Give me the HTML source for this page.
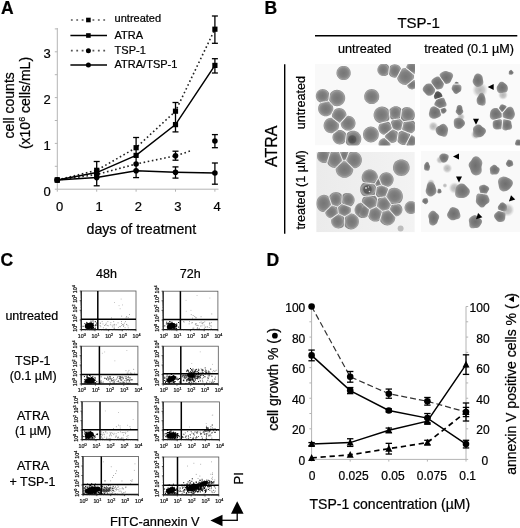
<!DOCTYPE html>
<html><head><meta charset="utf-8"><style>
html,body{margin:0;padding:0;background:#fff;width:520px;height:528px;overflow:hidden}
svg{display:block;will-change:transform;filter:blur(0.35px)}
text{font-family:"Liberation Sans", sans-serif;stroke:#000;stroke-width:0.22px}
</style></head><body>
<svg width="520" height="528" viewBox="0 0 520 528">
<rect width="520" height="528" fill="#fff"/>
<text x="1" y="14" font-size="17.5" text-anchor="start" font-weight="bold" fill="#000">A</text>
<text x="264.6" y="14" font-size="17.5" text-anchor="start" font-weight="bold" fill="#000">B</text>
<text x="0.5" y="266" font-size="17.5" text-anchor="start" font-weight="bold" fill="#000">C</text>
<text x="266.5" y="266" font-size="17.5" text-anchor="start" font-weight="bold" fill="#000">D</text>
<line x1="57.3" y1="28" x2="57.3" y2="189.2" stroke="#b4b4b4" stroke-width="1"/>
<line x1="57.3" y1="189.2" x2="218.5" y2="189.2" stroke="#b4b4b4" stroke-width="1"/>
<line x1="54.8" y1="189.2" x2="57.3" y2="189.2" stroke="#b4b4b4" stroke-width="1"/>
<line x1="54.8" y1="166.29999999999998" x2="57.3" y2="166.29999999999998" stroke="#b4b4b4" stroke-width="1"/>
<line x1="54.8" y1="143.39999999999998" x2="57.3" y2="143.39999999999998" stroke="#b4b4b4" stroke-width="1"/>
<line x1="54.8" y1="120.5" x2="57.3" y2="120.5" stroke="#b4b4b4" stroke-width="1"/>
<line x1="54.8" y1="97.6" x2="57.3" y2="97.6" stroke="#b4b4b4" stroke-width="1"/>
<line x1="54.8" y1="74.69999999999999" x2="57.3" y2="74.69999999999999" stroke="#b4b4b4" stroke-width="1"/>
<line x1="54.8" y1="51.80000000000001" x2="57.3" y2="51.80000000000001" stroke="#b4b4b4" stroke-width="1"/>
<line x1="54.8" y1="28.900000000000006" x2="57.3" y2="28.900000000000006" stroke="#b4b4b4" stroke-width="1"/>
<line x1="57.3" y1="189.2" x2="57.3" y2="191.7" stroke="#b4b4b4" stroke-width="1"/>
<line x1="96.69999999999999" y1="189.2" x2="96.69999999999999" y2="191.7" stroke="#b4b4b4" stroke-width="1"/>
<line x1="136.1" y1="189.2" x2="136.1" y2="191.7" stroke="#b4b4b4" stroke-width="1"/>
<line x1="175.5" y1="189.2" x2="175.5" y2="191.7" stroke="#b4b4b4" stroke-width="1"/>
<line x1="214.89999999999998" y1="189.2" x2="214.89999999999998" y2="191.7" stroke="#b4b4b4" stroke-width="1"/>
<text x="50.8" y="195.79999999999998" font-size="13" text-anchor="end" fill="#000">0</text>
<text x="50.8" y="149.99999999999997" font-size="13" text-anchor="end" fill="#000">1</text>
<text x="50.8" y="104.19999999999999" font-size="13" text-anchor="end" fill="#000">2</text>
<text x="50.8" y="58.40000000000001" font-size="13" text-anchor="end" fill="#000">3</text>
<text x="59.599999999999994" y="210.8" font-size="13" text-anchor="middle" fill="#000">0</text>
<text x="98.99999999999999" y="210.8" font-size="13" text-anchor="middle" fill="#000">1</text>
<text x="138.4" y="210.8" font-size="13" text-anchor="middle" fill="#000">2</text>
<text x="177.8" y="210.8" font-size="13" text-anchor="middle" fill="#000">3</text>
<text x="217.2" y="210.8" font-size="13" text-anchor="middle" fill="#000">4</text>
<text x="86.5" y="233.8" font-size="14.2" text-anchor="start" fill="#000">days of treatment</text>
<text x="14.5" y="105.3" font-size="14" text-anchor="middle" transform="rotate(-90 14.5 105.3)" fill="#000">cell counts</text>
<text x="30" y="103" font-size="14" text-anchor="middle" transform="rotate(-90 30 103)">(x10<tspan font-size="9" dy="-5">6</tspan><tspan dy="5"> cells/mL)</tspan></text>
<polyline points="57.3,180.0 96.7,170.3 136.1,147.7 175.5,111.2 214.9,29.2" fill="none" stroke="#222" stroke-width="1.6" stroke-dasharray="1.6 2.6"/>
<polyline points="57.3,180.0 96.7,174.5 136.1,164.0 175.5,155.8 191.5,150.6" fill="none" stroke="#222" stroke-width="1.6" stroke-dasharray="1.6 2.6"/>
<polyline points="57.3,180.0 96.7,172.6 136.1,155.4 175.5,124.6 214.9,65.4" fill="none" stroke="#000" stroke-width="1.5"/>
<polyline points="57.3,180.0 96.7,177.6 136.1,170.8 175.5,172.3 214.9,173.0" fill="none" stroke="#000" stroke-width="1.5"/>
<line x1="96.69999999999999" y1="161.5" x2="96.69999999999999" y2="185.8" stroke="#000" stroke-width="1.3"/>
<line x1="93.69999999999999" y1="161.5" x2="99.69999999999999" y2="161.5" stroke="#000" stroke-width="1.3"/>
<line x1="93.69999999999999" y1="185.8" x2="99.69999999999999" y2="185.8" stroke="#000" stroke-width="1.3"/>
<line x1="136.1" y1="137.5" x2="136.1" y2="177.6" stroke="#000" stroke-width="1.3"/>
<line x1="133.1" y1="137.5" x2="139.1" y2="137.5" stroke="#000" stroke-width="1.3"/>
<line x1="133.1" y1="177.6" x2="139.1" y2="177.6" stroke="#000" stroke-width="1.3"/>
<line x1="175.5" y1="102.5" x2="175.5" y2="131.9" stroke="#000" stroke-width="1.3"/>
<line x1="172.5" y1="102.5" x2="178.5" y2="102.5" stroke="#000" stroke-width="1.3"/>
<line x1="172.5" y1="131.9" x2="178.5" y2="131.9" stroke="#000" stroke-width="1.3"/>
<line x1="175.5" y1="151.2" x2="175.5" y2="160.2" stroke="#000" stroke-width="1.3"/>
<line x1="172.5" y1="151.2" x2="178.5" y2="151.2" stroke="#000" stroke-width="1.3"/>
<line x1="172.5" y1="160.2" x2="178.5" y2="160.2" stroke="#000" stroke-width="1.3"/>
<line x1="175.5" y1="166.9" x2="175.5" y2="178.1" stroke="#000" stroke-width="1.3"/>
<line x1="172.5" y1="166.9" x2="178.5" y2="166.9" stroke="#000" stroke-width="1.3"/>
<line x1="172.5" y1="178.1" x2="178.5" y2="178.1" stroke="#000" stroke-width="1.3"/>
<line x1="214.89999999999998" y1="16" x2="214.89999999999998" y2="43.3" stroke="#000" stroke-width="1.3"/>
<line x1="211.89999999999998" y1="16" x2="217.89999999999998" y2="16" stroke="#000" stroke-width="1.3"/>
<line x1="211.89999999999998" y1="43.3" x2="217.89999999999998" y2="43.3" stroke="#000" stroke-width="1.3"/>
<line x1="214.89999999999998" y1="58.7" x2="214.89999999999998" y2="73" stroke="#000" stroke-width="1.3"/>
<line x1="211.89999999999998" y1="58.7" x2="217.89999999999998" y2="58.7" stroke="#000" stroke-width="1.3"/>
<line x1="211.89999999999998" y1="73" x2="217.89999999999998" y2="73" stroke="#000" stroke-width="1.3"/>
<line x1="214.89999999999998" y1="134.6" x2="214.89999999999998" y2="147.7" stroke="#000" stroke-width="1.3"/>
<line x1="211.89999999999998" y1="134.6" x2="217.89999999999998" y2="134.6" stroke="#000" stroke-width="1.3"/>
<line x1="211.89999999999998" y1="147.7" x2="217.89999999999998" y2="147.7" stroke="#000" stroke-width="1.3"/>
<line x1="214.89999999999998" y1="163" x2="214.89999999999998" y2="184.2" stroke="#000" stroke-width="1.3"/>
<line x1="211.89999999999998" y1="163" x2="217.89999999999998" y2="163" stroke="#000" stroke-width="1.3"/>
<line x1="211.89999999999998" y1="184.2" x2="217.89999999999998" y2="184.2" stroke="#000" stroke-width="1.3"/>
<rect x="54.699999999999996" y="177.44" width="5.2" height="5.2" fill="#000"/>
<rect x="94.1" y="167.70000000000002" width="5.2" height="5.2" fill="#000"/>
<rect x="133.5" y="145.1" width="5.2" height="5.2" fill="#000"/>
<rect x="172.9" y="108.60000000000001" width="5.2" height="5.2" fill="#000"/>
<rect x="212.29999999999998" y="26.599999999999998" width="5.2" height="5.2" fill="#000"/>
<rect x="54.699999999999996" y="177.44" width="5.2" height="5.2" fill="#000"/>
<rect x="94.1" y="170.0" width="5.2" height="5.2" fill="#000"/>
<rect x="133.5" y="152.8" width="5.2" height="5.2" fill="#000"/>
<rect x="172.9" y="122.0" width="5.2" height="5.2" fill="#000"/>
<rect x="212.29999999999998" y="62.800000000000004" width="5.2" height="5.2" fill="#000"/>
<circle cx="57.3" cy="180.0" r="2.8" fill="#000"/>
<circle cx="96.7" cy="174.5" r="2.8" fill="#000"/>
<circle cx="136.1" cy="164.0" r="2.8" fill="#000"/>
<circle cx="175.5" cy="155.8" r="2.8" fill="#000"/>
<circle cx="214.9" cy="141.0" r="2.8" fill="#000"/>
<circle cx="57.3" cy="180.0" r="2.8" fill="#000"/>
<circle cx="96.7" cy="177.6" r="2.8" fill="#000"/>
<circle cx="136.1" cy="170.8" r="2.8" fill="#000"/>
<circle cx="175.5" cy="172.3" r="2.8" fill="#000"/>
<circle cx="214.9" cy="173.0" r="2.8" fill="#000"/>
<line x1="70.9" y1="20" x2="107" y2="20" stroke="#555" stroke-width="1.7" stroke-dasharray="1.8 3.6"/>
<rect x="86.10000000000001" y="17.7" width="4.6" height="4.6" fill="#000"/>
<text x="114.6" y="21.8" font-size="11" text-anchor="start" fill="#000">untreated</text>
<line x1="70.4" y1="35.5" x2="107" y2="35.5" stroke="#000" stroke-width="1.5"/>
<rect x="86.10000000000001" y="33.2" width="4.6" height="4.6" fill="#000"/>
<text x="114.6" y="38.5" font-size="11" text-anchor="start" fill="#000">ATRA</text>
<line x1="70.9" y1="50.7" x2="107" y2="50.7" stroke="#555" stroke-width="1.7" stroke-dasharray="1.8 3.6"/>
<circle cx="88.4" cy="50.7" r="2.5" fill="#000"/>
<text x="114.6" y="54.2" font-size="11" text-anchor="start" fill="#000">TSP-1</text>
<line x1="70.4" y1="65" x2="107" y2="65" stroke="#000" stroke-width="1.5"/>
<circle cx="88.4" cy="65.0" r="2.5" fill="#000"/>
<text x="114.6" y="67.7" font-size="11" text-anchor="start" fill="#000">ATRA/TSP-1</text>
<text x="418.7" y="27.7" font-size="15" text-anchor="middle" fill="#000">TSP-1</text>
<line x1="315" y1="35.8" x2="517.3" y2="35.8" stroke="#000" stroke-width="1.5"/>
<text x="338.0" y="53.3" font-size="12.6" text-anchor="start" fill="#000">untreated</text>
<text x="424.2" y="52.5" font-size="12.6" text-anchor="start" fill="#000">treated (0.1 µM)</text>
<line x1="284.7" y1="64.3" x2="284.7" y2="233.7" stroke="#000" stroke-width="1.4"/>
<text x="277.0" y="146.3" font-size="16" text-anchor="middle" transform="rotate(-90 277.0 146.3)" fill="#000">ATRA</text>
<text x="305.0" y="102.6" font-size="12.6" text-anchor="middle" transform="rotate(-90 305.0 102.6)" fill="#000">untreated</text>
<text x="305.0" y="189.9" font-size="12.6" text-anchor="middle" transform="rotate(-90 305.0 189.9)" fill="#000">treated (1 µM)</text>
<defs><radialGradient id="gA" cx="0.5" cy="0.5" r="0.5"><stop offset="0" stop-color="#767676"/><stop offset="0.5" stop-color="#7f7f7f"/><stop offset="0.75" stop-color="#8c8c8c"/><stop offset="0.88" stop-color="#a0a0a0"/><stop offset="0.96" stop-color="#939393"/><stop offset="1" stop-color="#878787"/></radialGradient><radialGradient id="gB" cx="0.5" cy="0.5" r="0.5"><stop offset="0" stop-color="#6e6e6e"/><stop offset="0.6" stop-color="#7c7c7c"/><stop offset="0.85" stop-color="#8c8c8c"/><stop offset="1" stop-color="#9c9c9c"/></radialGradient><radialGradient id="gN" cx="0.5" cy="0.5" r="0.5"><stop offset="0" stop-color="#4a4a4a"/><stop offset="0.8" stop-color="#5a5a5a"/><stop offset="1" stop-color="#6a6a6a"/></radialGradient><radialGradient id="gP" cx="0.5" cy="0.5" r="0.5"><stop offset="0" stop-color="#b4b4b4"/><stop offset="0.55" stop-color="#c4c4c4" stop-opacity="0.9"/><stop offset="1" stop-color="#d8d8d8" stop-opacity="0"/></radialGradient><linearGradient id="bg3" x1="0" y1="0" x2="1" y2="0"><stop offset="0" stop-color="#ebebeb"/><stop offset="1" stop-color="#f3f3f3"/></linearGradient></defs>
<clipPath id="clip1"><rect x="315" y="64" width="100" height="81.5"/></clipPath>
<g clip-path="url(#clip1)">
<rect x="315" y="64" width="100" height="81.5" fill="#f9f9f9"/>
<polygon points="350.70,73.00 350.59,74.23 350.27,75.43 349.75,76.55 349.04,77.56 348.16,78.44 347.15,79.15 346.03,79.67 344.83,79.99 343.60,80.10 342.37,79.99 341.17,79.67 340.05,79.15 339.04,78.44 338.16,77.56 337.45,76.55 336.93,75.43 336.61,74.23 336.50,73.00 336.61,71.77 336.93,70.57 337.45,69.45 338.16,68.44 339.04,67.56 340.05,66.85 341.17,66.33 342.37,66.01 343.60,65.90 344.83,66.01 346.03,66.33 347.15,66.85 348.16,67.56 349.04,68.44 349.75,69.45 350.27,70.57 350.59,71.77" fill="url(#gA)"/>
<polygon points="328.85,96.00 328.70,97.06 328.55,98.13 328.39,99.28 327.99,100.44 326.79,100.88 325.67,101.14 324.66,101.38 323.69,101.61 322.70,101.84 321.63,102.10 320.37,102.39 319.25,101.98 318.26,101.29 317.41,100.44 316.72,99.45 316.22,98.36 315.90,97.20 315.80,96.00 315.90,94.80 316.22,93.64 316.72,92.55 317.41,91.56 318.26,90.71 319.25,90.02 320.34,89.52 321.50,89.20 322.70,89.10 323.90,89.20 325.06,89.52 326.15,90.02 327.14,90.71 327.99,91.56 328.68,92.55 329.18,93.64 329.00,94.89" fill="url(#gA)"/>
<polygon points="345.20,98.00 345.08,99.42 344.71,100.80 344.10,102.10 343.28,103.27 342.27,104.28 341.10,105.10 339.80,105.71 338.42,106.08 337.00,106.20 335.58,106.08 334.20,105.71 333.02,104.90 332.06,103.89 331.14,102.92 330.20,101.93 329.29,100.80 329.29,99.36 329.48,98.00 329.66,96.71 329.84,95.39 330.04,93.98 330.72,92.73 331.73,91.72 332.90,90.90 334.20,90.29 335.58,89.92 337.00,89.80 338.42,89.92 339.80,90.29 341.10,90.90 342.27,91.72 343.28,92.73 344.10,93.90 344.71,95.20 345.08,96.58" fill="url(#gA)"/>
<polygon points="333.30,108.70 333.13,110.01 332.54,111.19 331.98,112.32 331.40,113.48 330.59,114.52 329.50,115.28 328.30,115.84 327.02,116.18 325.70,116.30 324.38,116.18 323.10,115.84 321.90,115.28 320.81,114.52 319.88,113.59 319.12,112.50 318.56,111.30 318.22,110.02 318.10,108.70 318.22,107.38 318.56,106.10 319.12,104.90 319.88,103.81 321.05,103.16 322.33,102.86 323.47,102.58 324.58,102.32 325.70,102.06 326.92,101.77 328.30,101.56 329.37,102.35 330.25,103.28 331.09,104.18 331.96,105.09 332.84,106.10 333.18,107.38" fill="url(#gA)"/>
<polygon points="346.39,115.40 345.43,116.50 344.65,117.38 343.97,118.16 343.34,118.88 342.72,119.59 342.05,120.34 341.31,121.19 340.40,122.23 339.20,122.67 338.07,121.79 337.14,121.06 336.31,120.41 335.52,119.79 334.72,119.16 333.85,118.49 332.86,117.71 332.01,116.67 331.90,115.40 332.08,114.14 332.64,113.01 333.18,111.92 333.73,110.81 334.51,109.81 335.55,109.08 336.70,108.54 337.93,108.21 339.20,108.10 340.47,108.21 341.70,108.54 342.85,109.08 343.89,109.81 344.79,110.71 345.52,111.75 346.06,112.90 346.39,114.13" fill="url(#gA)"/>
<polygon points="339.00,125.50 338.88,126.84 338.54,128.13 337.96,129.35 336.84,130.15 335.82,130.89 334.82,131.60 333.79,132.34 332.64,133.08 331.30,133.20 329.96,133.08 328.67,132.74 327.45,132.17 326.35,131.40 325.40,130.45 324.63,129.35 324.06,128.13 323.72,126.84 323.60,125.50 323.72,124.16 324.06,122.87 324.63,121.65 325.40,120.55 326.35,119.60 327.45,118.83 328.67,118.26 329.96,117.92 331.30,117.80 332.52,118.59 333.53,119.38 334.43,120.08 335.28,120.75 336.15,121.43 337.09,122.16 338.16,123.00 338.88,124.16" fill="url(#gA)"/>
<polygon points="355.50,123.20 355.39,124.48 355.05,125.73 354.51,126.90 353.77,127.96 352.86,128.87 351.80,129.61 350.63,130.15 349.38,130.49 348.10,130.60 346.82,130.49 345.57,130.15 344.40,129.61 343.34,128.87 342.43,127.96 341.69,126.90 341.15,125.73 340.81,124.48 340.75,123.20 341.73,122.08 342.53,121.17 343.22,120.38 343.86,119.65 344.50,118.91 345.18,118.14 345.94,117.27 346.87,116.22 348.10,115.80 349.38,115.91 350.63,116.25 351.80,116.79 352.86,117.53 353.77,118.44 354.51,119.50 355.05,120.67 355.39,121.92" fill="url(#gA)"/>
<polygon points="345.48,137.20 345.35,138.20 345.22,139.21 345.09,140.31 344.92,141.58 344.33,142.72 343.30,143.44 342.16,143.97 340.95,144.29 339.70,144.40 338.45,144.29 337.24,143.97 336.10,143.44 335.07,142.72 334.18,141.83 333.46,140.80 332.93,139.66 332.61,138.45 332.50,137.20 332.61,135.95 332.93,134.74 333.53,133.64 334.57,132.89 335.51,132.21 336.44,131.55 337.39,130.86 338.45,130.11 339.70,130.00 340.95,130.11 342.16,130.43 343.30,130.96 344.33,131.68 345.22,132.57 345.94,133.60 345.76,134.99 345.61,136.16" fill="url(#gA)"/>
<polygon points="361.30,138.90 361.18,140.32 360.81,141.70 360.20,143.00 359.38,144.17 358.37,145.18 357.20,146.00 355.90,146.61 354.52,146.98 353.10,147.10 351.68,146.98 350.30,146.61 349.00,146.00 347.83,145.18 346.82,144.17 346.00,143.00 345.84,141.54 346.01,140.15 346.17,138.90 346.32,137.70 346.48,136.49 346.64,135.17 346.84,133.65 347.83,132.62 349.00,131.80 350.30,131.22 351.68,130.82 353.10,130.70 354.52,130.82 355.90,131.19 357.20,131.80 358.37,132.62 359.38,133.63 360.20,134.80 360.81,136.10 361.18,137.48" fill="url(#gA)"/>
<polygon points="379.20,96.60 379.09,97.90 378.75,99.17 378.20,100.35 377.45,101.42 376.52,102.35 375.45,103.10 374.27,103.65 373.00,103.99 371.70,104.10 370.40,103.99 369.13,103.65 367.95,103.10 366.88,102.35 365.95,101.42 365.20,100.35 364.65,99.17 364.31,97.90 364.20,96.60 364.31,95.30 364.65,94.03 365.20,92.85 365.95,91.78 366.88,90.85 367.95,90.10 369.13,89.55 370.40,89.21 371.70,89.10 373.00,89.21 374.27,89.55 375.45,90.10 376.52,90.85 377.45,91.78 378.20,92.85 378.75,94.03 379.09,95.30" fill="url(#gA)"/>
<polygon points="388.63,69.80 388.54,70.65 388.44,71.53 388.34,72.48 388.22,73.59 387.75,74.63 386.85,75.26 385.85,75.72 384.79,76.00 383.70,76.10 382.61,76.00 381.55,75.72 380.55,75.26 379.65,74.63 378.87,73.85 378.24,72.95 377.78,71.95 377.50,70.89 377.40,69.80 377.50,68.71 377.78,67.65 378.24,66.65 378.87,65.75 379.65,64.97 380.55,64.34 381.55,63.88 382.61,63.60 383.70,63.50 384.79,63.60 385.85,63.88 386.85,64.34 387.75,64.97 388.53,65.75 388.96,66.77 388.83,67.93 388.72,68.91" fill="url(#gA)"/>
<polygon points="399.78,71.00 399.37,71.80 398.99,72.53 398.64,73.22 398.28,73.92 397.89,74.68 397.43,75.56 396.86,76.67 395.96,77.60 394.80,77.70 393.64,77.60 392.51,77.30 391.45,76.80 390.49,76.13 389.67,75.31 389.04,74.32 389.18,73.04 389.30,71.97 389.40,71.00 389.50,70.07 389.61,69.11 389.72,68.07 389.85,66.85 390.49,65.87 391.45,65.20 392.51,64.70 393.64,64.40 394.80,64.30 395.96,64.40 397.09,64.70 398.15,65.20 399.11,65.87 399.93,66.69 400.60,67.65 400.92,68.77 400.28,70.03" fill="url(#gA)"/>
<polygon points="417.90,68.40 417.81,69.42 417.54,70.42 417.11,71.35 416.52,72.19 415.79,72.92 414.95,73.51 413.94,73.73 412.77,72.79 412.00,72.17 411.42,71.70 410.94,71.32 410.51,70.98 410.11,70.65 409.70,70.33 409.27,69.98 408.77,69.58 408.15,69.08 407.30,68.40 406.19,67.38 406.46,66.38 406.89,65.45 407.48,64.61 408.21,63.88 409.05,63.29 409.98,62.86 410.98,62.59 412.00,62.50 413.02,62.59 414.02,62.86 414.95,63.29 415.79,63.88 416.52,64.61 417.11,65.45 417.54,66.38 417.81,67.38" fill="url(#gA)"/>
<polygon points="414.00,76.50 413.87,77.98 413.21,79.31 412.03,80.27 411.00,81.11 410.03,81.90 409.07,82.68 408.05,83.50 406.90,84.44 405.50,85.00 404.02,84.87 402.59,84.49 401.25,83.86 400.04,83.01 398.99,81.96 398.14,80.75 397.51,79.41 397.21,77.96 397.96,76.50 398.59,75.28 399.15,74.19 399.69,73.14 400.23,72.08 400.83,70.93 401.51,69.59 402.59,68.51 404.02,68.13 405.50,68.11 406.80,69.15 407.86,70.00 408.81,70.76 409.71,71.48 410.61,72.21 411.58,72.99 412.69,73.88 413.87,75.02" fill="url(#gA)"/>
<polygon points="416.90,84.50 416.83,85.35 416.60,86.18 416.24,86.95 415.75,87.65 415.15,88.25 414.45,88.74 413.68,89.10 412.85,89.33 412.00,89.40 411.15,89.33 410.32,89.10 409.55,88.74 408.85,88.25 408.25,87.65 407.76,86.95 407.40,86.18 407.21,85.34 408.25,84.50 408.92,83.96 409.41,83.56 409.81,83.23 410.16,82.95 410.48,82.69 410.80,82.43 411.14,82.15 411.53,81.84 412.00,81.45 412.63,80.94 413.57,80.18 414.45,80.26 415.15,80.75 415.75,81.35 416.24,82.05 416.60,82.82 416.83,83.65" fill="url(#gA)"/>
<polygon points="389.15,115.00 389.29,116.29 389.45,117.71 389.27,119.20 388.43,120.40 387.08,121.05 385.69,121.40 384.44,121.72 383.24,122.02 382.00,122.34 380.65,122.68 379.13,122.89 377.80,122.27 376.60,121.43 375.57,120.40 374.73,119.20 374.11,117.87 373.73,116.46 373.60,115.00 373.73,113.54 374.11,112.13 374.73,110.80 375.57,109.60 376.60,108.57 377.80,107.73 379.13,107.11 380.54,106.73 382.00,106.60 383.46,106.73 384.87,107.11 386.20,107.73 387.40,108.57 388.43,109.60 388.73,111.11 388.88,112.50 389.02,113.76" fill="url(#gA)"/>
<polygon points="400.64,113.50 400.53,114.33 400.41,115.18 400.29,116.09 400.15,117.15 399.85,118.33 398.69,118.50 397.68,118.66 396.73,118.80 395.80,118.94 394.81,119.09 393.70,119.26 392.35,119.47 391.11,119.09 390.39,118.04 390.25,116.71 390.12,115.57 390.01,114.52 389.90,113.50 389.78,112.44 389.65,111.26 389.50,109.86 390.21,108.81 391.11,107.91 392.15,107.18 393.30,106.64 394.53,106.31 395.80,106.20 397.07,106.31 398.30,106.64 399.45,107.18 400.49,107.91 401.25,108.93 401.04,110.47 400.89,111.65 400.76,112.63" fill="url(#gA)"/>
<polygon points="414.90,115.00 414.78,116.37 414.42,117.70 413.84,118.95 412.84,119.90 411.30,120.13 410.07,120.31 408.99,120.47 407.99,120.62 407.00,120.77 405.95,120.93 404.78,121.10 403.40,121.24 402.54,120.32 401.71,119.44 400.87,118.54 401.06,117.16 401.21,116.02 401.35,115.00 401.48,114.03 401.61,113.04 401.75,111.97 401.92,110.74 402.12,109.19 403.05,108.16 404.30,107.58 405.63,107.22 407.00,107.10 408.37,107.22 409.70,107.58 410.95,108.16 412.08,108.95 413.05,109.92 413.84,111.05 414.42,112.30 414.78,113.63" fill="url(#gA)"/>
<polygon points="391.76,128.00 391.43,129.08 390.45,129.88 389.66,130.52 388.97,131.08 388.32,131.60 387.68,132.13 387.00,132.68 386.23,133.30 385.30,134.06 384.10,134.80 382.94,134.48 381.85,133.98 380.86,133.29 380.01,132.44 379.32,131.45 378.82,130.36 378.50,129.20 378.40,128.00 378.50,126.80 378.82,125.64 379.32,124.55 380.20,123.72 381.45,123.41 382.49,123.14 383.44,122.90 384.36,122.67 385.30,122.43 386.33,122.17 387.53,121.86 388.75,122.02 389.74,122.71 390.36,123.76 390.72,124.87 391.07,125.90 391.40,126.92" fill="url(#gA)"/>
<polygon points="402.36,124.00 402.18,124.84 402.00,125.67 401.81,126.55 401.61,127.53 401.36,128.71 400.65,129.63 399.62,130.11 398.53,130.40 397.40,130.50 396.33,130.09 395.35,129.63 394.40,129.19 393.43,128.73 392.69,127.95 392.35,126.92 392.03,125.95 391.72,125.00 391.38,124.00 391.01,122.87 391.29,121.78 391.77,120.75 392.97,120.28 394.13,120.11 395.07,119.96 395.89,119.84 396.65,119.72 397.40,119.61 398.20,119.49 399.09,119.35 400.18,119.19 400.87,119.86 401.51,120.55 402.17,121.25 402.77,122.04 402.55,123.09" fill="url(#gA)"/>
<polygon points="416.00,126.40 415.89,127.67 415.56,128.90 415.02,130.05 414.29,131.09 413.39,131.99 412.35,132.72 411.20,133.26 409.88,133.08 408.70,132.58 407.69,132.15 406.75,131.75 405.83,131.36 404.88,130.96 403.81,130.50 402.53,129.96 402.27,128.74 402.54,127.49 402.77,126.40 402.98,125.39 403.19,124.40 403.41,123.35 403.67,122.18 404.99,121.98 406.06,121.82 406.98,121.68 407.85,121.56 408.70,121.43 409.60,121.29 410.61,121.14 411.84,120.96 413.39,120.81 414.29,121.71 415.02,122.75 415.56,123.90 415.89,125.13" fill="url(#gA)"/>
<polygon points="378.80,134.50 378.68,135.87 378.32,137.20 377.74,138.45 376.95,139.58 375.98,140.55 374.85,141.34 373.60,141.92 372.27,142.28 370.90,142.40 369.53,142.28 368.20,141.92 366.95,141.34 365.82,140.55 364.85,139.58 364.06,138.45 363.48,137.20 363.12,135.87 363.00,134.50 363.12,133.13 363.48,131.80 364.06,130.55 364.85,129.42 365.82,128.45 366.95,127.66 368.20,127.08 369.53,126.72 370.90,126.60 372.27,126.72 373.60,127.08 374.85,127.66 375.98,128.45 376.95,129.42 377.74,130.55 378.32,131.80 378.68,133.13" fill="url(#gA)"/>
<polygon points="397.28,136.00 397.15,136.94 397.01,137.90 396.87,138.93 396.70,140.11 396.24,141.29 395.25,141.98 394.16,142.48 393.00,142.80 391.80,142.90 390.66,142.48 389.74,141.65 388.96,140.93 388.23,140.26 387.51,139.60 386.75,138.91 385.91,138.14 385.00,137.20 384.90,136.00 385.67,134.92 386.65,134.12 387.44,133.48 388.13,132.92 388.78,132.40 389.42,131.87 390.10,131.32 390.87,130.70 391.80,129.94 392.95,129.50 393.99,129.99 395.00,130.46 396.04,130.95 397.09,131.56 397.76,132.56 397.58,133.90 397.42,135.01" fill="url(#gA)"/>
<polygon points="408.89,137.70 408.47,138.51 408.10,139.23 407.74,139.92 407.38,140.62 406.99,141.38 406.53,142.26 405.96,143.37 405.17,144.89 403.90,145.00 402.63,144.89 401.40,144.56 400.25,144.02 399.21,143.29 398.31,142.39 397.58,141.35 397.63,139.98 397.80,138.78 397.95,137.70 398.09,136.68 398.24,135.64 398.40,134.52 398.58,133.23 399.21,132.11 400.25,131.38 401.40,130.84 402.72,131.02 403.90,131.52 404.91,131.95 405.85,132.35 406.77,132.74 407.72,133.14 408.79,133.60 410.07,134.14 410.04,135.46 409.39,136.73" fill="url(#gA)"/>
<polygon points="390.40,144.00 390.31,145.02 390.04,146.02 389.61,146.95 389.02,147.79 388.29,148.52 387.45,149.11 386.52,149.54 385.52,149.81 384.50,149.90 383.48,149.81 382.48,149.54 381.55,149.11 380.71,148.52 379.98,147.79 379.39,146.95 378.96,146.02 378.69,145.02 378.60,144.00 378.69,142.98 378.96,141.98 379.39,141.05 379.98,140.21 380.71,139.48 381.55,138.89 382.48,138.46 383.48,138.19 384.50,138.10 385.40,138.90 386.12,139.55 386.74,140.12 387.31,140.65 387.88,141.16 388.47,141.71 389.14,142.31 389.94,143.04" fill="url(#gA)"/>
<polygon points="416.20,141.00 416.11,142.02 415.84,143.02 415.41,143.95 414.82,144.79 414.09,145.52 413.25,146.11 412.32,146.54 411.32,146.81 410.30,146.90 409.28,146.81 408.28,146.54 407.35,146.11 406.51,145.52 406.60,144.11 407.31,142.73 407.71,141.94 407.99,141.41 408.20,141.00 408.37,140.66 408.53,140.36 408.68,140.07 408.83,139.77 409.00,139.45 409.19,139.08 409.43,138.61 409.76,137.96 410.30,136.93 411.32,135.19 412.32,135.46 413.25,135.89 414.09,136.48 414.82,137.21 415.41,138.05 415.84,138.98 416.11,139.98" fill="url(#gA)"/>
</g>
<circle cx="352.3" cy="139.4" r="4.3" fill="url(#gN)" clip-path="url(#clip1)"/>
<clipPath id="clip2"><rect x="419.6" y="64" width="100.39999999999998" height="81.5"/></clipPath>
<g clip-path="url(#clip2)">
<rect x="419.6" y="64" width="100.39999999999998" height="81.5" fill="#fafafa"/>
<circle cx="480" cy="90" r="8" fill="url(#gP)"/>
<circle cx="433.3" cy="126.4" r="5" fill="url(#gP)"/>
<circle cx="475.7" cy="134.5" r="5" fill="url(#gP)"/>
<circle cx="461" cy="117" r="4" fill="url(#gP)"/>
<circle cx="503" cy="95" r="5" fill="url(#gP)"/>
<polygon points="452.77,77.30 452.24,78.36 451.74,79.32 451.33,80.26 450.89,81.23 450.28,82.16 449.45,82.92 448.45,83.48 447.36,83.86 446.20,84.10 445.09,83.57 444.32,82.45 443.73,81.59 443.22,80.85 442.76,80.19 442.31,79.54 441.85,78.88 441.35,78.15 440.76,77.30 440.01,76.21 439.53,74.87 440.07,73.76 440.93,72.88 441.92,72.20 442.95,71.66 444.00,71.26 445.10,71.05 446.20,71.10 447.25,71.36 448.24,71.71 449.24,72.03 450.33,72.37 451.48,72.87 452.47,73.68 453.06,74.80 453.13,76.08" fill="url(#gB)"/>
<polygon points="443.54,82.90 444.05,83.95 443.73,84.95 443.43,85.98 443.02,87.03 442.35,87.96 441.42,88.66 440.35,89.09 439.24,89.35 438.10,89.52 436.93,89.55 435.97,88.76 435.27,87.81 434.67,86.99 434.11,86.25 433.57,85.51 433.01,84.75 432.39,83.91 431.64,82.90 431.25,81.69 431.51,80.50 432.18,79.48 433.06,78.67 433.99,78.00 434.92,77.40 435.91,76.88 436.98,76.55 438.10,76.52 439.19,76.75 439.98,77.75 440.57,78.61 441.08,79.35 441.54,80.01 441.99,80.66 442.45,81.32 442.95,82.05" fill="url(#gB)"/>
<polygon points="435.09,89.40 435.03,90.41 434.93,91.45 434.48,92.39 433.87,93.23 433.24,94.09 432.44,94.84 431.45,95.32 430.41,95.68 429.30,95.86 428.18,95.75 427.15,95.31 426.29,94.62 425.58,93.83 424.93,93.07 424.23,92.32 423.52,91.50 422.95,90.52 422.69,89.40 422.82,88.26 423.28,87.21 423.92,86.29 424.62,85.47 425.38,84.73 426.24,84.10 427.21,83.67 428.25,83.47 429.30,83.46 430.33,83.54 431.29,83.94 431.94,84.82 432.50,85.58 433.02,86.28 433.52,86.96 434.05,87.67 434.63,88.46" fill="url(#gB)"/>
<polygon points="442.39,95.80 442.49,96.57 441.56,97.06 440.75,97.33 440.16,97.53 439.68,97.69 439.27,97.82 438.88,97.95 438.50,98.08 438.10,98.21 437.65,98.37 437.10,98.55 436.37,98.79 435.29,99.15 434.70,98.65 434.28,98.01 434.00,97.29 433.90,96.54 433.99,95.80 434.22,95.12 434.50,94.49 434.77,93.88 435.05,93.24 435.43,92.61 435.89,91.98 436.54,91.51 437.31,91.31 438.10,91.36 438.84,91.60 439.51,91.94 440.11,92.32 440.65,92.76 441.14,93.25 441.55,93.81 441.89,94.42 442.18,95.08" fill="url(#gN)"/>
<polygon points="446.19,103.00 446.54,104.06 446.53,105.19 446.05,106.21 444.83,106.63 443.83,106.97 442.97,107.27 442.16,107.55 441.35,107.82 440.50,108.11 439.59,108.17 438.79,107.71 438.03,107.27 437.28,106.84 436.48,106.38 435.56,105.85 434.45,105.20 434.30,104.09 434.59,103.00 435.12,102.05 435.63,101.23 436.01,100.41 436.55,99.68 437.46,99.38 438.26,99.11 438.99,98.86 439.73,98.62 440.50,98.36 441.37,98.07 442.42,97.72 443.52,97.76 444.29,98.49 444.79,99.40 445.08,100.35 445.35,101.24 445.72,102.08" fill="url(#gB)"/>
<polygon points="440.50,112.70 440.80,113.74 441.17,114.98 440.52,115.94 439.62,116.66 438.68,117.20 437.77,117.67 436.87,118.12 435.93,118.52 434.90,118.80 433.81,118.86 432.73,118.67 431.68,118.27 430.72,117.68 429.88,116.91 429.26,115.96 428.93,114.87 428.89,113.76 429.07,112.70 429.32,111.72 429.55,110.75 429.78,109.74 430.13,108.69 430.71,107.70 431.57,106.93 432.63,106.46 433.77,106.31 434.90,106.51 435.89,107.08 436.76,107.58 437.58,108.05 438.40,108.53 439.27,109.03 439.68,109.94 439.95,110.86 440.22,111.76" fill="url(#gB)"/>
<polygon points="446.68,110.30 446.59,110.93 446.30,111.50 445.90,111.97 445.49,112.39 445.09,112.79 444.66,113.17 444.15,113.47 443.59,113.63 443.00,113.65 442.42,113.57 441.85,113.46 441.50,112.91 441.32,112.31 441.18,111.83 441.06,111.42 440.94,111.05 440.84,110.68 440.72,110.30 440.60,109.88 440.45,109.37 440.73,108.99 441.23,108.82 441.64,108.68 441.99,108.55 442.32,108.44 442.65,108.33 443.00,108.21 443.39,108.08 443.87,107.91 444.50,107.69 445.06,107.84 445.42,108.27 445.79,108.69 446.19,109.14 446.52,109.68" fill="url(#gB)"/>
<polygon points="461.43,88.60 461.35,89.44 461.16,90.26 460.77,91.01 460.21,91.63 459.55,92.11 458.89,92.56 458.22,93.05 457.48,93.56 456.60,93.94 455.65,93.98 454.78,93.61 454.09,92.94 453.60,92.17 453.18,91.47 452.72,90.84 452.22,90.19 451.81,89.44 451.63,88.60 451.70,87.74 451.95,86.91 452.29,86.11 452.70,85.33 453.25,84.61 454.27,84.56 455.13,84.56 455.89,84.56 456.60,84.56 457.31,84.56 458.07,84.56 458.93,84.56 459.90,84.67 460.69,85.17 461.20,85.94 461.43,86.84 461.47,87.74" fill="url(#gB)"/>
<polygon points="458.55,83.70 456.60,83.70 456.60,83.70 456.60,83.70 456.60,83.70 456.60,83.70 456.60,83.70 456.60,83.70 456.60,83.70 456.60,83.70 456.60,83.70 456.60,83.70 456.60,83.70 456.60,83.70 456.60,83.70 456.60,83.70 456.60,83.70 456.60,83.70 454.55,83.70 454.51,83.33 454.59,82.97 454.78,82.65 455.03,82.38 455.30,82.15 455.60,81.97 455.92,81.84 456.26,81.78 456.60,81.80 456.92,81.86 457.24,81.94 457.57,82.02 457.92,82.13 458.25,82.32 458.50,82.60 458.63,82.96 458.63,83.34" fill="url(#gB)"/>
<polygon points="462.99,110.30 463.25,110.96 463.31,111.69 463.12,112.39 462.72,113.00 462.22,113.54 461.68,114.08 461.08,114.64 460.35,115.13 459.50,115.33 458.65,115.13 457.92,114.65 457.32,114.07 456.79,113.53 456.29,112.99 455.89,112.38 455.69,111.69 455.74,110.96 455.99,110.30 456.29,109.73 456.51,109.21 456.59,108.62 456.63,107.89 456.76,107.03 457.12,106.18 457.75,105.50 458.58,105.07 459.50,104.93 460.42,105.07 461.25,105.50 461.88,106.18 462.25,107.02 462.39,107.88 462.41,108.62 462.49,109.21 462.69,109.74" fill="url(#gB)"/>
<polygon points="465.02,123.20 464.79,124.22 464.29,125.13 463.65,125.89 463.00,126.55 462.36,127.20 461.67,127.83 460.89,128.39 459.98,128.78 459.00,128.95 458.00,128.89 457.02,128.65 456.09,128.24 455.26,127.66 454.60,126.89 454.16,125.99 453.95,125.04 453.87,124.10 453.82,123.20 453.76,122.28 453.77,121.30 453.95,120.29 454.42,119.36 455.16,118.62 456.07,118.13 457.06,117.87 458.04,117.75 459.00,117.75 459.94,117.86 460.85,118.13 461.69,118.54 462.46,119.08 463.18,119.69 463.86,120.39 464.47,121.21 464.90,122.16" fill="url(#gB)"/>
<polygon points="448.02,130.40 447.84,131.39 447.64,132.38 447.44,133.42 447.13,134.54 446.57,135.60 445.67,136.41 444.52,136.77 443.31,136.70 442.20,136.37 441.21,136.00 440.27,135.69 439.31,135.40 438.35,134.99 437.47,134.37 436.77,133.54 436.24,132.57 435.85,131.52 435.62,130.40 435.63,129.24 435.99,128.14 436.70,127.22 437.63,126.57 438.60,126.11 439.47,125.67 440.28,125.12 441.16,124.49 442.20,123.97 443.37,123.79 444.51,124.04 445.51,124.67 446.32,125.49 446.97,126.40 447.50,127.34 447.89,128.33 448.06,129.37" fill="url(#gB)"/>
<polygon points="483.12,80.50 483.30,81.42 483.37,82.42 483.20,83.44 482.74,84.39 482.04,85.19 481.19,85.85 480.25,86.41 479.22,86.87 478.10,87.11 476.95,87.02 475.89,86.57 475.01,85.85 474.30,85.03 473.70,84.19 473.19,83.33 472.81,82.42 472.64,81.46 472.72,80.50 472.99,79.60 473.35,78.77 473.68,77.95 473.98,77.05 474.35,76.03 474.92,75.00 475.78,74.13 476.89,73.62 478.10,73.51 479.29,73.77 480.36,74.29 481.28,75.00 481.99,75.87 482.46,76.84 482.71,77.84 482.83,78.78 482.95,79.65" fill="url(#gB)"/>
<polygon points="485.62,99.80 485.65,100.57 485.68,101.39 485.68,102.33 485.54,103.36 485.13,104.36 484.39,105.15 483.40,105.58 482.33,105.64 481.30,105.49 480.33,105.28 479.40,105.03 478.50,104.65 477.74,104.04 477.19,103.25 476.87,102.36 476.70,101.47 476.62,100.62 476.62,99.80 476.71,98.99 476.96,98.22 477.34,97.52 477.79,96.86 478.23,96.14 478.68,95.26 479.27,94.21 480.14,93.23 481.30,92.69 482.52,92.86 483.53,93.66 484.21,94.75 484.64,95.82 484.94,96.74 485.21,97.55 485.42,98.30 485.56,99.05" fill="url(#gB)"/>
<polygon points="507.87,87.80 507.91,88.81 507.79,89.84 507.44,90.83 506.80,91.66 505.92,92.23 504.92,92.51 503.95,92.62 503.06,92.70 502.20,92.88 501.27,93.09 500.25,93.17 499.22,92.96 498.32,92.43 497.63,91.64 497.15,90.72 496.83,89.75 496.67,88.78 496.67,87.80 496.88,86.86 497.27,86.01 497.74,85.23 498.22,84.46 498.72,83.65 499.32,82.81 500.12,82.09 501.12,81.68 502.20,81.68 503.21,82.06 504.08,82.65 504.82,83.27 505.52,83.85 506.21,84.44 506.85,85.12 507.36,85.92 507.70,86.83" fill="url(#gB)"/>
<polygon points="513.62,72.50 513.57,72.95 513.38,73.37 513.13,73.73 512.85,74.06 512.55,74.35 512.20,74.58 511.80,74.69 511.39,74.70 511.00,74.66 510.62,74.64 510.21,74.67 509.75,74.67 509.28,74.55 508.90,74.26 508.71,73.82 508.69,73.34 508.76,72.90 508.82,72.50 508.84,72.12 508.87,71.72 508.97,71.33 509.18,70.97 509.47,70.67 509.80,70.42 510.16,70.18 510.55,69.97 511.00,69.86 511.46,69.91 511.85,70.16 512.15,70.52 512.36,70.88 512.58,71.17 512.87,71.42 513.20,71.70 513.48,72.06" fill="url(#gB)"/>
<polygon points="501.73,114.30 501.79,115.36 501.86,116.51 501.27,117.46 500.34,118.11 499.23,118.38 498.29,118.61 497.45,118.82 496.63,119.02 495.80,119.23 494.89,119.46 493.83,119.72 492.63,119.79 491.60,119.31 490.73,118.56 490.13,117.57 489.86,116.46 489.84,115.35 489.94,114.30 490.07,113.29 490.24,112.28 490.53,111.26 491.02,110.29 491.74,109.46 492.63,108.81 493.62,108.32 494.69,108.00 495.80,107.88 496.91,108.00 497.92,108.47 498.63,109.39 499.25,110.19 499.83,110.92 500.39,111.65 500.98,112.41 501.65,113.27" fill="url(#gB)"/>
<polygon points="514.89,113.50 514.92,114.60 514.68,115.68 514.24,116.70 513.67,117.67 512.98,118.60 512.12,119.43 510.98,119.75 509.76,119.49 508.70,119.27 507.72,119.06 506.75,118.85 505.82,118.49 504.80,118.15 503.74,117.66 502.83,116.89 502.71,115.68 502.64,114.57 502.58,113.50 503.19,112.53 503.86,111.74 504.44,111.04 504.99,110.39 505.54,109.74 506.13,109.04 506.79,108.25 507.65,107.53 508.70,107.08 509.89,106.78 511.12,106.85 512.22,107.41 513.03,108.34 513.55,109.43 513.92,110.49 514.27,111.47 514.63,112.45" fill="url(#gB)"/>
<polygon points="505.24,108.70 504.95,109.04 504.71,109.32 504.51,109.57 504.31,109.80 504.12,110.03 503.91,110.28 503.68,110.55 503.39,110.90 503.00,111.36 502.41,112.06 501.80,112.00 501.40,111.48 501.05,111.03 500.72,110.61 500.40,110.20 500.07,109.77 499.69,109.28 499.24,108.70 498.93,107.98 499.22,107.32 499.57,106.72 499.91,106.10 500.27,105.45 500.76,104.82 501.43,104.38 502.21,104.24 503.00,104.40 503.70,104.73 504.32,105.06 504.94,105.34 505.59,105.61 506.23,105.99 506.73,106.55 506.23,107.53 505.63,108.24" fill="url(#gB)"/>
<polygon points="501.84,124.00 501.78,124.63 501.71,125.28 501.64,125.99 501.56,126.82 501.45,127.88 501.08,128.99 500.12,129.27 499.15,129.37 498.20,129.41 497.24,129.45 496.21,129.46 495.15,129.29 494.16,128.81 493.42,128.01 492.98,127.02 492.79,125.97 492.72,124.97 492.70,124.00 492.72,123.03 492.88,122.06 493.25,121.14 494.12,120.57 495.12,120.33 495.96,120.12 496.72,119.93 497.45,119.75 498.20,119.56 499.02,119.36 499.97,119.13 500.95,119.24 501.62,119.92 502.17,120.67 502.06,121.77 501.97,122.63 501.90,123.35" fill="url(#gB)"/>
<polygon points="511.72,124.80 512.00,125.81 512.15,126.93 511.90,128.03 511.19,128.90 510.17,129.42 509.10,129.66 508.13,129.83 507.23,130.09 506.30,130.38 505.29,130.50 504.29,130.32 503.40,129.82 502.64,129.17 502.33,128.13 502.44,127.03 502.53,126.17 502.60,125.45 502.66,124.80 502.72,124.17 502.79,123.52 502.86,122.81 502.94,121.98 503.05,120.92 503.30,119.61 504.28,119.25 505.36,119.48 506.30,119.68 507.17,119.86 508.03,120.05 508.93,120.24 509.95,120.45 510.80,121.02 511.22,121.96 511.40,122.94 511.51,123.88" fill="url(#gB)"/>
<polygon points="486.00,131.20 485.65,132.39 485.01,133.43 484.31,134.33 483.62,135.16 482.87,135.93 481.99,136.55 480.99,136.94 479.95,137.13 478.90,137.23 477.81,137.35 476.63,137.44 475.38,137.29 474.27,136.72 473.52,135.72 473.21,134.49 473.21,133.27 473.27,132.19 473.20,131.20 473.04,130.17 472.99,129.05 473.23,127.93 473.81,126.93 474.64,126.13 475.59,125.47 476.61,124.91 477.72,124.52 478.90,124.43 480.04,124.75 481.01,125.41 481.78,126.20 482.50,126.91 483.32,127.49 484.29,128.09 485.24,128.89 485.88,129.97" fill="url(#gB)"/>
<polygon points="522.11,143.00 522.19,143.65 522.07,144.30 521.72,144.86 521.22,145.28 520.67,145.59 520.15,145.85 519.63,146.10 519.09,146.32 518.50,146.45 517.89,146.44 517.30,146.30 516.74,146.05 516.20,145.74 515.71,145.34 515.30,144.85 515.04,144.26 514.99,143.62 515.11,143.00 515.30,142.44 515.49,141.90 515.65,141.36 515.86,140.78 516.17,140.23 516.65,139.79 517.23,139.52 517.87,139.43 518.50,139.45 519.11,139.55 519.69,139.72 520.24,139.99 520.70,140.37 521.07,140.84 521.36,141.35 521.62,141.86 521.88,142.40" fill="url(#gB)"/>
<path d="M0,0 L6,-3 L6,3 Z" fill="#000" transform="translate(487.7,87) rotate(0)"/>
<path d="M0,0 L6,-3 L6,3 Z" fill="#000" transform="translate(476,124.8) rotate(-90)"/>
</g>
<clipPath id="clip3"><rect x="316.2" y="152" width="98.60000000000002" height="80.30000000000001"/></clipPath>
<g clip-path="url(#clip3)">
<rect x="316.2" y="152" width="98.60000000000002" height="80.30000000000001" fill="url(#bg3)"/>
<polygon points="328.60,156.00 328.36,156.77 328.13,157.50 327.89,158.25 327.63,159.05 327.34,159.98 326.97,161.14 326.39,162.58 325.22,162.89 324.00,163.00 322.78,162.89 321.61,162.58 320.50,162.06 319.50,161.36 318.64,160.50 317.94,159.50 317.42,158.39 317.11,157.22 317.00,156.00 317.11,154.78 317.42,153.61 317.94,152.50 318.64,151.50 319.50,150.64 320.50,149.94 321.61,149.42 322.78,149.11 324.00,149.00 325.22,149.11 326.39,149.42 327.50,149.94 328.50,150.64 329.36,151.50 329.64,152.74 329.21,154.10 328.88,155.14" fill="url(#gA)"/>
<polygon points="341.88,159.50 342.23,160.77 341.23,161.77 340.39,162.61 339.62,163.38 338.88,164.12 338.11,164.89 337.27,165.73 336.27,166.73 335.00,167.90 333.54,167.77 332.13,167.39 330.80,166.77 329.60,165.93 328.57,164.90 327.73,163.70 327.58,162.20 328.05,160.73 328.44,159.50 328.78,158.40 329.12,157.36 329.45,156.30 329.82,155.15 330.24,153.83 330.80,152.23 332.13,151.61 333.54,151.23 335.00,151.10 336.46,151.23 337.87,151.61 339.11,152.38 339.70,153.90 340.18,155.15 340.61,156.26 341.02,157.31 341.43,158.37" fill="url(#gA)"/>
<polygon points="347.04,156.00 346.83,156.50 346.64,156.96 346.45,157.41 346.25,157.89 346.02,158.41 345.76,159.05 345.41,159.87 344.75,160.26 344.00,160.29 343.24,160.32 342.78,159.35 342.49,158.61 342.28,158.05 342.10,157.59 341.94,157.19 341.79,156.80 341.64,156.42 341.48,156.00 341.29,155.52 341.06,154.93 340.75,154.12 340.26,152.86 340.40,151.71 341.20,151.15 342.08,150.74 343.03,150.49 344.00,150.40 344.97,150.49 345.92,150.74 346.80,151.15 347.60,151.71 348.29,152.40 348.02,153.68 347.59,154.69 347.28,155.42" fill="url(#gA)"/>
<polygon points="361.90,160.00 361.77,161.46 361.39,162.87 360.77,164.20 359.93,165.40 358.90,166.43 357.70,167.27 356.37,167.89 354.96,168.27 353.50,167.98 352.30,166.79 351.37,165.85 350.58,165.06 349.86,164.34 349.16,163.64 348.44,162.92 347.65,162.13 346.71,161.20 346.33,160.00 346.83,158.82 347.29,157.74 347.73,156.67 348.20,155.56 348.73,154.31 349.36,152.82 350.63,152.11 352.04,151.73 353.50,151.60 354.96,151.73 356.37,152.11 357.70,152.73 358.90,153.57 359.93,154.60 360.77,155.80 361.39,157.13 361.77,158.54" fill="url(#gA)"/>
<polygon points="353.25,169.00 353.17,170.53 352.77,172.01 352.12,173.40 351.24,174.66 350.16,175.74 348.90,176.62 347.51,177.27 346.03,177.67 344.50,177.80 342.97,177.67 341.49,177.27 340.10,176.62 338.84,175.74 337.76,174.66 336.88,173.40 336.23,172.01 335.83,170.53 335.70,169.00 336.66,167.62 337.74,166.54 338.65,165.62 339.48,164.79 340.29,163.98 341.12,163.15 342.04,162.24 343.13,161.22 344.50,161.17 345.81,161.57 346.83,162.59 347.70,163.46 348.49,164.24 349.26,165.01 350.04,165.80 350.91,166.67 351.93,167.69" fill="url(#gA)"/>
<polygon points="409.60,167.70 409.47,169.14 409.10,170.54 408.49,171.85 407.66,173.04 406.64,174.06 405.45,174.89 404.14,175.50 402.74,175.87 401.30,176.00 399.86,175.87 398.46,175.50 397.15,174.89 395.96,174.06 394.94,173.04 394.11,171.85 393.50,170.54 393.13,169.14 393.00,167.70 393.13,166.26 393.50,164.86 394.11,163.55 394.94,162.36 395.96,161.34 397.15,160.51 398.46,159.90 399.86,159.53 401.30,159.40 402.74,159.53 404.14,159.90 405.45,160.51 406.64,161.34 407.66,162.36 408.49,163.55 409.10,164.86 409.47,166.26" fill="url(#gA)"/>
<polygon points="377.90,177.50 377.20,178.81 376.52,179.95 375.88,181.01 375.25,182.07 374.58,183.20 373.17,183.34 371.87,183.18 370.78,183.06 369.80,182.94 368.86,182.83 367.90,182.72 366.86,182.60 365.64,182.45 364.11,182.27 362.79,181.55 362.19,180.27 361.82,178.91 361.70,177.50 361.82,176.09 362.19,174.73 362.79,173.45 363.60,172.29 364.59,171.30 365.75,170.49 367.03,169.89 368.39,169.52 369.80,169.40 371.21,169.52 372.57,169.89 373.85,170.49 375.01,171.30 376.00,172.29 376.81,173.45 377.41,174.73 377.78,176.09" fill="url(#gA)"/>
<polygon points="393.60,179.60 393.49,180.87 393.16,182.10 392.62,183.25 391.89,184.29 390.99,185.19 389.95,185.92 388.80,186.46 387.57,186.79 386.30,186.31 385.19,185.88 384.16,185.48 383.13,185.09 382.05,184.67 381.52,183.61 381.12,182.59 380.73,181.63 380.35,180.65 379.93,179.60 379.45,178.39 379.44,177.10 379.98,175.95 380.71,174.91 381.61,174.01 382.65,173.28 383.80,172.74 385.03,172.41 386.30,172.30 387.57,172.41 388.80,172.74 389.95,173.28 390.99,174.01 391.89,174.91 392.62,175.95 393.16,177.10 393.49,178.33" fill="url(#gA)"/>
<polygon points="380.19,182.70 380.32,183.02 380.48,183.42 380.70,183.97 380.92,184.73 380.37,184.93 379.89,185.10 379.43,185.27 378.98,185.43 378.50,185.61 377.95,185.81 377.28,186.05 376.57,186.05 376.18,185.46 375.83,184.94 375.50,184.43 375.21,183.90 375.62,183.21 375.92,182.70 376.17,182.29 376.38,181.93 376.59,181.59 376.78,181.26 377.00,180.91 377.23,180.51 377.53,180.02 377.91,179.37 378.50,178.60 379.02,179.75 379.31,180.48 379.50,180.96 379.65,181.33 379.77,181.63 379.88,181.90 379.98,182.16 380.08,182.42" fill="url(#gA)"/>
<polygon points="375.66,189.40 375.47,190.65 375.27,191.90 375.06,193.24 374.76,194.74 373.10,195.00 371.72,195.15 370.54,195.28 369.46,195.40 368.40,195.52 367.30,195.64 366.08,195.78 364.62,195.94 363.06,195.76 362.04,194.74 361.21,193.55 360.60,192.24 360.23,190.84 360.10,189.40 360.23,187.96 360.60,186.56 361.21,185.25 362.04,184.06 363.08,183.06 364.86,183.27 366.23,183.43 367.37,183.56 368.40,183.68 369.39,183.80 370.40,183.92 371.49,184.05 372.77,184.20 374.38,184.39 375.13,185.51 375.90,186.67 375.87,188.08" fill="url(#gA)"/>
<polygon points="387.32,191.50 386.96,192.43 386.62,193.29 386.29,194.15 385.93,195.05 385.54,196.07 384.54,196.42 383.55,196.58 382.62,196.74 381.70,196.89 380.72,197.06 379.61,197.25 378.35,197.30 377.39,196.63 376.57,195.81 375.90,194.85 375.91,193.61 376.09,192.49 376.24,191.50 376.39,190.56 376.54,189.62 376.70,188.61 376.88,187.46 377.78,186.83 378.79,186.46 379.74,186.11 380.69,185.77 381.70,185.50 382.69,185.88 383.62,186.24 384.53,186.59 385.50,186.97 386.60,187.39 387.50,188.15 388.00,189.21 387.73,190.44" fill="url(#gA)"/>
<polygon points="402.90,196.40 402.77,197.89 402.38,199.34 401.75,200.70 400.89,201.93 399.83,202.99 398.31,203.34 396.88,203.49 395.57,203.63 394.30,203.76 392.98,203.90 391.58,203.89 390.69,202.66 389.93,201.61 389.23,200.65 388.56,199.72 387.85,198.75 387.08,197.67 386.38,196.40 386.88,195.09 387.36,193.87 387.83,192.66 388.33,191.39 388.89,189.95 390.00,188.95 391.36,188.32 392.81,187.93 394.30,187.80 395.79,187.93 397.24,188.32 398.60,188.95 399.83,189.81 400.89,190.87 401.75,192.10 402.38,193.46 402.77,194.91" fill="url(#gA)"/>
<polygon points="330.71,203.50 331.13,204.76 330.30,205.79 329.45,206.64 328.67,207.42 327.92,208.17 327.14,208.95 326.29,209.80 325.29,210.80 324.00,212.09 322.48,212.12 321.05,211.61 319.78,210.82 318.70,209.81 317.85,208.66 317.20,207.43 316.75,206.14 316.49,204.82 316.40,203.50 316.49,202.18 316.75,200.86 317.20,199.57 317.85,198.34 318.70,197.19 319.78,196.18 321.05,195.39 322.48,194.88 324.00,194.70 325.52,194.88 326.95,195.39 328.22,196.18 328.80,197.77 329.25,199.10 329.63,200.25 329.99,201.32 330.34,202.38" fill="url(#gA)"/>
<polygon points="341.50,199.50 341.46,200.46 341.41,201.47 341.36,202.60 341.04,203.73 340.13,204.42 339.24,205.11 338.30,205.82 337.22,206.40 336.00,205.99 334.92,205.63 333.89,205.29 332.86,204.94 331.94,204.34 331.57,203.22 331.24,202.25 330.94,201.34 330.64,200.44 330.33,199.50 329.97,198.44 329.54,197.15 329.59,195.80 330.33,194.74 331.24,193.83 332.30,193.09 333.47,192.55 334.72,192.21 336.00,192.10 337.28,192.21 338.53,192.55 339.70,193.09 340.76,193.83 341.67,194.74 341.64,196.24 341.59,197.47 341.54,198.52" fill="url(#gA)"/>
<polygon points="354.60,200.00 354.49,201.23 354.17,202.43 353.65,203.55 352.94,204.56 352.06,205.44 351.05,206.15 349.70,206.05 348.49,205.62 347.50,205.28 346.62,204.97 345.80,204.68 344.97,204.39 344.08,204.08 343.06,203.72 342.25,203.03 342.30,201.89 342.34,200.91 342.38,200.00 342.42,199.10 342.46,198.17 342.50,197.12 342.56,195.85 342.94,194.56 343.95,193.85 345.07,193.33 346.27,193.01 347.50,192.90 348.73,193.01 349.93,193.33 351.05,193.85 352.06,194.56 352.94,195.44 353.65,196.45 354.17,197.57 354.49,198.77" fill="url(#gA)"/>
<polygon points="337.64,211.50 337.77,212.52 337.77,213.60 336.80,214.27 335.97,214.83 335.23,215.34 334.50,215.84 333.76,216.35 332.95,216.90 332.00,217.55 330.80,218.30 329.64,217.98 328.55,217.48 327.56,216.79 326.71,215.94 326.02,214.95 325.52,213.86 325.20,212.70 325.86,211.50 326.78,210.58 327.50,209.86 328.11,209.25 328.66,208.70 329.20,208.16 329.75,207.61 330.36,207.00 331.08,206.28 332.00,205.61 332.98,205.93 333.91,206.24 334.85,206.56 335.86,206.89 337.03,207.28 337.26,208.46 337.39,209.54 337.52,210.53" fill="url(#gA)"/>
<polygon points="350.90,210.00 350.80,211.20 350.48,212.36 349.66,213.27 348.63,213.89 347.73,214.44 346.87,214.97 346.00,215.49 345.07,216.06 344.00,216.05 343.02,215.56 342.14,215.12 341.29,214.69 340.43,214.26 339.48,213.79 338.74,213.04 338.61,211.96 338.48,210.97 338.36,210.00 338.23,208.98 338.09,207.85 338.48,206.81 339.38,206.13 340.22,205.49 341.04,204.87 341.92,204.27 343.06,204.68 344.00,205.00 344.83,205.29 345.61,205.57 346.40,205.84 347.24,206.14 348.20,206.47 349.39,206.89 350.48,207.64 350.80,208.80" fill="url(#gA)"/>
<polygon points="344.00,221.00 343.97,221.96 343.92,222.97 343.88,224.11 343.82,225.47 343.26,226.67 342.20,227.41 341.03,227.95 339.78,228.29 338.50,228.40 337.22,228.29 335.97,227.95 334.80,227.41 333.74,226.67 332.83,225.76 332.09,224.70 331.55,223.53 331.21,222.28 331.10,221.00 331.21,219.72 332.01,218.64 333.11,217.89 334.03,217.25 334.87,216.68 335.68,216.12 336.52,215.55 337.43,214.93 338.50,214.30 339.59,214.85 340.56,215.33 341.50,215.80 342.46,216.28 343.50,216.80 344.13,217.75 344.08,218.97 344.04,220.02" fill="url(#gA)"/>
<polygon points="358.90,221.50 358.78,222.87 358.42,224.20 357.84,225.45 357.05,226.58 356.08,227.55 354.95,228.34 353.70,228.92 352.37,229.28 351.00,229.40 349.63,229.28 348.30,228.92 347.05,228.34 345.92,227.55 344.95,226.58 344.74,225.11 344.79,223.76 344.84,222.59 344.88,221.50 344.93,220.43 344.97,219.31 345.02,218.05 345.48,216.87 346.56,216.21 347.58,215.58 348.62,214.95 349.73,214.28 351.00,213.60 352.37,213.72 353.70,214.08 354.95,214.66 355.99,215.55 356.97,216.49 357.84,217.55 358.42,218.80 358.78,220.13" fill="url(#gA)"/>
<polygon points="362.00,210.00 362.00,210.00 362.00,210.00 362.00,210.00 362.00,210.00 362.00,210.00 362.00,210.00 362.00,210.00 362.00,210.00 362.00,210.00 362.00,210.00 362.00,210.00 358.30,216.41 357.32,215.58 356.40,214.70 355.59,213.70 355.05,212.53 354.71,211.28 354.60,210.00 354.71,208.72 355.05,207.47 355.59,206.30 356.33,205.24 357.24,204.33 358.30,203.59 359.47,203.05 360.72,202.71 362.00,203.40 362.99,204.37 363.77,205.13 362.00,210.00 362.00,210.00 362.00,210.00 362.00,210.00 362.00,210.00 362.00,210.00" fill="url(#gA)"/>
<polygon points="376.66,202.00 376.49,203.18 376.32,204.37 376.13,205.66 375.21,206.54 374.06,207.08 373.02,207.57 372.00,208.04 370.95,208.53 369.80,208.90 368.74,208.02 367.87,207.30 367.11,206.66 366.39,206.06 365.67,205.46 364.91,204.82 364.04,204.10 363.07,203.19 361.85,202.00 361.92,200.61 362.28,199.26 362.87,198.00 363.77,196.94 365.40,196.76 366.69,196.61 367.80,196.49 368.81,196.38 369.80,196.27 370.83,196.15 371.97,196.03 373.34,195.88 374.94,195.87 375.93,196.86 376.73,198.00 377.03,199.37 376.83,200.76" fill="url(#gA)"/>
<polygon points="390.55,204.00 390.64,205.21 390.12,206.30 389.61,207.36 389.09,208.44 388.28,209.34 387.07,209.66 385.97,209.95 384.90,210.23 383.80,210.52 382.60,210.83 381.57,210.14 380.68,209.40 379.85,208.70 379.03,208.01 378.14,207.27 377.14,206.42 377.11,205.18 377.28,204.00 377.44,202.88 377.60,201.74 377.78,200.52 377.98,199.11 378.99,198.26 380.35,198.03 381.55,197.83 382.68,197.64 383.80,197.45 384.99,197.25 386.06,197.80 386.79,198.82 387.42,199.68 388.00,200.48 388.56,201.25 389.14,202.06 389.78,202.95" fill="url(#gA)"/>
<polygon points="402.40,209.70 402.30,210.86 402.00,211.99 401.50,213.05 400.83,214.01 400.01,214.83 399.05,215.50 397.99,216.00 396.86,216.30 395.70,216.22 394.74,215.17 394.00,214.37 393.39,213.70 392.84,213.11 392.32,212.54 391.79,211.96 391.22,211.33 390.55,210.61 389.72,209.70 389.97,208.69 390.41,207.77 390.83,206.89 391.27,205.98 391.75,204.99 392.88,204.82 393.88,204.71 394.80,204.62 395.70,204.52 396.63,204.42 397.66,204.32 398.88,204.19 400.01,204.57 400.83,205.39 401.50,206.35 402.00,207.41 402.30,208.54" fill="url(#gA)"/>
<polygon points="369.15,210.40 368.84,211.47 368.55,212.49 368.25,213.55 367.92,214.70 367.53,216.04 366.60,216.98 365.40,217.54 364.12,217.88 362.80,218.00 361.48,217.88 360.20,217.54 359.00,216.98 358.17,215.92 359.58,213.11 360.17,211.92 360.51,211.23 360.75,210.76 360.93,210.40 361.08,210.10 361.22,209.82 361.35,209.56 361.48,209.29 361.63,209.00 361.80,208.66 362.01,208.23 362.31,207.63 362.80,206.66 363.75,205.03 364.52,205.67 365.20,206.24 365.84,206.78 366.48,207.31 367.17,207.88 367.94,208.53 368.90,209.32" fill="url(#gA)"/>
<polygon points="381.11,214.00 380.83,214.96 380.57,215.88 380.30,216.83 380.00,217.86 379.66,219.07 379.20,220.58 378.00,221.14 376.72,221.48 375.40,221.60 374.08,221.48 372.80,221.14 371.60,220.58 370.51,219.82 369.58,218.89 368.82,217.80 368.32,216.58 368.72,215.18 369.05,214.00 369.36,212.93 369.65,211.91 369.95,210.85 370.38,209.79 371.45,209.29 372.42,208.84 373.36,208.40 374.33,207.95 375.40,207.45 376.61,207.15 377.59,207.98 378.46,208.70 379.27,209.39 380.08,210.07 380.95,210.80 381.77,211.68 381.41,212.94" fill="url(#gA)"/>
<polygon points="395.30,217.40 395.18,218.79 394.82,220.14 394.23,221.40 393.43,222.54 392.44,223.53 391.30,224.33 390.04,224.92 388.69,225.28 387.30,225.40 385.91,225.28 384.56,224.92 383.30,224.33 382.16,223.53 381.17,222.54 380.37,221.40 380.35,219.93 380.74,218.56 381.07,217.40 381.37,216.35 381.66,215.35 381.95,214.31 382.27,213.18 382.65,211.86 383.85,211.43 385.02,211.13 386.14,210.83 387.30,210.53 388.57,210.20 389.65,210.95 390.49,211.87 391.25,212.70 391.97,213.48 392.70,214.28 393.49,215.15 394.41,216.15" fill="url(#gA)"/>
<polygon points="417.40,207.60 417.30,208.71 417.01,209.79 416.54,210.80 415.90,211.71 415.11,212.50 414.20,213.14 413.19,213.61 412.11,213.90 411.00,214.00 409.89,213.90 408.81,213.61 407.80,213.14 406.89,212.50 406.10,211.71 405.46,210.80 404.99,209.79 404.70,208.71 404.60,207.60 404.70,206.49 404.99,205.41 405.46,204.40 406.10,203.49 406.89,202.70 407.80,202.06 408.81,201.59 409.89,201.30 411.00,201.20 412.11,201.30 413.19,201.59 414.20,202.06 415.11,202.70 415.90,203.49 416.54,204.40 417.01,205.41 417.30,206.49" fill="url(#gA)"/>
</g>
<circle cx="400.6" cy="228.6" r="3" fill="#bdbdbd" clip-path="url(#clip3)"/>
<circle cx="367.5" cy="189.5" r="4.2" fill="#5a5a5a"/><circle cx="366" cy="188" r="0.9" fill="#ddd"/><circle cx="369.5" cy="191.5" r="0.8" fill="#ddd"/><circle cx="368.5" cy="187" r="0.7" fill="#ccc"/>
<clipPath id="clip4"><rect x="421" y="151" width="99" height="81.30000000000001"/></clipPath>
<g clip-path="url(#clip4)">
<rect x="421" y="151" width="99" height="81.30000000000001" fill="#f9f9f9"/>
<circle cx="447.3" cy="168.4" r="5" fill="url(#gP)"/>
<circle cx="454.6" cy="188" r="6" fill="url(#gP)"/>
<circle cx="507.5" cy="209.8" r="7" fill="url(#gP)"/>
<circle cx="440" cy="160" r="4" fill="url(#gP)"/>
<circle cx="444.9" cy="185.5" r="2.5" fill="url(#gP)"/>
<circle cx="431" cy="183" r="4" fill="url(#gP)"/>
<polygon points="448.56,157.80 448.30,158.56 448.03,159.27 447.73,159.96 447.36,160.62 446.88,161.23 446.28,161.74 445.59,162.16 444.83,162.48 444.00,162.68 443.14,162.68 442.32,162.43 441.62,161.92 441.10,161.25 440.73,160.54 440.41,159.87 440.06,159.24 439.67,158.56 439.36,157.80 439.24,156.96 439.38,156.12 439.77,155.36 440.32,154.71 440.96,154.18 441.68,153.77 442.44,153.51 443.23,153.42 444.00,153.48 444.74,153.62 445.46,153.78 446.22,153.95 447.02,154.20 447.78,154.63 448.38,155.27 448.70,156.09 448.73,156.97" fill="url(#gB)"/>
<polygon points="430.13,166.70 430.06,167.24 429.94,167.77 429.81,168.32 429.68,168.95 429.46,169.63 429.06,170.27 428.46,170.70 427.73,170.85 427.00,170.77 426.31,170.61 425.64,170.43 425.00,170.16 424.46,169.73 424.12,169.12 424.00,168.43 424.04,167.78 424.11,167.21 424.13,166.70 424.10,166.19 424.10,165.65 424.21,165.09 424.45,164.56 424.76,164.04 425.13,163.46 425.58,162.80 426.20,162.15 427.00,161.77 427.85,161.91 428.52,162.53 428.93,163.36 429.16,164.13 429.35,164.73 429.60,165.20 429.87,165.66 430.07,166.16" fill="url(#gB)"/>
<polygon points="481.69,165.90 481.50,166.90 481.56,167.99 481.73,169.32 481.74,170.88 481.31,172.47 480.37,173.82 479.03,174.76 477.45,175.27 475.80,175.38 474.18,175.07 472.75,174.28 471.66,173.08 470.96,171.67 470.54,170.32 470.17,169.15 469.70,168.12 469.14,167.07 468.69,165.90 468.59,164.63 468.93,163.40 469.62,162.33 470.43,161.40 471.20,160.41 471.94,159.21 472.87,157.85 474.18,156.69 475.80,156.18 477.46,156.49 478.90,157.37 480.09,158.47 481.07,159.61 481.84,160.83 482.28,162.16 482.32,163.53 482.05,164.80" fill="url(#gB)"/>
<polygon points="499.71,170.00 499.44,170.87 499.06,171.66 498.68,172.42 498.27,173.17 497.73,173.84 496.99,174.32 496.14,174.51 495.29,174.50 494.50,174.48 493.70,174.54 492.81,174.64 491.86,174.57 491.00,174.17 490.42,173.43 490.16,172.51 490.09,171.60 490.04,170.79 489.91,170.00 489.79,169.17 489.85,168.31 490.20,167.52 490.77,166.87 491.43,166.34 492.09,165.83 492.79,165.30 493.59,164.85 494.50,164.68 495.40,164.89 496.16,165.43 496.76,166.09 497.30,166.66 497.93,167.13 498.64,167.61 499.30,168.25 499.69,169.08" fill="url(#gB)"/>
<polygon points="513.10,163.40 513.23,164.04 513.24,164.72 513.01,165.37 512.54,165.87 511.92,166.17 511.30,166.34 510.73,166.49 510.18,166.70 509.60,166.91 508.96,167.01 508.33,166.89 507.76,166.59 507.28,166.17 506.85,165.71 506.43,165.23 506.07,164.68 505.87,164.06 505.90,163.40 506.14,162.79 506.47,162.26 506.78,161.77 507.02,161.24 507.29,160.65 507.70,160.10 508.26,159.73 508.93,159.61 509.60,159.71 510.21,159.92 510.79,160.13 511.36,160.35 511.91,160.65 512.36,161.08 512.67,161.63 512.84,162.22 512.96,162.81" fill="url(#gB)"/>
<polygon points="512.90,183.80 512.44,185.11 511.72,186.25 510.94,187.23 510.16,188.13 509.36,188.99 508.46,189.80 507.43,190.48 506.27,190.99 505.00,191.30 503.66,191.38 502.32,191.17 501.06,190.62 500.03,189.72 499.33,188.56 498.94,187.30 498.74,186.08 498.55,184.94 498.30,183.80 498.06,182.58 498.00,181.25 498.29,179.93 498.97,178.74 499.97,177.81 501.16,177.15 502.44,176.76 503.73,176.61 505.00,176.70 506.20,177.00 507.31,177.45 508.36,177.98 509.42,178.54 510.51,179.17 511.58,180.00 512.46,181.09 512.93,182.40" fill="url(#gB)"/>
<polygon points="436.27,189.50 436.47,190.47 436.44,191.48 436.21,192.51 435.67,193.42 434.94,194.20 434.12,194.90 433.20,195.56 432.17,196.14 431.00,196.48 429.78,196.44 428.64,195.99 427.68,195.25 426.91,194.37 426.32,193.43 425.89,192.45 425.67,191.44 425.67,190.44 425.87,189.50 426.16,188.65 426.41,187.83 426.59,186.95 426.74,185.93 427.02,184.75 427.57,183.56 428.47,182.55 429.67,181.96 431.00,181.88 432.27,182.27 433.37,182.99 434.23,183.91 434.84,184.92 435.24,185.94 435.51,186.90 435.74,187.78 435.99,188.62" fill="url(#gB)"/>
<polygon points="441.56,191.20 441.66,191.63 441.63,192.09 441.44,192.49 441.12,192.81 440.74,193.04 440.36,193.21 439.99,193.37 439.61,193.50 439.20,193.57 438.79,193.53 438.40,193.40 438.03,193.22 437.68,193.01 437.33,192.77 437.17,192.37 437.27,191.90 437.35,191.53 437.41,191.20 437.48,190.90 437.54,190.60 437.60,190.28 437.68,189.92 437.77,189.49 437.96,189.05 438.35,188.86 438.77,188.77 439.20,188.77 439.62,188.81 440.04,188.89 440.43,189.06 440.77,189.33 441.01,189.68 441.16,190.07 441.28,190.44 441.41,190.81" fill="url(#gB)"/>
<polygon points="469.88,191.20 469.76,192.57 469.24,193.83 468.46,194.93 467.57,195.87 466.59,196.67 465.53,197.31 464.38,197.74 463.20,197.98 462.00,198.07 460.78,198.11 459.50,198.07 458.16,197.85 456.89,197.29 455.88,196.34 455.27,195.08 455.08,193.72 455.14,192.41 455.28,191.20 455.38,190.03 455.52,188.84 455.82,187.63 456.38,186.48 457.20,185.48 458.23,184.66 459.39,184.02 460.66,183.60 462.00,183.47 463.32,183.73 464.49,184.35 465.46,185.20 466.27,186.11 467.06,186.95 467.92,187.78 468.80,188.73 469.52,189.87" fill="url(#gB)"/>
<polygon points="428.20,201.00 428.25,201.52 428.14,202.03 427.88,202.49 427.54,202.88 427.19,203.25 426.82,203.63 426.39,203.99 425.87,204.21 425.30,204.21 424.77,203.98 424.34,203.65 423.96,203.33 423.55,203.08 423.10,202.85 422.64,202.54 422.30,202.09 422.16,201.55 422.20,201.00 422.34,200.48 422.50,199.98 422.69,199.49 422.95,199.02 423.33,198.65 423.82,198.44 424.34,198.35 424.82,198.30 425.30,198.21 425.82,198.08 426.39,198.01 426.96,198.13 427.41,198.48 427.69,198.99 427.84,199.54 427.94,200.04 428.07,200.51" fill="url(#gB)"/>
<polygon points="489.10,189.50 488.69,190.35 488.20,191.06 487.75,191.72 487.36,192.40 486.93,193.11 486.34,193.73 485.39,193.58 484.60,193.46 483.90,193.36 483.24,193.26 482.57,193.16 481.85,193.05 481.03,192.92 480.14,192.65 479.91,191.81 479.77,191.00 479.58,190.26 479.30,189.50 479.04,188.64 478.99,187.71 479.26,186.82 479.85,186.11 480.63,185.60 481.44,185.25 482.25,184.98 483.07,184.78 483.90,184.71 484.72,184.84 485.49,185.14 486.20,185.52 486.90,185.92 487.65,186.35 488.39,186.91 488.98,187.65 489.23,188.56" fill="url(#gB)"/>
<polygon points="489.53,200.00 489.46,201.26 488.90,202.40 487.97,203.27 486.95,203.90 486.08,204.51 485.37,205.31 484.59,206.30 483.57,207.18 482.30,207.61 480.99,207.41 479.85,206.72 478.92,205.85 478.09,205.02 477.27,204.22 476.52,203.34 476.00,202.29 475.84,201.14 475.93,200.00 476.07,198.90 476.12,197.75 476.19,196.47 476.53,195.16 477.34,194.09 478.57,193.53 480.00,193.67 481.22,193.86 482.30,194.02 483.33,194.18 484.36,194.34 485.47,194.51 486.75,194.70 487.69,195.48 488.29,196.54 488.78,197.64 489.23,198.78" fill="url(#gB)"/>
<polygon points="507.02,207.30 507.08,208.09 507.07,208.93 506.89,209.78 506.44,210.53 505.75,211.05 504.92,211.32 504.10,211.41 503.30,211.24 502.60,211.05 501.97,210.88 501.36,210.71 500.73,210.53 500.05,210.34 499.24,210.12 498.51,209.66 498.13,208.93 497.87,208.13 497.82,207.30 498.02,206.49 498.43,205.78 498.92,205.18 499.40,204.61 499.84,204.01 500.32,203.36 500.95,202.77 501.74,202.40 502.60,202.34 503.44,202.56 504.18,202.95 504.85,203.40 505.47,203.88 506.03,204.42 506.48,205.06 506.78,205.78 506.93,206.54" fill="url(#gB)"/>
<polygon points="505.39,216.30 505.28,217.21 505.20,218.16 505.02,219.14 504.62,220.10 503.96,220.90 503.08,221.46 502.10,221.80 501.10,221.97 500.10,222.03 499.11,221.94 498.16,221.64 497.31,221.13 496.60,220.47 495.99,219.75 495.40,219.01 494.80,218.23 494.28,217.33 493.99,216.30 494.06,215.23 494.49,214.26 495.15,213.44 495.89,212.77 496.63,212.16 497.38,211.59 498.20,211.09 499.17,211.03 500.10,211.29 500.94,211.52 501.76,211.75 502.59,211.98 503.51,212.24 504.59,212.54 505.27,213.31 505.51,214.33 505.50,215.35" fill="url(#gB)"/>
<polygon points="439.01,218.00 438.63,218.90 438.26,219.73 437.97,220.58 437.69,221.52 437.30,222.53 436.68,223.51 435.81,224.35 434.73,224.99 433.50,225.39 432.18,225.46 430.92,225.09 429.90,224.23 429.28,223.03 429.05,221.73 429.06,220.57 429.06,219.62 428.91,218.81 428.61,218.00 428.31,217.08 428.19,216.07 428.35,215.03 428.77,214.03 429.37,213.08 430.13,212.17 431.08,211.35 432.23,210.82 433.50,210.79 434.68,211.29 435.65,212.08 436.45,212.89 437.21,213.58 437.98,214.24 438.67,215.01 439.13,215.95 439.22,216.99" fill="url(#gB)"/>
<polygon points="460.13,214.00 460.40,215.16 460.43,216.41 460.02,217.59 459.17,218.51 458.05,219.07 456.90,219.37 455.84,219.61 454.84,219.90 453.80,220.21 452.68,220.35 451.55,220.18 450.50,219.71 449.57,219.04 448.73,218.26 447.95,217.38 447.32,216.36 447.01,215.20 447.13,214.00 447.60,212.91 448.21,211.97 448.76,211.09 449.21,210.15 449.70,209.11 450.40,208.11 451.40,207.39 452.58,207.10 453.80,207.21 454.94,207.54 456.00,207.96 457.00,208.45 457.93,209.08 458.68,209.90 459.20,210.88 459.54,211.91 459.82,212.94" fill="url(#gB)"/>
<polygon points="482.05,222.00 481.64,223.17 481.04,224.20 480.44,225.14 479.84,226.06 479.13,226.92 478.22,227.58 477.16,227.94 476.07,228.06 475.00,228.12 473.90,228.23 472.70,228.31 471.45,228.14 470.36,227.53 469.63,226.51 469.33,225.27 469.28,224.08 469.23,223.02 469.05,222.00 468.84,220.91 468.83,219.75 469.18,218.64 469.89,217.71 470.78,216.96 471.72,216.32 472.72,215.72 473.81,215.26 475.00,215.12 476.16,215.42 477.15,216.09 477.95,216.88 478.71,217.58 479.59,218.15 480.59,218.77 481.50,219.63 482.04,220.76" fill="url(#gB)"/>
<path d="M0,0 L6,-3 L6,3 Z" fill="#000" transform="translate(453,156.5) rotate(0)"/>
<path d="M0,0 L6,-3 L6,3 Z" fill="#000" transform="translate(459,182.5) rotate(-90)"/>
<path d="M0,0 L6,-3 L6,3 Z" fill="#000" transform="translate(508.9,201.6) rotate(-45)"/>
<path d="M0,0 L6,-3 L6,3 Z" fill="#000" transform="translate(476,219.3) rotate(-45)"/>
</g>
<text x="106.5" y="278" font-size="12.5" text-anchor="middle" fill="#000">48h</text>
<text x="190.2" y="278" font-size="12.5" text-anchor="middle" fill="#000">72h</text>
<text x="31.8" y="319.6" font-size="12.5" text-anchor="middle" fill="#000">untreated</text>
<text x="32.8" y="364.6" font-size="12.5" text-anchor="middle" fill="#000">TSP-1</text>
<text x="33.2" y="379.8" font-size="12.5" text-anchor="middle" fill="#000">(0.1 µM)</text>
<text x="33.1" y="419.6" font-size="12.5" text-anchor="middle" fill="#000">ATRA</text>
<text x="33.1" y="434.7" font-size="12.5" text-anchor="middle" fill="#000">(1 µM)</text>
<text x="33.1" y="470.3" font-size="12.5" text-anchor="middle" fill="#000">ATRA</text>
<text x="32.5" y="485.5" font-size="12.5" text-anchor="middle" fill="#000">+ TSP-1</text>
<text x="110.0" y="526" font-size="12.8" text-anchor="start" fill="#000">FITC-annexin V</text>
<text x="243.5" y="478.3" font-size="13" text-anchor="middle" transform="rotate(-90 243.5 478.3)" fill="#000">PI</text>
<path d="M237.2,501.3 L243.6,513.7 L231,513.7 Z" fill="#000"/>
<line x1="237.2" y1="513" x2="237.2" y2="520.6" stroke="#000" stroke-width="1.3"/>
<line x1="222" y1="520.3" x2="237.85" y2="520.3" stroke="#000" stroke-width="1.3"/>
<path d="M210.4,520.6 L222.5,514.8 L222.5,526.3 Z" fill="#000"/>
<clipPath id="fc1"><rect x="81.3" y="291" width="54.7" height="38.60000000000002"/></clipPath><g clip-path="url(#fc1)">
<rect x="102.9" y="327.4" width="0.9" height="0.9" fill="#999"/>
<rect x="121.1" y="322.9" width="0.9" height="0.9" fill="#999"/>
<rect x="113.4" y="324.4" width="0.9" height="0.9" fill="#999"/>
<rect x="117.9" y="326.9" width="0.9" height="0.9" fill="#999"/>
<rect x="101.7" y="321.2" width="0.9" height="0.9" fill="#999"/>
<rect x="123.2" y="324.2" width="0.9" height="0.9" fill="#999"/>
<rect x="121.1" y="321.0" width="0.9" height="0.9" fill="#999"/>
<rect x="111.9" y="326.4" width="0.9" height="0.9" fill="#999"/>
<rect x="105.6" y="328.1" width="0.9" height="0.9" fill="#999"/>
<rect x="125.1" y="321.2" width="0.9" height="0.9" fill="#999"/>
<rect x="99.7" y="325.1" width="0.9" height="0.9" fill="#999"/>
<rect x="126.2" y="323.9" width="0.9" height="0.9" fill="#999"/>
<rect x="105.3" y="324.2" width="0.9" height="0.9" fill="#999"/>
<rect x="99.8" y="322.7" width="0.9" height="0.9" fill="#999"/>
<rect x="111.7" y="324.7" width="0.9" height="0.9" fill="#999"/>
<rect x="105.8" y="322.7" width="0.9" height="0.9" fill="#999"/>
<rect x="105.3" y="324.4" width="0.9" height="0.9" fill="#999"/>
<rect x="107.4" y="321.2" width="0.9" height="0.9" fill="#999"/>
<rect x="123.3" y="325.2" width="0.9" height="0.9" fill="#999"/>
<rect x="117.6" y="322.4" width="0.9" height="0.9" fill="#999"/>
<rect x="127.8" y="327.4" width="0.9" height="0.9" fill="#999"/>
<rect x="102.5" y="323.5" width="0.9" height="0.9" fill="#999"/>
<rect x="119.9" y="326.3" width="0.9" height="0.9" fill="#999"/>
<rect x="126.2" y="324.2" width="0.9" height="0.9" fill="#999"/>
<rect x="123.1" y="326.0" width="0.9" height="0.9" fill="#999"/>
<rect x="107.8" y="325.4" width="0.9" height="0.9" fill="#999"/>
<rect x="124.6" y="327.3" width="0.9" height="0.9" fill="#999"/>
<rect x="113.7" y="325.4" width="0.9" height="0.9" fill="#999"/>
<rect x="100.0" y="322.8" width="0.9" height="0.9" fill="#999"/>
<rect x="122.1" y="324.1" width="0.9" height="0.9" fill="#999"/>
<rect x="104.0" y="325.1" width="0.9" height="0.9" fill="#999"/>
<rect x="119.4" y="326.1" width="0.9" height="0.9" fill="#999"/>
<rect x="109.9" y="324.3" width="0.9" height="0.9" fill="#999"/>
<rect x="113.7" y="326.8" width="0.9" height="0.9" fill="#999"/>
<rect x="114.1" y="323.9" width="0.9" height="0.9" fill="#999"/>
<rect x="113.2" y="321.2" width="0.9" height="0.9" fill="#999"/>
<rect x="100.3" y="326.3" width="0.9" height="0.9" fill="#999"/>
<rect x="127.5" y="325.4" width="0.9" height="0.9" fill="#999"/>
<rect x="110.4" y="322.3" width="0.9" height="0.9" fill="#999"/>
<rect x="113.6" y="328.4" width="0.9" height="0.9" fill="#999"/>
<rect x="121.3" y="325.0" width="0.9" height="0.9" fill="#999"/>
<rect x="123.9" y="322.7" width="0.9" height="0.9" fill="#999"/>
<rect x="113.9" y="328.1" width="0.9" height="0.9" fill="#999"/>
<rect x="115.8" y="324.4" width="0.9" height="0.9" fill="#999"/>
<rect x="106.8" y="325.1" width="0.9" height="0.9" fill="#999"/>
<rect x="129.1" y="314.0" width="0.9" height="0.9" fill="#999"/>
<rect x="125.7" y="317.3" width="0.9" height="0.9" fill="#999"/>
<rect x="127.7" y="317.0" width="0.9" height="0.9" fill="#999"/>
<rect x="126.2" y="316.1" width="0.9" height="0.9" fill="#999"/>
<rect x="121.2" y="315.7" width="0.9" height="0.9" fill="#999"/>
<rect x="111.1" y="317.5" width="0.9" height="0.9" fill="#999"/>
<rect x="120.7" y="298.6" width="0.9" height="0.9" fill="#bbb"/>
<rect x="118.6" y="305.2" width="0.9" height="0.9" fill="#bbb"/>
<rect x="114.1" y="302.0" width="0.9" height="0.9" fill="#bbb"/>
<rect x="119.7" y="308.3" width="0.9" height="0.9" fill="#bbb"/>
<rect x="122.0" y="304.5" width="0.9" height="0.9" fill="#bbb"/>
<rect x="91.3" y="325.9" width="1" height="1" fill="#000"/>
<rect x="90.9" y="328.2" width="1" height="1" fill="#000"/>
<rect x="92.7" y="322.6" width="1" height="1" fill="#000"/>
<rect x="90.7" y="321.7" width="1" height="1" fill="#000"/>
<rect x="88.8" y="329.8" width="1" height="1" fill="#000"/>
<rect x="88.4" y="324.8" width="1" height="1" fill="#000"/>
<rect x="89.5" y="325.6" width="1" height="1" fill="#000"/>
<rect x="89.1" y="323.9" width="1" height="1" fill="#000"/>
<rect x="92.5" y="327.6" width="1" height="1" fill="#000"/>
<rect x="88.3" y="326.3" width="1" height="1" fill="#000"/>
<rect x="91.1" y="327.9" width="1" height="1" fill="#000"/>
<rect x="90.3" y="327.1" width="1" height="1" fill="#000"/>
<rect x="88.2" y="323.2" width="1" height="1" fill="#000"/>
<rect x="87.4" y="327.8" width="1" height="1" fill="#000"/>
<rect x="92.1" y="325.9" width="1" height="1" fill="#000"/>
<rect x="87.2" y="326.3" width="1" height="1" fill="#000"/>
<rect x="94.3" y="328.6" width="1" height="1" fill="#000"/>
<rect x="86.8" y="325.5" width="1" height="1" fill="#000"/>
<rect x="84.4" y="323.1" width="1" height="1" fill="#000"/>
<rect x="89.6" y="325.7" width="1" height="1" fill="#000"/>
<rect x="92.1" y="328.4" width="1" height="1" fill="#000"/>
<rect x="91.7" y="328.5" width="1" height="1" fill="#000"/>
<rect x="87.2" y="323.1" width="1" height="1" fill="#000"/>
<rect x="90.6" y="331.5" width="1" height="1" fill="#000"/>
<rect x="90.1" y="323.1" width="1" height="1" fill="#000"/>
<rect x="89.8" y="328.7" width="1" height="1" fill="#000"/>
<rect x="85.7" y="327.4" width="1" height="1" fill="#000"/>
<rect x="87.0" y="328.4" width="1" height="1" fill="#000"/>
<rect x="91.5" y="326.3" width="1" height="1" fill="#000"/>
<rect x="95.4" y="324.7" width="1" height="1" fill="#000"/>
<rect x="86.8" y="329.7" width="1" height="1" fill="#000"/>
<rect x="86.2" y="330.4" width="1" height="1" fill="#000"/>
<rect x="88.9" y="323.3" width="1" height="1" fill="#000"/>
<rect x="89.0" y="325.9" width="1" height="1" fill="#000"/>
<rect x="89.6" y="325.2" width="1" height="1" fill="#000"/>
<rect x="92.5" y="320.5" width="1" height="1" fill="#000"/>
<rect x="87.2" y="325.0" width="1" height="1" fill="#000"/>
<rect x="94.8" y="321.2" width="1" height="1" fill="#000"/>
<rect x="87.9" y="323.1" width="1" height="1" fill="#000"/>
<rect x="86.9" y="327.0" width="1" height="1" fill="#000"/>
<rect x="90.3" y="328.8" width="1" height="1" fill="#000"/>
<rect x="87.1" y="326.2" width="1" height="1" fill="#000"/>
<rect x="92.8" y="327.6" width="1" height="1" fill="#000"/>
<rect x="87.9" y="328.1" width="1" height="1" fill="#000"/>
<rect x="86.0" y="329.6" width="1" height="1" fill="#000"/>
<rect x="89.5" y="325.4" width="1" height="1" fill="#000"/>
<rect x="89.9" y="327.5" width="1" height="1" fill="#000"/>
<rect x="94.6" y="325.3" width="1" height="1" fill="#000"/>
<rect x="87.8" y="326.9" width="1" height="1" fill="#000"/>
<rect x="86.2" y="321.9" width="1" height="1" fill="#000"/>
<rect x="91.7" y="324.8" width="1" height="1" fill="#000"/>
<rect x="92.6" y="323.3" width="1" height="1" fill="#000"/>
<rect x="79.7" y="326.2" width="1" height="1" fill="#000"/>
<rect x="89.5" y="329.1" width="1" height="1" fill="#000"/>
<rect x="90.7" y="326.3" width="1" height="1" fill="#000"/>
<rect x="90.9" y="324.8" width="1" height="1" fill="#000"/>
<rect x="89.2" y="322.6" width="1" height="1" fill="#000"/>
<rect x="90.7" y="323.8" width="1" height="1" fill="#000"/>
<rect x="87.6" y="327.1" width="1" height="1" fill="#000"/>
<rect x="91.9" y="323.4" width="1" height="1" fill="#000"/>
<rect x="95.4" y="324.3" width="1" height="1" fill="#000"/>
<rect x="91.7" y="327.7" width="1" height="1" fill="#000"/>
<rect x="89.7" y="326.0" width="1" height="1" fill="#000"/>
<rect x="94.8" y="327.6" width="1" height="1" fill="#000"/>
<rect x="90.4" y="321.6" width="1" height="1" fill="#000"/>
<rect x="86.6" y="328.2" width="1" height="1" fill="#000"/>
<rect x="89.6" y="323.5" width="1" height="1" fill="#000"/>
<rect x="86.9" y="324.9" width="1" height="1" fill="#000"/>
<rect x="91.2" y="326.5" width="1" height="1" fill="#000"/>
<rect x="92.2" y="323.8" width="1" height="1" fill="#000"/>
<rect x="92.2" y="324.5" width="1" height="1" fill="#000"/>
<rect x="88.0" y="329.4" width="1" height="1" fill="#000"/>
<rect x="89.2" y="325.3" width="1" height="1" fill="#000"/>
<rect x="88.3" y="324.8" width="1" height="1" fill="#000"/>
<rect x="94.0" y="328.6" width="1" height="1" fill="#000"/>
<rect x="91.3" y="326.0" width="1" height="1" fill="#000"/>
<rect x="92.3" y="325.4" width="1" height="1" fill="#000"/>
<rect x="90.4" y="326.5" width="1" height="1" fill="#000"/>
<rect x="89.3" y="329.2" width="1" height="1" fill="#000"/>
<rect x="94.6" y="328.5" width="1" height="1" fill="#000"/>
<rect x="82.9" y="329.6" width="1" height="1" fill="#000"/>
<rect x="91.2" y="324.6" width="1" height="1" fill="#000"/>
<rect x="88.9" y="328.1" width="1" height="1" fill="#000"/>
<rect x="92.8" y="327.5" width="1" height="1" fill="#000"/>
<rect x="89.5" y="325.7" width="1" height="1" fill="#000"/>
<rect x="91.7" y="325.4" width="1" height="1" fill="#000"/>
<rect x="86.1" y="324.2" width="1" height="1" fill="#000"/>
<rect x="88.6" y="326.3" width="1" height="1" fill="#000"/>
<rect x="96.2" y="322.6" width="1" height="1" fill="#000"/>
<rect x="90.5" y="325.4" width="1" height="1" fill="#000"/>
<rect x="90.0" y="328.6" width="1" height="1" fill="#000"/>
<rect x="93.0" y="325.3" width="1" height="1" fill="#000"/>
<rect x="87.2" y="322.6" width="1" height="1" fill="#000"/>
<rect x="88.8" y="328.3" width="1" height="1" fill="#000"/>
<rect x="88.2" y="327.1" width="1" height="1" fill="#000"/>
<rect x="91.3" y="326.5" width="1" height="1" fill="#000"/>
<rect x="92.5" y="325.3" width="1" height="1" fill="#000"/>
<rect x="86.3" y="323.0" width="1" height="1" fill="#000"/>
<rect x="92.0" y="324.8" width="1" height="1" fill="#000"/>
<rect x="88.0" y="327.4" width="1" height="1" fill="#000"/>
<rect x="86.5" y="329.5" width="1" height="1" fill="#000"/>
<rect x="91.1" y="324.4" width="1" height="1" fill="#000"/>
<rect x="87.0" y="328.0" width="1" height="1" fill="#000"/>
<rect x="85.2" y="324.2" width="1" height="1" fill="#000"/>
<rect x="89.0" y="326.0" width="1" height="1" fill="#000"/>
<rect x="89.0" y="326.5" width="1" height="1" fill="#000"/>
<rect x="87.8" y="325.3" width="1" height="1" fill="#000"/>
<rect x="93.0" y="327.0" width="1" height="1" fill="#000"/>
<rect x="87.6" y="329.4" width="1" height="1" fill="#000"/>
<rect x="82.6" y="325.8" width="1" height="1" fill="#000"/>
<rect x="91.1" y="327.7" width="1" height="1" fill="#000"/>
<rect x="89.4" y="324.8" width="1" height="1" fill="#000"/>
<rect x="90.9" y="325.2" width="1" height="1" fill="#000"/>
<rect x="90.5" y="319.3" width="1" height="1" fill="#000"/>
<rect x="90.2" y="323.9" width="1" height="1" fill="#000"/>
<rect x="92.0" y="327.2" width="1" height="1" fill="#000"/>
<rect x="91.3" y="324.7" width="1" height="1" fill="#000"/>
<rect x="90.4" y="324.8" width="1" height="1" fill="#000"/>
<rect x="89.7" y="325.3" width="1" height="1" fill="#000"/>
<rect x="86.2" y="329.9" width="1" height="1" fill="#000"/>
<ellipse cx="89.2" cy="325.8" rx="4.6" ry="2.9" transform="rotate(-15 89.2 325.8)" fill="#000"/>
</g>
<rect x="81.3" y="291" width="54.7" height="38.60000000000002" fill="none" stroke="#555" stroke-width="0.8"/>
<line x1="81.3" y1="329.6" x2="136.0" y2="329.6" stroke="#111" stroke-width="1.3"/>
<line x1="81.3" y1="291" x2="81.3" y2="329.6" stroke="#222" stroke-width="1.1"/>
<line x1="97.8" y1="291" x2="97.8" y2="329.6" stroke="#000" stroke-width="1.5"/>
<line x1="80.8" y1="319.2" x2="136.0" y2="319.2" stroke="#000" stroke-width="1.5"/>
<line x1="81.3" y1="329.6" x2="81.3" y2="331.20000000000005" stroke="#222" stroke-width="0.8"/>
<line x1="79.7" y1="329.6" x2="81.3" y2="329.6" stroke="#222" stroke-width="0.8"/>
<line x1="94.975" y1="329.6" x2="94.975" y2="331.20000000000005" stroke="#222" stroke-width="0.8"/>
<line x1="79.7" y1="319.95000000000005" x2="81.3" y2="319.95000000000005" stroke="#222" stroke-width="0.8"/>
<line x1="108.65" y1="329.6" x2="108.65" y2="331.20000000000005" stroke="#222" stroke-width="0.8"/>
<line x1="79.7" y1="310.3" x2="81.3" y2="310.3" stroke="#222" stroke-width="0.8"/>
<line x1="122.325" y1="329.6" x2="122.325" y2="331.20000000000005" stroke="#222" stroke-width="0.8"/>
<line x1="79.7" y1="300.65" x2="81.3" y2="300.65" stroke="#222" stroke-width="0.8"/>
<line x1="136.0" y1="329.6" x2="136.0" y2="331.20000000000005" stroke="#222" stroke-width="0.8"/>
<line x1="79.7" y1="291.0" x2="81.3" y2="291.0" stroke="#222" stroke-width="0.8"/>
<line x1="85.416175" y1="329.6" x2="85.416175" y2="330.5" stroke="#444" stroke-width="0.5"/>
<line x1="80.39999999999999" y1="326.69535" x2="81.3" y2="326.69535" stroke="#444" stroke-width="0.5"/>
<line x1="87.822975" y1="329.6" x2="87.822975" y2="330.5" stroke="#444" stroke-width="0.5"/>
<line x1="80.39999999999999" y1="324.99695" x2="81.3" y2="324.99695" stroke="#444" stroke-width="0.5"/>
<line x1="89.53235" y1="329.6" x2="89.53235" y2="330.5" stroke="#444" stroke-width="0.5"/>
<line x1="80.39999999999999" y1="323.7907" x2="81.3" y2="323.7907" stroke="#444" stroke-width="0.5"/>
<line x1="90.858825" y1="329.6" x2="90.858825" y2="330.5" stroke="#444" stroke-width="0.5"/>
<line x1="80.39999999999999" y1="322.85465" x2="81.3" y2="322.85465" stroke="#444" stroke-width="0.5"/>
<line x1="91.93915" y1="329.6" x2="91.93915" y2="330.5" stroke="#444" stroke-width="0.5"/>
<line x1="80.39999999999999" y1="322.0923" x2="81.3" y2="322.0923" stroke="#444" stroke-width="0.5"/>
<line x1="92.855375" y1="329.6" x2="92.855375" y2="330.5" stroke="#444" stroke-width="0.5"/>
<line x1="80.39999999999999" y1="321.44575000000003" x2="81.3" y2="321.44575000000003" stroke="#444" stroke-width="0.5"/>
<line x1="93.64852499999999" y1="329.6" x2="93.64852499999999" y2="330.5" stroke="#444" stroke-width="0.5"/>
<line x1="80.39999999999999" y1="320.88605" x2="81.3" y2="320.88605" stroke="#444" stroke-width="0.5"/>
<line x1="94.34595" y1="329.6" x2="94.34595" y2="330.5" stroke="#444" stroke-width="0.5"/>
<line x1="80.39999999999999" y1="320.39390000000003" x2="81.3" y2="320.39390000000003" stroke="#444" stroke-width="0.5"/>
<line x1="99.09117499999999" y1="329.6" x2="99.09117499999999" y2="330.5" stroke="#444" stroke-width="0.5"/>
<line x1="80.39999999999999" y1="317.04535000000004" x2="81.3" y2="317.04535000000004" stroke="#444" stroke-width="0.5"/>
<line x1="101.497975" y1="329.6" x2="101.497975" y2="330.5" stroke="#444" stroke-width="0.5"/>
<line x1="80.39999999999999" y1="315.34695" x2="81.3" y2="315.34695" stroke="#444" stroke-width="0.5"/>
<line x1="103.20734999999999" y1="329.6" x2="103.20734999999999" y2="330.5" stroke="#444" stroke-width="0.5"/>
<line x1="80.39999999999999" y1="314.14070000000004" x2="81.3" y2="314.14070000000004" stroke="#444" stroke-width="0.5"/>
<line x1="104.533825" y1="329.6" x2="104.533825" y2="330.5" stroke="#444" stroke-width="0.5"/>
<line x1="80.39999999999999" y1="313.20465" x2="81.3" y2="313.20465" stroke="#444" stroke-width="0.5"/>
<line x1="105.61415" y1="329.6" x2="105.61415" y2="330.5" stroke="#444" stroke-width="0.5"/>
<line x1="80.39999999999999" y1="312.4423" x2="81.3" y2="312.4423" stroke="#444" stroke-width="0.5"/>
<line x1="106.53037499999999" y1="329.6" x2="106.53037499999999" y2="330.5" stroke="#444" stroke-width="0.5"/>
<line x1="80.39999999999999" y1="311.79575" x2="81.3" y2="311.79575" stroke="#444" stroke-width="0.5"/>
<line x1="107.323525" y1="329.6" x2="107.323525" y2="330.5" stroke="#444" stroke-width="0.5"/>
<line x1="80.39999999999999" y1="311.23605000000003" x2="81.3" y2="311.23605000000003" stroke="#444" stroke-width="0.5"/>
<line x1="108.02095" y1="329.6" x2="108.02095" y2="330.5" stroke="#444" stroke-width="0.5"/>
<line x1="80.39999999999999" y1="310.7439" x2="81.3" y2="310.7439" stroke="#444" stroke-width="0.5"/>
<line x1="112.766175" y1="329.6" x2="112.766175" y2="330.5" stroke="#444" stroke-width="0.5"/>
<line x1="80.39999999999999" y1="307.39535" x2="81.3" y2="307.39535" stroke="#444" stroke-width="0.5"/>
<line x1="115.172975" y1="329.6" x2="115.172975" y2="330.5" stroke="#444" stroke-width="0.5"/>
<line x1="80.39999999999999" y1="305.69695" x2="81.3" y2="305.69695" stroke="#444" stroke-width="0.5"/>
<line x1="116.88235" y1="329.6" x2="116.88235" y2="330.5" stroke="#444" stroke-width="0.5"/>
<line x1="80.39999999999999" y1="304.4907" x2="81.3" y2="304.4907" stroke="#444" stroke-width="0.5"/>
<line x1="118.20882499999999" y1="329.6" x2="118.20882499999999" y2="330.5" stroke="#444" stroke-width="0.5"/>
<line x1="80.39999999999999" y1="303.55465000000004" x2="81.3" y2="303.55465000000004" stroke="#444" stroke-width="0.5"/>
<line x1="119.28915" y1="329.6" x2="119.28915" y2="330.5" stroke="#444" stroke-width="0.5"/>
<line x1="80.39999999999999" y1="302.7923" x2="81.3" y2="302.7923" stroke="#444" stroke-width="0.5"/>
<line x1="120.205375" y1="329.6" x2="120.205375" y2="330.5" stroke="#444" stroke-width="0.5"/>
<line x1="80.39999999999999" y1="302.14575" x2="81.3" y2="302.14575" stroke="#444" stroke-width="0.5"/>
<line x1="120.998525" y1="329.6" x2="120.998525" y2="330.5" stroke="#444" stroke-width="0.5"/>
<line x1="80.39999999999999" y1="301.58605" x2="81.3" y2="301.58605" stroke="#444" stroke-width="0.5"/>
<line x1="121.69595" y1="329.6" x2="121.69595" y2="330.5" stroke="#444" stroke-width="0.5"/>
<line x1="80.39999999999999" y1="301.0939" x2="81.3" y2="301.0939" stroke="#444" stroke-width="0.5"/>
<line x1="126.441175" y1="329.6" x2="126.441175" y2="330.5" stroke="#444" stroke-width="0.5"/>
<line x1="80.39999999999999" y1="297.74535000000003" x2="81.3" y2="297.74535000000003" stroke="#444" stroke-width="0.5"/>
<line x1="128.847975" y1="329.6" x2="128.847975" y2="330.5" stroke="#444" stroke-width="0.5"/>
<line x1="80.39999999999999" y1="296.04695" x2="81.3" y2="296.04695" stroke="#444" stroke-width="0.5"/>
<line x1="130.55734999999999" y1="329.6" x2="130.55734999999999" y2="330.5" stroke="#444" stroke-width="0.5"/>
<line x1="80.39999999999999" y1="294.8407" x2="81.3" y2="294.8407" stroke="#444" stroke-width="0.5"/>
<line x1="131.883825" y1="329.6" x2="131.883825" y2="330.5" stroke="#444" stroke-width="0.5"/>
<line x1="80.39999999999999" y1="293.90465" x2="81.3" y2="293.90465" stroke="#444" stroke-width="0.5"/>
<line x1="132.96415000000002" y1="329.6" x2="132.96415000000002" y2="330.5" stroke="#444" stroke-width="0.5"/>
<line x1="80.39999999999999" y1="293.1423" x2="81.3" y2="293.1423" stroke="#444" stroke-width="0.5"/>
<line x1="133.880375" y1="329.6" x2="133.880375" y2="330.5" stroke="#444" stroke-width="0.5"/>
<line x1="80.39999999999999" y1="292.49575" x2="81.3" y2="292.49575" stroke="#444" stroke-width="0.5"/>
<line x1="134.67352499999998" y1="329.6" x2="134.67352499999998" y2="330.5" stroke="#444" stroke-width="0.5"/>
<line x1="80.39999999999999" y1="291.93605" x2="81.3" y2="291.93605" stroke="#444" stroke-width="0.5"/>
<line x1="135.37095" y1="329.6" x2="135.37095" y2="330.5" stroke="#444" stroke-width="0.5"/>
<line x1="80.39999999999999" y1="291.4439" x2="81.3" y2="291.4439" stroke="#444" stroke-width="0.5"/>
<text x="81.8" y="337.6" font-size="5.3" text-anchor="middle" stroke="none" fill="#3a3a3a">10<tspan font-size="3.71" dy="-2">0</tspan></text>
<text x="76.89999999999999" y="327.8" font-size="5.3" text-anchor="middle" stroke="none" fill="#3a3a3a" transform="rotate(-90 76.89999999999999 327.8)">10<tspan font-size="3.71" dy="-2">0</tspan></text>
<text x="95.475" y="337.6" font-size="5.3" text-anchor="middle" stroke="none" fill="#3a3a3a">10<tspan font-size="3.71" dy="-2">1</tspan></text>
<text x="76.89999999999999" y="318.15000000000003" font-size="5.3" text-anchor="middle" stroke="none" fill="#3a3a3a" transform="rotate(-90 76.89999999999999 318.15000000000003)">10<tspan font-size="3.71" dy="-2">1</tspan></text>
<text x="109.15" y="337.6" font-size="5.3" text-anchor="middle" stroke="none" fill="#3a3a3a">10<tspan font-size="3.71" dy="-2">2</tspan></text>
<text x="76.89999999999999" y="308.5" font-size="5.3" text-anchor="middle" stroke="none" fill="#3a3a3a" transform="rotate(-90 76.89999999999999 308.5)">10<tspan font-size="3.71" dy="-2">2</tspan></text>
<text x="122.825" y="337.6" font-size="5.3" text-anchor="middle" stroke="none" fill="#3a3a3a">10<tspan font-size="3.71" dy="-2">3</tspan></text>
<text x="76.89999999999999" y="298.84999999999997" font-size="5.3" text-anchor="middle" stroke="none" fill="#3a3a3a" transform="rotate(-90 76.89999999999999 298.84999999999997)">10<tspan font-size="3.71" dy="-2">3</tspan></text>
<text x="136.5" y="337.6" font-size="5.3" text-anchor="middle" stroke="none" fill="#3a3a3a">10<tspan font-size="3.71" dy="-2">4</tspan></text>
<text x="76.89999999999999" y="289.2" font-size="5.3" text-anchor="middle" stroke="none" fill="#3a3a3a" transform="rotate(-90 76.89999999999999 289.2)">10<tspan font-size="3.71" dy="-2">4</tspan></text>
<clipPath id="fc2"><rect x="163.2" y="291.2" width="54.70000000000002" height="38.400000000000034"/></clipPath><g clip-path="url(#fc2)">
<rect x="210.7" y="328.1" width="0.9" height="0.9" fill="#999"/>
<rect x="183.7" y="321.6" width="0.9" height="0.9" fill="#999"/>
<rect x="207.1" y="326.5" width="0.9" height="0.9" fill="#999"/>
<rect x="202.1" y="323.3" width="0.9" height="0.9" fill="#999"/>
<rect x="200.2" y="325.6" width="0.9" height="0.9" fill="#999"/>
<rect x="199.4" y="322.2" width="0.9" height="0.9" fill="#999"/>
<rect x="194.9" y="324.0" width="0.9" height="0.9" fill="#999"/>
<rect x="203.7" y="328.5" width="0.9" height="0.9" fill="#999"/>
<rect x="210.5" y="325.1" width="0.9" height="0.9" fill="#999"/>
<rect x="195.3" y="323.0" width="0.9" height="0.9" fill="#999"/>
<rect x="183.1" y="321.2" width="0.9" height="0.9" fill="#999"/>
<rect x="195.9" y="323.4" width="0.9" height="0.9" fill="#999"/>
<rect x="193.4" y="327.7" width="0.9" height="0.9" fill="#999"/>
<rect x="197.8" y="325.2" width="0.9" height="0.9" fill="#999"/>
<rect x="189.1" y="321.2" width="0.9" height="0.9" fill="#999"/>
<rect x="191.8" y="322.0" width="0.9" height="0.9" fill="#999"/>
<rect x="197.3" y="328.5" width="0.9" height="0.9" fill="#999"/>
<rect x="202.2" y="322.4" width="0.9" height="0.9" fill="#999"/>
<rect x="208.8" y="327.0" width="0.9" height="0.9" fill="#999"/>
<rect x="204.0" y="327.8" width="0.9" height="0.9" fill="#999"/>
<rect x="204.9" y="326.9" width="0.9" height="0.9" fill="#999"/>
<rect x="192.6" y="328.4" width="0.9" height="0.9" fill="#999"/>
<rect x="210.9" y="322.2" width="0.9" height="0.9" fill="#999"/>
<rect x="204.6" y="326.4" width="0.9" height="0.9" fill="#999"/>
<rect x="195.8" y="325.0" width="0.9" height="0.9" fill="#999"/>
<rect x="196.7" y="327.9" width="0.9" height="0.9" fill="#999"/>
<rect x="197.0" y="327.2" width="0.9" height="0.9" fill="#999"/>
<rect x="192.6" y="327.6" width="0.9" height="0.9" fill="#999"/>
<rect x="209.0" y="324.5" width="0.9" height="0.9" fill="#999"/>
<rect x="199.0" y="327.9" width="0.9" height="0.9" fill="#999"/>
<rect x="203.7" y="324.6" width="0.9" height="0.9" fill="#999"/>
<rect x="188.7" y="323.4" width="0.9" height="0.9" fill="#999"/>
<rect x="203.0" y="322.2" width="0.9" height="0.9" fill="#999"/>
<rect x="209.2" y="323.0" width="0.9" height="0.9" fill="#999"/>
<rect x="209.3" y="323.3" width="0.9" height="0.9" fill="#999"/>
<rect x="210.7" y="326.3" width="0.9" height="0.9" fill="#999"/>
<rect x="197.1" y="324.9" width="0.9" height="0.9" fill="#999"/>
<rect x="201.5" y="325.4" width="0.9" height="0.9" fill="#999"/>
<rect x="191.4" y="322.6" width="0.9" height="0.9" fill="#999"/>
<rect x="197.4" y="328.0" width="0.9" height="0.9" fill="#999"/>
<rect x="200.7" y="321.6" width="0.9" height="0.9" fill="#999"/>
<rect x="206.6" y="326.4" width="0.9" height="0.9" fill="#999"/>
<rect x="209.2" y="322.4" width="0.9" height="0.9" fill="#999"/>
<rect x="204.3" y="321.4" width="0.9" height="0.9" fill="#999"/>
<rect x="201.6" y="323.0" width="0.9" height="0.9" fill="#999"/>
<rect x="195.7" y="317.3" width="0.9" height="0.9" fill="#999"/>
<rect x="192.7" y="315.1" width="0.9" height="0.9" fill="#999"/>
<rect x="211.3" y="313.5" width="0.9" height="0.9" fill="#999"/>
<rect x="195.3" y="317.3" width="0.9" height="0.9" fill="#999"/>
<rect x="200.6" y="316.3" width="0.9" height="0.9" fill="#999"/>
<rect x="190.8" y="314.2" width="0.9" height="0.9" fill="#999"/>
<rect x="194.3" y="316.0" width="0.9" height="0.9" fill="#999"/>
<rect x="192.1" y="317.7" width="0.9" height="0.9" fill="#999"/>
<rect x="185.8" y="310.8" width="0.9" height="0.9" fill="#bbb"/>
<rect x="185.6" y="299.9" width="0.9" height="0.9" fill="#bbb"/>
<rect x="209.4" y="297.6" width="0.9" height="0.9" fill="#bbb"/>
<rect x="190.5" y="309.9" width="0.9" height="0.9" fill="#bbb"/>
<rect x="196.6" y="295.0" width="0.9" height="0.9" fill="#bbb"/>
<rect x="172.7" y="325.9" width="1" height="1" fill="#000"/>
<rect x="173.7" y="326.5" width="1" height="1" fill="#000"/>
<rect x="167.3" y="323.6" width="1" height="1" fill="#000"/>
<rect x="173.1" y="327.3" width="1" height="1" fill="#000"/>
<rect x="174.2" y="326.5" width="1" height="1" fill="#000"/>
<rect x="171.5" y="322.4" width="1" height="1" fill="#000"/>
<rect x="175.1" y="323.9" width="1" height="1" fill="#000"/>
<rect x="174.0" y="323.4" width="1" height="1" fill="#000"/>
<rect x="168.9" y="326.3" width="1" height="1" fill="#000"/>
<rect x="169.6" y="324.4" width="1" height="1" fill="#000"/>
<rect x="173.6" y="327.4" width="1" height="1" fill="#000"/>
<rect x="172.1" y="325.2" width="1" height="1" fill="#000"/>
<rect x="168.4" y="324.9" width="1" height="1" fill="#000"/>
<rect x="169.3" y="325.9" width="1" height="1" fill="#000"/>
<rect x="173.2" y="325.6" width="1" height="1" fill="#000"/>
<rect x="168.5" y="324.6" width="1" height="1" fill="#000"/>
<rect x="174.8" y="326.3" width="1" height="1" fill="#000"/>
<rect x="171.7" y="326.6" width="1" height="1" fill="#000"/>
<rect x="172.7" y="326.3" width="1" height="1" fill="#000"/>
<rect x="174.5" y="327.8" width="1" height="1" fill="#000"/>
<rect x="162.4" y="325.7" width="1" height="1" fill="#000"/>
<rect x="179.9" y="323.1" width="1" height="1" fill="#000"/>
<rect x="171.4" y="328.4" width="1" height="1" fill="#000"/>
<rect x="171.0" y="328.9" width="1" height="1" fill="#000"/>
<rect x="167.2" y="323.2" width="1" height="1" fill="#000"/>
<rect x="170.4" y="324.4" width="1" height="1" fill="#000"/>
<rect x="167.8" y="327.3" width="1" height="1" fill="#000"/>
<rect x="171.8" y="326.0" width="1" height="1" fill="#000"/>
<rect x="169.8" y="326.6" width="1" height="1" fill="#000"/>
<rect x="170.6" y="324.4" width="1" height="1" fill="#000"/>
<rect x="172.5" y="326.8" width="1" height="1" fill="#000"/>
<rect x="171.2" y="327.5" width="1" height="1" fill="#000"/>
<rect x="167.7" y="325.7" width="1" height="1" fill="#000"/>
<rect x="169.4" y="328.9" width="1" height="1" fill="#000"/>
<rect x="172.5" y="330.7" width="1" height="1" fill="#000"/>
<rect x="175.7" y="325.2" width="1" height="1" fill="#000"/>
<rect x="167.7" y="327.1" width="1" height="1" fill="#000"/>
<rect x="170.2" y="325.7" width="1" height="1" fill="#000"/>
<rect x="167.8" y="327.3" width="1" height="1" fill="#000"/>
<rect x="171.6" y="326.9" width="1" height="1" fill="#000"/>
<rect x="171.9" y="324.0" width="1" height="1" fill="#000"/>
<rect x="164.3" y="325.4" width="1" height="1" fill="#000"/>
<rect x="169.1" y="324.8" width="1" height="1" fill="#000"/>
<rect x="173.9" y="325.8" width="1" height="1" fill="#000"/>
<rect x="175.5" y="326.4" width="1" height="1" fill="#000"/>
<rect x="173.1" y="327.1" width="1" height="1" fill="#000"/>
<rect x="173.4" y="323.2" width="1" height="1" fill="#000"/>
<rect x="174.3" y="326.2" width="1" height="1" fill="#000"/>
<rect x="168.1" y="327.4" width="1" height="1" fill="#000"/>
<rect x="172.0" y="328.8" width="1" height="1" fill="#000"/>
<rect x="173.2" y="326.8" width="1" height="1" fill="#000"/>
<rect x="166.1" y="329.7" width="1" height="1" fill="#000"/>
<rect x="175.5" y="327.7" width="1" height="1" fill="#000"/>
<rect x="172.4" y="328.7" width="1" height="1" fill="#000"/>
<rect x="168.4" y="327.5" width="1" height="1" fill="#000"/>
<rect x="171.1" y="323.8" width="1" height="1" fill="#000"/>
<rect x="172.1" y="326.8" width="1" height="1" fill="#000"/>
<rect x="176.1" y="328.1" width="1" height="1" fill="#000"/>
<rect x="166.2" y="321.7" width="1" height="1" fill="#000"/>
<rect x="170.8" y="325.5" width="1" height="1" fill="#000"/>
<rect x="168.2" y="322.8" width="1" height="1" fill="#000"/>
<rect x="170.4" y="323.5" width="1" height="1" fill="#000"/>
<rect x="168.9" y="327.9" width="1" height="1" fill="#000"/>
<rect x="171.7" y="324.3" width="1" height="1" fill="#000"/>
<rect x="167.6" y="325.6" width="1" height="1" fill="#000"/>
<rect x="176.2" y="324.9" width="1" height="1" fill="#000"/>
<rect x="176.2" y="324.3" width="1" height="1" fill="#000"/>
<rect x="170.4" y="327.5" width="1" height="1" fill="#000"/>
<rect x="168.7" y="326.1" width="1" height="1" fill="#000"/>
<rect x="166.9" y="327.5" width="1" height="1" fill="#000"/>
<rect x="174.5" y="324.6" width="1" height="1" fill="#000"/>
<rect x="171.6" y="325.1" width="1" height="1" fill="#000"/>
<rect x="164.5" y="332.0" width="1" height="1" fill="#000"/>
<rect x="172.9" y="327.8" width="1" height="1" fill="#000"/>
<rect x="172.2" y="326.4" width="1" height="1" fill="#000"/>
<rect x="178.1" y="322.0" width="1" height="1" fill="#000"/>
<rect x="170.1" y="325.1" width="1" height="1" fill="#000"/>
<rect x="170.4" y="327.5" width="1" height="1" fill="#000"/>
<rect x="168.8" y="323.1" width="1" height="1" fill="#000"/>
<rect x="167.6" y="327.0" width="1" height="1" fill="#000"/>
<rect x="173.9" y="327.8" width="1" height="1" fill="#000"/>
<rect x="175.8" y="324.9" width="1" height="1" fill="#000"/>
<rect x="174.0" y="327.5" width="1" height="1" fill="#000"/>
<rect x="170.5" y="324.3" width="1" height="1" fill="#000"/>
<rect x="173.6" y="324.5" width="1" height="1" fill="#000"/>
<rect x="170.1" y="323.9" width="1" height="1" fill="#000"/>
<rect x="176.2" y="325.9" width="1" height="1" fill="#000"/>
<rect x="169.5" y="325.5" width="1" height="1" fill="#000"/>
<rect x="170.3" y="326.2" width="1" height="1" fill="#000"/>
<rect x="165.9" y="323.4" width="1" height="1" fill="#000"/>
<rect x="172.5" y="328.4" width="1" height="1" fill="#000"/>
<rect x="168.0" y="326.2" width="1" height="1" fill="#000"/>
<rect x="169.3" y="321.0" width="1" height="1" fill="#000"/>
<rect x="170.1" y="323.6" width="1" height="1" fill="#000"/>
<rect x="173.6" y="325.5" width="1" height="1" fill="#000"/>
<rect x="170.9" y="322.8" width="1" height="1" fill="#000"/>
<rect x="171.4" y="321.7" width="1" height="1" fill="#000"/>
<rect x="171.7" y="329.0" width="1" height="1" fill="#000"/>
<rect x="167.4" y="327.9" width="1" height="1" fill="#000"/>
<rect x="175.2" y="325.6" width="1" height="1" fill="#000"/>
<rect x="174.3" y="326.2" width="1" height="1" fill="#000"/>
<rect x="169.5" y="321.6" width="1" height="1" fill="#000"/>
<rect x="167.8" y="322.7" width="1" height="1" fill="#000"/>
<rect x="178.1" y="326.6" width="1" height="1" fill="#000"/>
<rect x="170.5" y="323.0" width="1" height="1" fill="#000"/>
<rect x="176.2" y="323.4" width="1" height="1" fill="#000"/>
<rect x="175.5" y="328.4" width="1" height="1" fill="#000"/>
<rect x="171.2" y="324.5" width="1" height="1" fill="#000"/>
<rect x="170.9" y="323.1" width="1" height="1" fill="#000"/>
<rect x="172.9" y="329.7" width="1" height="1" fill="#000"/>
<ellipse cx="171" cy="326" rx="4.3" ry="2.8" transform="rotate(-20 171 326)" fill="#000"/>
</g>
<rect x="163.2" y="291.2" width="54.70000000000002" height="38.400000000000034" fill="none" stroke="#555" stroke-width="0.8"/>
<line x1="163.2" y1="329.6" x2="217.9" y2="329.6" stroke="#111" stroke-width="1.3"/>
<line x1="163.2" y1="291.2" x2="163.2" y2="329.6" stroke="#222" stroke-width="1.1"/>
<line x1="180.4" y1="291.2" x2="180.4" y2="329.6" stroke="#000" stroke-width="1.5"/>
<line x1="162.7" y1="319.4" x2="217.9" y2="319.4" stroke="#000" stroke-width="1.5"/>
<line x1="163.2" y1="329.6" x2="163.2" y2="331.20000000000005" stroke="#222" stroke-width="0.8"/>
<line x1="161.6" y1="329.6" x2="163.2" y2="329.6" stroke="#222" stroke-width="0.8"/>
<line x1="176.875" y1="329.6" x2="176.875" y2="331.20000000000005" stroke="#222" stroke-width="0.8"/>
<line x1="161.6" y1="320.0" x2="163.2" y2="320.0" stroke="#222" stroke-width="0.8"/>
<line x1="190.55" y1="329.6" x2="190.55" y2="331.20000000000005" stroke="#222" stroke-width="0.8"/>
<line x1="161.6" y1="310.4" x2="163.2" y2="310.4" stroke="#222" stroke-width="0.8"/>
<line x1="204.225" y1="329.6" x2="204.225" y2="331.20000000000005" stroke="#222" stroke-width="0.8"/>
<line x1="161.6" y1="300.8" x2="163.2" y2="300.8" stroke="#222" stroke-width="0.8"/>
<line x1="217.9" y1="329.6" x2="217.9" y2="331.20000000000005" stroke="#222" stroke-width="0.8"/>
<line x1="161.6" y1="291.2" x2="163.2" y2="291.2" stroke="#222" stroke-width="0.8"/>
<line x1="167.316175" y1="329.6" x2="167.316175" y2="330.5" stroke="#444" stroke-width="0.5"/>
<line x1="162.29999999999998" y1="326.7104" x2="163.2" y2="326.7104" stroke="#444" stroke-width="0.5"/>
<line x1="169.722975" y1="329.6" x2="169.722975" y2="330.5" stroke="#444" stroke-width="0.5"/>
<line x1="162.29999999999998" y1="325.0208" x2="163.2" y2="325.0208" stroke="#444" stroke-width="0.5"/>
<line x1="171.43234999999999" y1="329.6" x2="171.43234999999999" y2="330.5" stroke="#444" stroke-width="0.5"/>
<line x1="162.29999999999998" y1="323.8208" x2="163.2" y2="323.8208" stroke="#444" stroke-width="0.5"/>
<line x1="172.758825" y1="329.6" x2="172.758825" y2="330.5" stroke="#444" stroke-width="0.5"/>
<line x1="162.29999999999998" y1="322.88960000000003" x2="163.2" y2="322.88960000000003" stroke="#444" stroke-width="0.5"/>
<line x1="173.83915" y1="329.6" x2="173.83915" y2="330.5" stroke="#444" stroke-width="0.5"/>
<line x1="162.29999999999998" y1="322.13120000000004" x2="163.2" y2="322.13120000000004" stroke="#444" stroke-width="0.5"/>
<line x1="174.755375" y1="329.6" x2="174.755375" y2="330.5" stroke="#444" stroke-width="0.5"/>
<line x1="162.29999999999998" y1="321.488" x2="163.2" y2="321.488" stroke="#444" stroke-width="0.5"/>
<line x1="175.54852499999998" y1="329.6" x2="175.54852499999998" y2="330.5" stroke="#444" stroke-width="0.5"/>
<line x1="162.29999999999998" y1="320.9312" x2="163.2" y2="320.9312" stroke="#444" stroke-width="0.5"/>
<line x1="176.24595" y1="329.6" x2="176.24595" y2="330.5" stroke="#444" stroke-width="0.5"/>
<line x1="162.29999999999998" y1="320.4416" x2="163.2" y2="320.4416" stroke="#444" stroke-width="0.5"/>
<line x1="180.991175" y1="329.6" x2="180.991175" y2="330.5" stroke="#444" stroke-width="0.5"/>
<line x1="162.29999999999998" y1="317.1104" x2="163.2" y2="317.1104" stroke="#444" stroke-width="0.5"/>
<line x1="183.397975" y1="329.6" x2="183.397975" y2="330.5" stroke="#444" stroke-width="0.5"/>
<line x1="162.29999999999998" y1="315.4208" x2="163.2" y2="315.4208" stroke="#444" stroke-width="0.5"/>
<line x1="185.10735" y1="329.6" x2="185.10735" y2="330.5" stroke="#444" stroke-width="0.5"/>
<line x1="162.29999999999998" y1="314.2208" x2="163.2" y2="314.2208" stroke="#444" stroke-width="0.5"/>
<line x1="186.43382499999998" y1="329.6" x2="186.43382499999998" y2="330.5" stroke="#444" stroke-width="0.5"/>
<line x1="162.29999999999998" y1="313.2896" x2="163.2" y2="313.2896" stroke="#444" stroke-width="0.5"/>
<line x1="187.51415" y1="329.6" x2="187.51415" y2="330.5" stroke="#444" stroke-width="0.5"/>
<line x1="162.29999999999998" y1="312.5312" x2="163.2" y2="312.5312" stroke="#444" stroke-width="0.5"/>
<line x1="188.430375" y1="329.6" x2="188.430375" y2="330.5" stroke="#444" stroke-width="0.5"/>
<line x1="162.29999999999998" y1="311.88800000000003" x2="163.2" y2="311.88800000000003" stroke="#444" stroke-width="0.5"/>
<line x1="189.223525" y1="329.6" x2="189.223525" y2="330.5" stroke="#444" stroke-width="0.5"/>
<line x1="162.29999999999998" y1="311.3312" x2="163.2" y2="311.3312" stroke="#444" stroke-width="0.5"/>
<line x1="189.92095" y1="329.6" x2="189.92095" y2="330.5" stroke="#444" stroke-width="0.5"/>
<line x1="162.29999999999998" y1="310.8416" x2="163.2" y2="310.8416" stroke="#444" stroke-width="0.5"/>
<line x1="194.666175" y1="329.6" x2="194.666175" y2="330.5" stroke="#444" stroke-width="0.5"/>
<line x1="162.29999999999998" y1="307.5104" x2="163.2" y2="307.5104" stroke="#444" stroke-width="0.5"/>
<line x1="197.07297499999999" y1="329.6" x2="197.07297499999999" y2="330.5" stroke="#444" stroke-width="0.5"/>
<line x1="162.29999999999998" y1="305.8208" x2="163.2" y2="305.8208" stroke="#444" stroke-width="0.5"/>
<line x1="198.78235" y1="329.6" x2="198.78235" y2="330.5" stroke="#444" stroke-width="0.5"/>
<line x1="162.29999999999998" y1="304.62080000000003" x2="163.2" y2="304.62080000000003" stroke="#444" stroke-width="0.5"/>
<line x1="200.108825" y1="329.6" x2="200.108825" y2="330.5" stroke="#444" stroke-width="0.5"/>
<line x1="162.29999999999998" y1="303.6896" x2="163.2" y2="303.6896" stroke="#444" stroke-width="0.5"/>
<line x1="201.18914999999998" y1="329.6" x2="201.18914999999998" y2="330.5" stroke="#444" stroke-width="0.5"/>
<line x1="162.29999999999998" y1="302.9312" x2="163.2" y2="302.9312" stroke="#444" stroke-width="0.5"/>
<line x1="202.10537499999998" y1="329.6" x2="202.10537499999998" y2="330.5" stroke="#444" stroke-width="0.5"/>
<line x1="162.29999999999998" y1="302.288" x2="163.2" y2="302.288" stroke="#444" stroke-width="0.5"/>
<line x1="202.898525" y1="329.6" x2="202.898525" y2="330.5" stroke="#444" stroke-width="0.5"/>
<line x1="162.29999999999998" y1="301.7312" x2="163.2" y2="301.7312" stroke="#444" stroke-width="0.5"/>
<line x1="203.59595" y1="329.6" x2="203.59595" y2="330.5" stroke="#444" stroke-width="0.5"/>
<line x1="162.29999999999998" y1="301.2416" x2="163.2" y2="301.2416" stroke="#444" stroke-width="0.5"/>
<line x1="208.34117500000002" y1="329.6" x2="208.34117500000002" y2="330.5" stroke="#444" stroke-width="0.5"/>
<line x1="162.29999999999998" y1="297.9104" x2="163.2" y2="297.9104" stroke="#444" stroke-width="0.5"/>
<line x1="210.747975" y1="329.6" x2="210.747975" y2="330.5" stroke="#444" stroke-width="0.5"/>
<line x1="162.29999999999998" y1="296.2208" x2="163.2" y2="296.2208" stroke="#444" stroke-width="0.5"/>
<line x1="212.45735000000002" y1="329.6" x2="212.45735000000002" y2="330.5" stroke="#444" stroke-width="0.5"/>
<line x1="162.29999999999998" y1="295.0208" x2="163.2" y2="295.0208" stroke="#444" stroke-width="0.5"/>
<line x1="213.783825" y1="329.6" x2="213.783825" y2="330.5" stroke="#444" stroke-width="0.5"/>
<line x1="162.29999999999998" y1="294.0896" x2="163.2" y2="294.0896" stroke="#444" stroke-width="0.5"/>
<line x1="214.86415" y1="329.6" x2="214.86415" y2="330.5" stroke="#444" stroke-width="0.5"/>
<line x1="162.29999999999998" y1="293.33119999999997" x2="163.2" y2="293.33119999999997" stroke="#444" stroke-width="0.5"/>
<line x1="215.780375" y1="329.6" x2="215.780375" y2="330.5" stroke="#444" stroke-width="0.5"/>
<line x1="162.29999999999998" y1="292.688" x2="163.2" y2="292.688" stroke="#444" stroke-width="0.5"/>
<line x1="216.57352500000002" y1="329.6" x2="216.57352500000002" y2="330.5" stroke="#444" stroke-width="0.5"/>
<line x1="162.29999999999998" y1="292.1312" x2="163.2" y2="292.1312" stroke="#444" stroke-width="0.5"/>
<line x1="217.27095" y1="329.6" x2="217.27095" y2="330.5" stroke="#444" stroke-width="0.5"/>
<line x1="162.29999999999998" y1="291.6416" x2="163.2" y2="291.6416" stroke="#444" stroke-width="0.5"/>
<text x="163.7" y="337.6" font-size="5.3" text-anchor="middle" stroke="none" fill="#3a3a3a">10<tspan font-size="3.71" dy="-2">0</tspan></text>
<text x="158.79999999999998" y="327.8" font-size="5.3" text-anchor="middle" stroke="none" fill="#3a3a3a" transform="rotate(-90 158.79999999999998 327.8)">10<tspan font-size="3.71" dy="-2">0</tspan></text>
<text x="177.375" y="337.6" font-size="5.3" text-anchor="middle" stroke="none" fill="#3a3a3a">10<tspan font-size="3.71" dy="-2">1</tspan></text>
<text x="158.79999999999998" y="318.2" font-size="5.3" text-anchor="middle" stroke="none" fill="#3a3a3a" transform="rotate(-90 158.79999999999998 318.2)">10<tspan font-size="3.71" dy="-2">1</tspan></text>
<text x="191.05" y="337.6" font-size="5.3" text-anchor="middle" stroke="none" fill="#3a3a3a">10<tspan font-size="3.71" dy="-2">2</tspan></text>
<text x="158.79999999999998" y="308.59999999999997" font-size="5.3" text-anchor="middle" stroke="none" fill="#3a3a3a" transform="rotate(-90 158.79999999999998 308.59999999999997)">10<tspan font-size="3.71" dy="-2">2</tspan></text>
<text x="204.725" y="337.6" font-size="5.3" text-anchor="middle" stroke="none" fill="#3a3a3a">10<tspan font-size="3.71" dy="-2">3</tspan></text>
<text x="158.79999999999998" y="299.0" font-size="5.3" text-anchor="middle" stroke="none" fill="#3a3a3a" transform="rotate(-90 158.79999999999998 299.0)">10<tspan font-size="3.71" dy="-2">3</tspan></text>
<text x="218.4" y="337.6" font-size="5.3" text-anchor="middle" stroke="none" fill="#3a3a3a">10<tspan font-size="3.71" dy="-2">4</tspan></text>
<text x="158.79999999999998" y="289.4" font-size="5.3" text-anchor="middle" stroke="none" fill="#3a3a3a" transform="rotate(-90 158.79999999999998 289.4)">10<tspan font-size="3.71" dy="-2">4</tspan></text>
<clipPath id="fc3"><rect x="81.3" y="346.2" width="56.60000000000001" height="37.80000000000001"/></clipPath><g clip-path="url(#fc3)">
<rect x="107.6" y="379.8" width="0.9" height="0.9" fill="#555"/>
<rect x="111.8" y="380.2" width="0.9" height="0.9" fill="#555"/>
<rect x="120.0" y="376.5" width="0.9" height="0.9" fill="#555"/>
<rect x="100.4" y="381.9" width="0.9" height="0.9" fill="#555"/>
<rect x="108.3" y="377.6" width="0.9" height="0.9" fill="#555"/>
<rect x="131.9" y="379.3" width="0.9" height="0.9" fill="#555"/>
<rect x="126.8" y="379.3" width="0.9" height="0.9" fill="#555"/>
<rect x="120.5" y="377.1" width="0.9" height="0.9" fill="#555"/>
<rect x="120.3" y="382.1" width="0.9" height="0.9" fill="#555"/>
<rect x="116.7" y="381.2" width="0.9" height="0.9" fill="#555"/>
<rect x="121.5" y="376.4" width="0.9" height="0.9" fill="#555"/>
<rect x="124.3" y="380.1" width="0.9" height="0.9" fill="#555"/>
<rect x="109.6" y="376.2" width="0.9" height="0.9" fill="#555"/>
<rect x="127.7" y="379.3" width="0.9" height="0.9" fill="#555"/>
<rect x="123.0" y="382.2" width="0.9" height="0.9" fill="#555"/>
<rect x="122.9" y="382.4" width="0.9" height="0.9" fill="#555"/>
<rect x="112.6" y="381.6" width="0.9" height="0.9" fill="#555"/>
<rect x="114.2" y="382.5" width="0.9" height="0.9" fill="#555"/>
<rect x="128.1" y="376.7" width="0.9" height="0.9" fill="#555"/>
<rect x="104.4" y="377.5" width="0.9" height="0.9" fill="#555"/>
<rect x="130.9" y="379.1" width="0.9" height="0.9" fill="#555"/>
<rect x="120.1" y="378.1" width="0.9" height="0.9" fill="#555"/>
<rect x="116.2" y="378.7" width="0.9" height="0.9" fill="#555"/>
<rect x="111.2" y="380.1" width="0.9" height="0.9" fill="#555"/>
<rect x="118.7" y="382.3" width="0.9" height="0.9" fill="#555"/>
<rect x="121.8" y="382.5" width="0.9" height="0.9" fill="#555"/>
<rect x="127.4" y="382.9" width="0.9" height="0.9" fill="#555"/>
<rect x="121.5" y="377.1" width="0.9" height="0.9" fill="#555"/>
<rect x="127.5" y="382.8" width="0.9" height="0.9" fill="#555"/>
<rect x="129.0" y="380.0" width="0.9" height="0.9" fill="#555"/>
<rect x="122.8" y="377.5" width="0.9" height="0.9" fill="#555"/>
<rect x="126.6" y="380.0" width="0.9" height="0.9" fill="#555"/>
<rect x="109.1" y="376.4" width="0.9" height="0.9" fill="#555"/>
<rect x="127.3" y="382.9" width="0.9" height="0.9" fill="#555"/>
<rect x="102.8" y="381.6" width="0.9" height="0.9" fill="#555"/>
<rect x="113.1" y="377.1" width="0.9" height="0.9" fill="#555"/>
<rect x="109.4" y="381.4" width="0.9" height="0.9" fill="#555"/>
<rect x="127.9" y="376.3" width="0.9" height="0.9" fill="#555"/>
<rect x="119.7" y="376.3" width="0.9" height="0.9" fill="#555"/>
<rect x="123.0" y="378.3" width="0.9" height="0.9" fill="#555"/>
<rect x="128.2" y="382.9" width="0.9" height="0.9" fill="#555"/>
<rect x="116.2" y="383.0" width="0.9" height="0.9" fill="#555"/>
<rect x="109.9" y="376.5" width="0.9" height="0.9" fill="#555"/>
<rect x="119.2" y="376.2" width="0.9" height="0.9" fill="#555"/>
<rect x="106.3" y="378.9" width="0.9" height="0.9" fill="#555"/>
<rect x="119.5" y="377.1" width="0.9" height="0.9" fill="#555"/>
<rect x="101.4" y="382.1" width="0.9" height="0.9" fill="#555"/>
<rect x="110.0" y="382.7" width="0.9" height="0.9" fill="#555"/>
<rect x="128.7" y="378.6" width="0.9" height="0.9" fill="#555"/>
<rect x="114.7" y="379.6" width="0.9" height="0.9" fill="#555"/>
<rect x="120.6" y="380.2" width="0.9" height="0.9" fill="#555"/>
<rect x="117.9" y="380.3" width="0.9" height="0.9" fill="#555"/>
<rect x="130.1" y="379.5" width="0.9" height="0.9" fill="#555"/>
<rect x="113.8" y="381.0" width="0.9" height="0.9" fill="#555"/>
<rect x="107.6" y="378.1" width="0.9" height="0.9" fill="#555"/>
<rect x="131.3" y="379.6" width="0.9" height="0.9" fill="#555"/>
<rect x="117.5" y="376.1" width="0.9" height="0.9" fill="#555"/>
<rect x="113.3" y="380.1" width="0.9" height="0.9" fill="#555"/>
<rect x="100.6" y="380.3" width="0.9" height="0.9" fill="#555"/>
<rect x="120.2" y="376.4" width="0.9" height="0.9" fill="#555"/>
<rect x="120.1" y="379.3" width="0.9" height="0.9" fill="#555"/>
<rect x="121.7" y="378.5" width="0.9" height="0.9" fill="#555"/>
<rect x="122.6" y="381.2" width="0.9" height="0.9" fill="#555"/>
<rect x="100.7" y="376.4" width="0.9" height="0.9" fill="#555"/>
<rect x="121.6" y="382.7" width="0.9" height="0.9" fill="#555"/>
<rect x="108.0" y="379.2" width="0.9" height="0.9" fill="#555"/>
<rect x="119.0" y="378.2" width="0.9" height="0.9" fill="#555"/>
<rect x="111.6" y="378.2" width="0.9" height="0.9" fill="#555"/>
<rect x="111.8" y="380.2" width="0.9" height="0.9" fill="#555"/>
<rect x="109.6" y="378.6" width="0.9" height="0.9" fill="#555"/>
<rect x="124.7" y="376.2" width="0.9" height="0.9" fill="#555"/>
<rect x="118.2" y="381.1" width="0.9" height="0.9" fill="#555"/>
<rect x="109.9" y="377.6" width="0.9" height="0.9" fill="#555"/>
<rect x="125.7" y="377.7" width="0.9" height="0.9" fill="#555"/>
<rect x="106.0" y="379.0" width="0.9" height="0.9" fill="#555"/>
<rect x="122.3" y="376.7" width="0.9" height="0.9" fill="#555"/>
<rect x="110.3" y="378.3" width="0.9" height="0.9" fill="#555"/>
<rect x="126.7" y="379.1" width="0.9" height="0.9" fill="#555"/>
<rect x="127.4" y="377.2" width="0.9" height="0.9" fill="#555"/>
<rect x="110.8" y="380.6" width="0.9" height="0.9" fill="#555"/>
<rect x="128.3" y="379.2" width="0.9" height="0.9" fill="#555"/>
<rect x="107.2" y="376.8" width="0.9" height="0.9" fill="#555"/>
<rect x="116.9" y="377.3" width="0.9" height="0.9" fill="#555"/>
<rect x="125.8" y="381.9" width="0.9" height="0.9" fill="#555"/>
<rect x="105.9" y="378.0" width="0.9" height="0.9" fill="#555"/>
<rect x="125.8" y="380.5" width="0.9" height="0.9" fill="#555"/>
<rect x="125.8" y="378.4" width="0.9" height="0.9" fill="#555"/>
<rect x="104.2" y="378.0" width="0.9" height="0.9" fill="#555"/>
<rect x="125.4" y="377.9" width="0.9" height="0.9" fill="#555"/>
<rect x="111.1" y="378.9" width="0.9" height="0.9" fill="#555"/>
<rect x="113.4" y="378.9" width="0.9" height="0.9" fill="#555"/>
<rect x="129.5" y="377.1" width="0.9" height="0.9" fill="#555"/>
<rect x="100.1" y="382.6" width="0.9" height="0.9" fill="#555"/>
<rect x="128.2" y="382.9" width="0.9" height="0.9" fill="#555"/>
<rect x="113.9" y="382.7" width="0.9" height="0.9" fill="#555"/>
<rect x="129.7" y="377.6" width="0.9" height="0.9" fill="#555"/>
<rect x="123.9" y="381.9" width="0.9" height="0.9" fill="#555"/>
<rect x="121.2" y="379.6" width="0.9" height="0.9" fill="#555"/>
<rect x="109.2" y="378.4" width="0.9" height="0.9" fill="#555"/>
<rect x="107.3" y="376.5" width="0.9" height="0.9" fill="#555"/>
<rect x="118.8" y="378.0" width="0.9" height="0.9" fill="#555"/>
<rect x="125.9" y="376.3" width="0.9" height="0.9" fill="#555"/>
<rect x="128.9" y="380.9" width="0.9" height="0.9" fill="#555"/>
<rect x="129.6" y="382.3" width="0.9" height="0.9" fill="#555"/>
<rect x="128.8" y="380.0" width="0.9" height="0.9" fill="#555"/>
<rect x="100.4" y="381.2" width="0.9" height="0.9" fill="#555"/>
<rect x="105.5" y="378.1" width="0.9" height="0.9" fill="#555"/>
<rect x="121.2" y="379.7" width="0.9" height="0.9" fill="#555"/>
<rect x="113.2" y="382.6" width="0.9" height="0.9" fill="#555"/>
<rect x="119.6" y="378.4" width="0.9" height="0.9" fill="#555"/>
<rect x="127.5" y="372.9" width="0.9" height="0.9" fill="#999"/>
<rect x="129.8" y="372.5" width="0.9" height="0.9" fill="#999"/>
<rect x="128.5" y="369.9" width="0.9" height="0.9" fill="#999"/>
<rect x="130.3" y="372.7" width="0.9" height="0.9" fill="#999"/>
<rect x="126.7" y="372.6" width="0.9" height="0.9" fill="#999"/>
<rect x="134.2" y="372.6" width="0.9" height="0.9" fill="#999"/>
<rect x="133.2" y="369.0" width="0.9" height="0.9" fill="#999"/>
<rect x="131.3" y="372.9" width="0.9" height="0.9" fill="#999"/>
<rect x="125.5" y="370.2" width="0.9" height="0.9" fill="#999"/>
<rect x="127.7" y="371.4" width="0.9" height="0.9" fill="#999"/>
<rect x="114.4" y="360.4" width="0.9" height="0.9" fill="#bbb"/>
<rect x="126.4" y="350.0" width="0.9" height="0.9" fill="#bbb"/>
<rect x="101.9" y="352.8" width="0.9" height="0.9" fill="#bbb"/>
<rect x="104.2" y="351.5" width="0.9" height="0.9" fill="#bbb"/>
<rect x="133.1" y="368.8" width="0.9" height="0.9" fill="#bbb"/>
<rect x="93.3" y="381.9" width="1" height="1" fill="#000"/>
<rect x="88.8" y="382.4" width="1" height="1" fill="#000"/>
<rect x="87.2" y="383.2" width="1" height="1" fill="#000"/>
<rect x="87.3" y="379.5" width="1" height="1" fill="#000"/>
<rect x="91.1" y="382.4" width="1" height="1" fill="#000"/>
<rect x="93.0" y="382.6" width="1" height="1" fill="#000"/>
<rect x="89.3" y="378.5" width="1" height="1" fill="#000"/>
<rect x="91.8" y="381.3" width="1" height="1" fill="#000"/>
<rect x="86.9" y="382.7" width="1" height="1" fill="#000"/>
<rect x="90.7" y="378.5" width="1" height="1" fill="#000"/>
<rect x="91.5" y="377.7" width="1" height="1" fill="#000"/>
<rect x="87.1" y="381.5" width="1" height="1" fill="#000"/>
<rect x="84.9" y="380.7" width="1" height="1" fill="#000"/>
<rect x="85.5" y="382.2" width="1" height="1" fill="#000"/>
<rect x="87.6" y="381.0" width="1" height="1" fill="#000"/>
<rect x="85.0" y="379.8" width="1" height="1" fill="#000"/>
<rect x="93.1" y="381.6" width="1" height="1" fill="#000"/>
<rect x="83.9" y="382.6" width="1" height="1" fill="#000"/>
<rect x="92.9" y="379.8" width="1" height="1" fill="#000"/>
<rect x="94.7" y="378.3" width="1" height="1" fill="#000"/>
<rect x="89.7" y="383.1" width="1" height="1" fill="#000"/>
<rect x="94.3" y="383.4" width="1" height="1" fill="#000"/>
<rect x="86.4" y="376.7" width="1" height="1" fill="#000"/>
<rect x="91.3" y="377.5" width="1" height="1" fill="#000"/>
<rect x="89.6" y="377.8" width="1" height="1" fill="#000"/>
<rect x="93.5" y="382.4" width="1" height="1" fill="#000"/>
<rect x="91.8" y="380.6" width="1" height="1" fill="#000"/>
<rect x="90.2" y="379.9" width="1" height="1" fill="#000"/>
<rect x="91.3" y="381.1" width="1" height="1" fill="#000"/>
<rect x="91.5" y="379.7" width="1" height="1" fill="#000"/>
<rect x="96.3" y="381.2" width="1" height="1" fill="#000"/>
<rect x="94.6" y="383.5" width="1" height="1" fill="#000"/>
<rect x="87.1" y="376.9" width="1" height="1" fill="#000"/>
<rect x="94.1" y="379.7" width="1" height="1" fill="#000"/>
<rect x="90.3" y="380.0" width="1" height="1" fill="#000"/>
<rect x="90.4" y="378.0" width="1" height="1" fill="#000"/>
<rect x="89.7" y="379.6" width="1" height="1" fill="#000"/>
<rect x="89.9" y="375.5" width="1" height="1" fill="#000"/>
<rect x="92.7" y="381.3" width="1" height="1" fill="#000"/>
<rect x="84.3" y="379.0" width="1" height="1" fill="#000"/>
<rect x="90.1" y="382.0" width="1" height="1" fill="#000"/>
<rect x="90.0" y="383.6" width="1" height="1" fill="#000"/>
<rect x="90.1" y="378.4" width="1" height="1" fill="#000"/>
<rect x="87.8" y="382.2" width="1" height="1" fill="#000"/>
<rect x="88.0" y="382.5" width="1" height="1" fill="#000"/>
<rect x="93.4" y="381.9" width="1" height="1" fill="#000"/>
<rect x="93.4" y="380.2" width="1" height="1" fill="#000"/>
<rect x="90.0" y="379.3" width="1" height="1" fill="#000"/>
<rect x="88.0" y="377.2" width="1" height="1" fill="#000"/>
<rect x="88.2" y="378.2" width="1" height="1" fill="#000"/>
<rect x="85.3" y="380.9" width="1" height="1" fill="#000"/>
<rect x="91.5" y="379.8" width="1" height="1" fill="#000"/>
<rect x="94.5" y="382.7" width="1" height="1" fill="#000"/>
<rect x="93.4" y="379.3" width="1" height="1" fill="#000"/>
<rect x="85.1" y="381.8" width="1" height="1" fill="#000"/>
<rect x="91.0" y="382.2" width="1" height="1" fill="#000"/>
<rect x="91.4" y="383.4" width="1" height="1" fill="#000"/>
<rect x="89.0" y="382.1" width="1" height="1" fill="#000"/>
<rect x="87.0" y="375.5" width="1" height="1" fill="#000"/>
<rect x="88.5" y="383.9" width="1" height="1" fill="#000"/>
<rect x="84.5" y="382.8" width="1" height="1" fill="#000"/>
<rect x="87.8" y="379.7" width="1" height="1" fill="#000"/>
<rect x="90.1" y="381.1" width="1" height="1" fill="#000"/>
<rect x="86.8" y="380.9" width="1" height="1" fill="#000"/>
<rect x="91.5" y="382.4" width="1" height="1" fill="#000"/>
<rect x="87.5" y="384.0" width="1" height="1" fill="#000"/>
<rect x="96.3" y="385.9" width="1" height="1" fill="#000"/>
<rect x="85.6" y="381.0" width="1" height="1" fill="#000"/>
<rect x="83.9" y="381.4" width="1" height="1" fill="#000"/>
<rect x="91.8" y="378.1" width="1" height="1" fill="#000"/>
<rect x="84.8" y="381.0" width="1" height="1" fill="#000"/>
<rect x="92.1" y="378.9" width="1" height="1" fill="#000"/>
<rect x="89.1" y="375.0" width="1" height="1" fill="#000"/>
<rect x="87.7" y="380.9" width="1" height="1" fill="#000"/>
<rect x="90.5" y="384.1" width="1" height="1" fill="#000"/>
<rect x="86.2" y="375.6" width="1" height="1" fill="#000"/>
<rect x="91.5" y="379.3" width="1" height="1" fill="#000"/>
<rect x="90.9" y="382.2" width="1" height="1" fill="#000"/>
<rect x="92.0" y="383.8" width="1" height="1" fill="#000"/>
<rect x="94.5" y="376.9" width="1" height="1" fill="#000"/>
<rect x="89.8" y="385.0" width="1" height="1" fill="#000"/>
<rect x="88.7" y="382.7" width="1" height="1" fill="#000"/>
<rect x="89.8" y="379.7" width="1" height="1" fill="#000"/>
<rect x="95.2" y="382.9" width="1" height="1" fill="#000"/>
<rect x="89.2" y="382.6" width="1" height="1" fill="#000"/>
<rect x="85.7" y="379.0" width="1" height="1" fill="#000"/>
<rect x="93.0" y="380.7" width="1" height="1" fill="#000"/>
<rect x="86.5" y="381.6" width="1" height="1" fill="#000"/>
<rect x="91.1" y="383.4" width="1" height="1" fill="#000"/>
<rect x="93.2" y="380.0" width="1" height="1" fill="#000"/>
<rect x="88.4" y="380.3" width="1" height="1" fill="#000"/>
<rect x="89.2" y="383.8" width="1" height="1" fill="#000"/>
<rect x="95.2" y="383.6" width="1" height="1" fill="#000"/>
<rect x="91.3" y="380.1" width="1" height="1" fill="#000"/>
<rect x="93.0" y="379.8" width="1" height="1" fill="#000"/>
<rect x="90.8" y="376.9" width="1" height="1" fill="#000"/>
<rect x="88.6" y="383.8" width="1" height="1" fill="#000"/>
<rect x="86.6" y="377.3" width="1" height="1" fill="#000"/>
<rect x="89.5" y="384.3" width="1" height="1" fill="#000"/>
<rect x="94.8" y="379.8" width="1" height="1" fill="#000"/>
<rect x="88.4" y="380.4" width="1" height="1" fill="#000"/>
<rect x="86.9" y="380.7" width="1" height="1" fill="#000"/>
<rect x="89.0" y="377.4" width="1" height="1" fill="#000"/>
<rect x="88.1" y="380.0" width="1" height="1" fill="#000"/>
<rect x="87.2" y="378.1" width="1" height="1" fill="#000"/>
<rect x="93.0" y="384.8" width="1" height="1" fill="#000"/>
<rect x="89.1" y="379.7" width="1" height="1" fill="#000"/>
<rect x="91.7" y="380.1" width="1" height="1" fill="#000"/>
<rect x="87.4" y="383.7" width="1" height="1" fill="#000"/>
<rect x="86.6" y="379.0" width="1" height="1" fill="#000"/>
<rect x="87.8" y="378.7" width="1" height="1" fill="#000"/>
<rect x="89.2" y="381.9" width="1" height="1" fill="#000"/>
<rect x="94.8" y="382.1" width="1" height="1" fill="#000"/>
<rect x="90.1" y="377.8" width="1" height="1" fill="#000"/>
<rect x="89.8" y="378.5" width="1" height="1" fill="#000"/>
<rect x="89.7" y="382.8" width="1" height="1" fill="#000"/>
<rect x="90.7" y="380.1" width="1" height="1" fill="#000"/>
<rect x="87.5" y="380.6" width="1" height="1" fill="#000"/>
<rect x="90.4" y="378.6" width="1" height="1" fill="#000"/>
<rect x="88.3" y="382.5" width="1" height="1" fill="#000"/>
<rect x="84.5" y="379.6" width="1" height="1" fill="#000"/>
<rect x="86.1" y="384.0" width="1" height="1" fill="#000"/>
<rect x="92.0" y="381.7" width="1" height="1" fill="#000"/>
<rect x="91.3" y="381.2" width="1" height="1" fill="#000"/>
<rect x="91.0" y="377.1" width="1" height="1" fill="#000"/>
<rect x="90.9" y="381.9" width="1" height="1" fill="#000"/>
<rect x="85.3" y="382.4" width="1" height="1" fill="#000"/>
<rect x="92.2" y="377.3" width="1" height="1" fill="#000"/>
<rect x="88.4" y="379.9" width="1" height="1" fill="#000"/>
<rect x="88.3" y="381.5" width="1" height="1" fill="#000"/>
<rect x="85.8" y="380.1" width="1" height="1" fill="#000"/>
<rect x="90.7" y="382.2" width="1" height="1" fill="#000"/>
<rect x="90.2" y="380.1" width="1" height="1" fill="#000"/>
<rect x="92.3" y="376.2" width="1" height="1" fill="#000"/>
<rect x="93.1" y="379.9" width="1" height="1" fill="#000"/>
<rect x="85.9" y="379.7" width="1" height="1" fill="#000"/>
<rect x="83.9" y="376.1" width="1" height="1" fill="#000"/>
<rect x="88.9" y="378.9" width="1" height="1" fill="#000"/>
<rect x="92.4" y="378.6" width="1" height="1" fill="#000"/>
<rect x="85.7" y="378.5" width="1" height="1" fill="#000"/>
<ellipse cx="90.2" cy="380.8" rx="4.8" ry="2.8" transform="rotate(-12 90.2 380.8)" fill="#000"/>
</g>
<rect x="81.3" y="346.2" width="56.60000000000001" height="37.80000000000001" fill="none" stroke="#555" stroke-width="0.8"/>
<line x1="81.3" y1="384" x2="137.9" y2="384" stroke="#111" stroke-width="1.3"/>
<line x1="81.3" y1="346.2" x2="81.3" y2="384" stroke="#222" stroke-width="1.1"/>
<line x1="99.4" y1="346.2" x2="99.4" y2="384" stroke="#000" stroke-width="1.5"/>
<line x1="80.8" y1="374.4" x2="137.9" y2="374.4" stroke="#000" stroke-width="1.5"/>
<line x1="81.3" y1="384" x2="81.3" y2="385.6" stroke="#222" stroke-width="0.8"/>
<line x1="79.7" y1="384.0" x2="81.3" y2="384.0" stroke="#222" stroke-width="0.8"/>
<line x1="95.45" y1="384" x2="95.45" y2="385.6" stroke="#222" stroke-width="0.8"/>
<line x1="79.7" y1="374.55" x2="81.3" y2="374.55" stroke="#222" stroke-width="0.8"/>
<line x1="109.6" y1="384" x2="109.6" y2="385.6" stroke="#222" stroke-width="0.8"/>
<line x1="79.7" y1="365.1" x2="81.3" y2="365.1" stroke="#222" stroke-width="0.8"/>
<line x1="123.75" y1="384" x2="123.75" y2="385.6" stroke="#222" stroke-width="0.8"/>
<line x1="79.7" y1="355.65" x2="81.3" y2="355.65" stroke="#222" stroke-width="0.8"/>
<line x1="137.9" y1="384" x2="137.9" y2="385.6" stroke="#222" stroke-width="0.8"/>
<line x1="79.7" y1="346.2" x2="81.3" y2="346.2" stroke="#222" stroke-width="0.8"/>
<line x1="85.55915" y1="384" x2="85.55915" y2="384.9" stroke="#444" stroke-width="0.5"/>
<line x1="80.39999999999999" y1="381.15555" x2="81.3" y2="381.15555" stroke="#444" stroke-width="0.5"/>
<line x1="88.04955" y1="384" x2="88.04955" y2="384.9" stroke="#444" stroke-width="0.5"/>
<line x1="80.39999999999999" y1="379.49235" x2="81.3" y2="379.49235" stroke="#444" stroke-width="0.5"/>
<line x1="89.8183" y1="384" x2="89.8183" y2="384.9" stroke="#444" stroke-width="0.5"/>
<line x1="80.39999999999999" y1="378.3111" x2="81.3" y2="378.3111" stroke="#444" stroke-width="0.5"/>
<line x1="91.19085" y1="384" x2="91.19085" y2="384.9" stroke="#444" stroke-width="0.5"/>
<line x1="80.39999999999999" y1="377.39445" x2="81.3" y2="377.39445" stroke="#444" stroke-width="0.5"/>
<line x1="92.3087" y1="384" x2="92.3087" y2="384.9" stroke="#444" stroke-width="0.5"/>
<line x1="80.39999999999999" y1="376.6479" x2="81.3" y2="376.6479" stroke="#444" stroke-width="0.5"/>
<line x1="93.25675" y1="384" x2="93.25675" y2="384.9" stroke="#444" stroke-width="0.5"/>
<line x1="80.39999999999999" y1="376.01475" x2="81.3" y2="376.01475" stroke="#444" stroke-width="0.5"/>
<line x1="94.07745" y1="384" x2="94.07745" y2="384.9" stroke="#444" stroke-width="0.5"/>
<line x1="80.39999999999999" y1="375.46665" x2="81.3" y2="375.46665" stroke="#444" stroke-width="0.5"/>
<line x1="94.7991" y1="384" x2="94.7991" y2="384.9" stroke="#444" stroke-width="0.5"/>
<line x1="80.39999999999999" y1="374.9847" x2="81.3" y2="374.9847" stroke="#444" stroke-width="0.5"/>
<line x1="99.70915" y1="384" x2="99.70915" y2="384.9" stroke="#444" stroke-width="0.5"/>
<line x1="80.39999999999999" y1="371.70555" x2="81.3" y2="371.70555" stroke="#444" stroke-width="0.5"/>
<line x1="102.19955" y1="384" x2="102.19955" y2="384.9" stroke="#444" stroke-width="0.5"/>
<line x1="80.39999999999999" y1="370.04235" x2="81.3" y2="370.04235" stroke="#444" stroke-width="0.5"/>
<line x1="103.9683" y1="384" x2="103.9683" y2="384.9" stroke="#444" stroke-width="0.5"/>
<line x1="80.39999999999999" y1="368.8611" x2="81.3" y2="368.8611" stroke="#444" stroke-width="0.5"/>
<line x1="105.34085" y1="384" x2="105.34085" y2="384.9" stroke="#444" stroke-width="0.5"/>
<line x1="80.39999999999999" y1="367.94445" x2="81.3" y2="367.94445" stroke="#444" stroke-width="0.5"/>
<line x1="106.4587" y1="384" x2="106.4587" y2="384.9" stroke="#444" stroke-width="0.5"/>
<line x1="80.39999999999999" y1="367.1979" x2="81.3" y2="367.1979" stroke="#444" stroke-width="0.5"/>
<line x1="107.40675" y1="384" x2="107.40675" y2="384.9" stroke="#444" stroke-width="0.5"/>
<line x1="80.39999999999999" y1="366.56475" x2="81.3" y2="366.56475" stroke="#444" stroke-width="0.5"/>
<line x1="108.22745" y1="384" x2="108.22745" y2="384.9" stroke="#444" stroke-width="0.5"/>
<line x1="80.39999999999999" y1="366.01664999999997" x2="81.3" y2="366.01664999999997" stroke="#444" stroke-width="0.5"/>
<line x1="108.9491" y1="384" x2="108.9491" y2="384.9" stroke="#444" stroke-width="0.5"/>
<line x1="80.39999999999999" y1="365.5347" x2="81.3" y2="365.5347" stroke="#444" stroke-width="0.5"/>
<line x1="113.85915" y1="384" x2="113.85915" y2="384.9" stroke="#444" stroke-width="0.5"/>
<line x1="80.39999999999999" y1="362.25554999999997" x2="81.3" y2="362.25554999999997" stroke="#444" stroke-width="0.5"/>
<line x1="116.34955" y1="384" x2="116.34955" y2="384.9" stroke="#444" stroke-width="0.5"/>
<line x1="80.39999999999999" y1="360.59235" x2="81.3" y2="360.59235" stroke="#444" stroke-width="0.5"/>
<line x1="118.1183" y1="384" x2="118.1183" y2="384.9" stroke="#444" stroke-width="0.5"/>
<line x1="80.39999999999999" y1="359.4111" x2="81.3" y2="359.4111" stroke="#444" stroke-width="0.5"/>
<line x1="119.49085" y1="384" x2="119.49085" y2="384.9" stroke="#444" stroke-width="0.5"/>
<line x1="80.39999999999999" y1="358.49445" x2="81.3" y2="358.49445" stroke="#444" stroke-width="0.5"/>
<line x1="120.6087" y1="384" x2="120.6087" y2="384.9" stroke="#444" stroke-width="0.5"/>
<line x1="80.39999999999999" y1="357.7479" x2="81.3" y2="357.7479" stroke="#444" stroke-width="0.5"/>
<line x1="121.55675" y1="384" x2="121.55675" y2="384.9" stroke="#444" stroke-width="0.5"/>
<line x1="80.39999999999999" y1="357.11475" x2="81.3" y2="357.11475" stroke="#444" stroke-width="0.5"/>
<line x1="122.37745000000001" y1="384" x2="122.37745000000001" y2="384.9" stroke="#444" stroke-width="0.5"/>
<line x1="80.39999999999999" y1="356.56665" x2="81.3" y2="356.56665" stroke="#444" stroke-width="0.5"/>
<line x1="123.09909999999999" y1="384" x2="123.09909999999999" y2="384.9" stroke="#444" stroke-width="0.5"/>
<line x1="80.39999999999999" y1="356.0847" x2="81.3" y2="356.0847" stroke="#444" stroke-width="0.5"/>
<line x1="128.00915" y1="384" x2="128.00915" y2="384.9" stroke="#444" stroke-width="0.5"/>
<line x1="80.39999999999999" y1="352.80555" x2="81.3" y2="352.80555" stroke="#444" stroke-width="0.5"/>
<line x1="130.49955" y1="384" x2="130.49955" y2="384.9" stroke="#444" stroke-width="0.5"/>
<line x1="80.39999999999999" y1="351.14234999999996" x2="81.3" y2="351.14234999999996" stroke="#444" stroke-width="0.5"/>
<line x1="132.2683" y1="384" x2="132.2683" y2="384.9" stroke="#444" stroke-width="0.5"/>
<line x1="80.39999999999999" y1="349.9611" x2="81.3" y2="349.9611" stroke="#444" stroke-width="0.5"/>
<line x1="133.64085" y1="384" x2="133.64085" y2="384.9" stroke="#444" stroke-width="0.5"/>
<line x1="80.39999999999999" y1="349.04445" x2="81.3" y2="349.04445" stroke="#444" stroke-width="0.5"/>
<line x1="134.7587" y1="384" x2="134.7587" y2="384.9" stroke="#444" stroke-width="0.5"/>
<line x1="80.39999999999999" y1="348.29789999999997" x2="81.3" y2="348.29789999999997" stroke="#444" stroke-width="0.5"/>
<line x1="135.70675" y1="384" x2="135.70675" y2="384.9" stroke="#444" stroke-width="0.5"/>
<line x1="80.39999999999999" y1="347.66474999999997" x2="81.3" y2="347.66474999999997" stroke="#444" stroke-width="0.5"/>
<line x1="136.52745000000002" y1="384" x2="136.52745000000002" y2="384.9" stroke="#444" stroke-width="0.5"/>
<line x1="80.39999999999999" y1="347.11665" x2="81.3" y2="347.11665" stroke="#444" stroke-width="0.5"/>
<line x1="137.2491" y1="384" x2="137.2491" y2="384.9" stroke="#444" stroke-width="0.5"/>
<line x1="80.39999999999999" y1="346.6347" x2="81.3" y2="346.6347" stroke="#444" stroke-width="0.5"/>
<text x="81.8" y="392.0" font-size="5.3" text-anchor="middle" stroke="none" fill="#3a3a3a">10<tspan font-size="3.71" dy="-2">0</tspan></text>
<text x="76.89999999999999" y="382.2" font-size="5.3" text-anchor="middle" stroke="none" fill="#3a3a3a" transform="rotate(-90 76.89999999999999 382.2)">10<tspan font-size="3.71" dy="-2">0</tspan></text>
<text x="95.95" y="392.0" font-size="5.3" text-anchor="middle" stroke="none" fill="#3a3a3a">10<tspan font-size="3.71" dy="-2">1</tspan></text>
<text x="76.89999999999999" y="372.75" font-size="5.3" text-anchor="middle" stroke="none" fill="#3a3a3a" transform="rotate(-90 76.89999999999999 372.75)">10<tspan font-size="3.71" dy="-2">1</tspan></text>
<text x="110.1" y="392.0" font-size="5.3" text-anchor="middle" stroke="none" fill="#3a3a3a">10<tspan font-size="3.71" dy="-2">2</tspan></text>
<text x="76.89999999999999" y="363.3" font-size="5.3" text-anchor="middle" stroke="none" fill="#3a3a3a" transform="rotate(-90 76.89999999999999 363.3)">10<tspan font-size="3.71" dy="-2">2</tspan></text>
<text x="124.25" y="392.0" font-size="5.3" text-anchor="middle" stroke="none" fill="#3a3a3a">10<tspan font-size="3.71" dy="-2">3</tspan></text>
<text x="76.89999999999999" y="353.84999999999997" font-size="5.3" text-anchor="middle" stroke="none" fill="#3a3a3a" transform="rotate(-90 76.89999999999999 353.84999999999997)">10<tspan font-size="3.71" dy="-2">3</tspan></text>
<text x="138.4" y="392.0" font-size="5.3" text-anchor="middle" stroke="none" fill="#3a3a3a">10<tspan font-size="3.71" dy="-2">4</tspan></text>
<text x="76.89999999999999" y="344.4" font-size="5.3" text-anchor="middle" stroke="none" fill="#3a3a3a" transform="rotate(-90 76.89999999999999 344.4)">10<tspan font-size="3.71" dy="-2">4</tspan></text>
<clipPath id="fc4"><rect x="163.2" y="346.2" width="55.10000000000002" height="37.80000000000001"/></clipPath><g clip-path="url(#fc4)">
<rect x="189.8" y="375.8" width="0.9" height="0.9" fill="#555"/>
<rect x="195.1" y="376.2" width="0.9" height="0.9" fill="#555"/>
<rect x="184.2" y="378.2" width="0.9" height="0.9" fill="#555"/>
<rect x="212.3" y="381.4" width="0.9" height="0.9" fill="#555"/>
<rect x="207.3" y="376.8" width="0.9" height="0.9" fill="#555"/>
<rect x="199.7" y="377.2" width="0.9" height="0.9" fill="#555"/>
<rect x="187.7" y="375.8" width="0.9" height="0.9" fill="#555"/>
<rect x="189.1" y="382.4" width="0.9" height="0.9" fill="#555"/>
<rect x="209.4" y="381.5" width="0.9" height="0.9" fill="#555"/>
<rect x="208.4" y="376.5" width="0.9" height="0.9" fill="#555"/>
<rect x="192.2" y="380.0" width="0.9" height="0.9" fill="#555"/>
<rect x="206.2" y="381.8" width="0.9" height="0.9" fill="#555"/>
<rect x="211.0" y="375.7" width="0.9" height="0.9" fill="#555"/>
<rect x="202.0" y="380.4" width="0.9" height="0.9" fill="#555"/>
<rect x="198.7" y="376.4" width="0.9" height="0.9" fill="#555"/>
<rect x="197.6" y="375.7" width="0.9" height="0.9" fill="#555"/>
<rect x="212.8" y="381.9" width="0.9" height="0.9" fill="#555"/>
<rect x="200.1" y="377.4" width="0.9" height="0.9" fill="#555"/>
<rect x="212.0" y="379.6" width="0.9" height="0.9" fill="#555"/>
<rect x="211.1" y="381.8" width="0.9" height="0.9" fill="#555"/>
<rect x="198.8" y="378.3" width="0.9" height="0.9" fill="#555"/>
<rect x="201.8" y="378.4" width="0.9" height="0.9" fill="#555"/>
<rect x="187.3" y="377.4" width="0.9" height="0.9" fill="#555"/>
<rect x="208.8" y="375.3" width="0.9" height="0.9" fill="#555"/>
<rect x="183.5" y="380.0" width="0.9" height="0.9" fill="#555"/>
<rect x="191.3" y="379.3" width="0.9" height="0.9" fill="#555"/>
<rect x="197.6" y="377.7" width="0.9" height="0.9" fill="#555"/>
<rect x="214.9" y="376.6" width="0.9" height="0.9" fill="#555"/>
<rect x="195.6" y="376.6" width="0.9" height="0.9" fill="#555"/>
<rect x="202.9" y="377.2" width="0.9" height="0.9" fill="#555"/>
<rect x="193.7" y="381.0" width="0.9" height="0.9" fill="#555"/>
<rect x="192.6" y="379.5" width="0.9" height="0.9" fill="#555"/>
<rect x="211.8" y="375.8" width="0.9" height="0.9" fill="#555"/>
<rect x="184.0" y="376.8" width="0.9" height="0.9" fill="#555"/>
<rect x="207.3" y="379.9" width="0.9" height="0.9" fill="#555"/>
<rect x="189.8" y="377.6" width="0.9" height="0.9" fill="#555"/>
<rect x="187.9" y="378.7" width="0.9" height="0.9" fill="#555"/>
<rect x="183.4" y="380.6" width="0.9" height="0.9" fill="#555"/>
<rect x="211.6" y="382.6" width="0.9" height="0.9" fill="#555"/>
<rect x="206.3" y="382.7" width="0.9" height="0.9" fill="#555"/>
<rect x="182.6" y="377.3" width="0.9" height="0.9" fill="#555"/>
<rect x="213.9" y="381.2" width="0.9" height="0.9" fill="#555"/>
<rect x="195.5" y="382.5" width="0.9" height="0.9" fill="#555"/>
<rect x="202.5" y="381.5" width="0.9" height="0.9" fill="#555"/>
<rect x="191.7" y="376.5" width="0.9" height="0.9" fill="#555"/>
<rect x="196.7" y="376.1" width="0.9" height="0.9" fill="#555"/>
<rect x="194.6" y="382.7" width="0.9" height="0.9" fill="#555"/>
<rect x="192.9" y="375.1" width="0.9" height="0.9" fill="#555"/>
<rect x="183.5" y="376.4" width="0.9" height="0.9" fill="#555"/>
<rect x="207.9" y="377.9" width="0.9" height="0.9" fill="#555"/>
<rect x="191.6" y="375.8" width="0.9" height="0.9" fill="#555"/>
<rect x="214.4" y="378.4" width="0.9" height="0.9" fill="#555"/>
<rect x="188.9" y="375.5" width="0.9" height="0.9" fill="#555"/>
<rect x="183.8" y="376.3" width="0.9" height="0.9" fill="#555"/>
<rect x="204.3" y="376.2" width="0.9" height="0.9" fill="#555"/>
<rect x="183.3" y="378.9" width="0.9" height="0.9" fill="#555"/>
<rect x="190.2" y="383.0" width="0.9" height="0.9" fill="#555"/>
<rect x="186.0" y="379.2" width="0.9" height="0.9" fill="#555"/>
<rect x="207.5" y="378.3" width="0.9" height="0.9" fill="#555"/>
<rect x="214.6" y="378.8" width="0.9" height="0.9" fill="#555"/>
<rect x="202.4" y="369.8" width="0.9" height="0.9" fill="#999"/>
<rect x="198.7" y="369.9" width="0.9" height="0.9" fill="#999"/>
<rect x="202.5" y="372.0" width="0.9" height="0.9" fill="#999"/>
<rect x="213.0" y="370.2" width="0.9" height="0.9" fill="#999"/>
<rect x="198.6" y="369.1" width="0.9" height="0.9" fill="#999"/>
<rect x="202.4" y="368.9" width="0.9" height="0.9" fill="#999"/>
<rect x="202.2" y="371.9" width="0.9" height="0.9" fill="#999"/>
<rect x="200.6" y="368.2" width="0.9" height="0.9" fill="#999"/>
<rect x="214.7" y="370.5" width="0.9" height="0.9" fill="#999"/>
<rect x="215.8" y="369.8" width="0.9" height="0.9" fill="#999"/>
<rect x="214.2" y="370.9" width="0.9" height="0.9" fill="#999"/>
<rect x="212.2" y="371.4" width="0.9" height="0.9" fill="#999"/>
<rect x="199.8" y="351.4" width="0.9" height="0.9" fill="#bbb"/>
<rect x="191.3" y="363.1" width="0.9" height="0.9" fill="#bbb"/>
<rect x="212.0" y="363.9" width="0.9" height="0.9" fill="#bbb"/>
<rect x="168.6" y="381.8" width="1" height="1" fill="#000"/>
<rect x="172.4" y="376.0" width="1" height="1" fill="#000"/>
<rect x="172.6" y="376.5" width="1" height="1" fill="#000"/>
<rect x="168.3" y="376.2" width="1" height="1" fill="#000"/>
<rect x="170.2" y="383.9" width="1" height="1" fill="#000"/>
<rect x="172.2" y="378.8" width="1" height="1" fill="#000"/>
<rect x="179.0" y="378.0" width="1" height="1" fill="#000"/>
<rect x="170.5" y="378.4" width="1" height="1" fill="#000"/>
<rect x="172.3" y="378.3" width="1" height="1" fill="#000"/>
<rect x="175.7" y="378.4" width="1" height="1" fill="#000"/>
<rect x="172.8" y="379.5" width="1" height="1" fill="#000"/>
<rect x="168.3" y="376.9" width="1" height="1" fill="#000"/>
<rect x="170.8" y="374.0" width="1" height="1" fill="#000"/>
<rect x="171.1" y="379.2" width="1" height="1" fill="#000"/>
<rect x="171.5" y="378.8" width="1" height="1" fill="#000"/>
<rect x="172.1" y="378.2" width="1" height="1" fill="#000"/>
<rect x="173.1" y="375.4" width="1" height="1" fill="#000"/>
<rect x="173.9" y="377.1" width="1" height="1" fill="#000"/>
<rect x="172.6" y="378.0" width="1" height="1" fill="#000"/>
<rect x="169.6" y="377.3" width="1" height="1" fill="#000"/>
<rect x="175.3" y="376.6" width="1" height="1" fill="#000"/>
<rect x="167.2" y="379.5" width="1" height="1" fill="#000"/>
<rect x="171.8" y="379.1" width="1" height="1" fill="#000"/>
<rect x="167.9" y="377.6" width="1" height="1" fill="#000"/>
<rect x="173.9" y="376.7" width="1" height="1" fill="#000"/>
<rect x="173.0" y="380.6" width="1" height="1" fill="#000"/>
<rect x="171.4" y="376.3" width="1" height="1" fill="#000"/>
<rect x="177.1" y="379.3" width="1" height="1" fill="#000"/>
<rect x="171.6" y="378.2" width="1" height="1" fill="#000"/>
<rect x="168.0" y="378.4" width="1" height="1" fill="#000"/>
<rect x="171.6" y="377.2" width="1" height="1" fill="#000"/>
<rect x="171.4" y="381.5" width="1" height="1" fill="#000"/>
<rect x="172.4" y="378.8" width="1" height="1" fill="#000"/>
<rect x="174.4" y="381.0" width="1" height="1" fill="#000"/>
<rect x="173.9" y="377.3" width="1" height="1" fill="#000"/>
<rect x="165.2" y="380.8" width="1" height="1" fill="#000"/>
<rect x="171.2" y="378.2" width="1" height="1" fill="#000"/>
<rect x="172.6" y="378.0" width="1" height="1" fill="#000"/>
<rect x="169.0" y="383.0" width="1" height="1" fill="#000"/>
<rect x="165.9" y="380.8" width="1" height="1" fill="#000"/>
<rect x="174.2" y="382.9" width="1" height="1" fill="#000"/>
<rect x="171.8" y="380.1" width="1" height="1" fill="#000"/>
<rect x="168.1" y="379.1" width="1" height="1" fill="#000"/>
<rect x="164.3" y="377.8" width="1" height="1" fill="#000"/>
<rect x="170.9" y="378.8" width="1" height="1" fill="#000"/>
<rect x="169.5" y="381.6" width="1" height="1" fill="#000"/>
<rect x="165.9" y="379.3" width="1" height="1" fill="#000"/>
<rect x="169.7" y="379.1" width="1" height="1" fill="#000"/>
<rect x="171.2" y="383.3" width="1" height="1" fill="#000"/>
<rect x="167.6" y="381.9" width="1" height="1" fill="#000"/>
<rect x="175.5" y="378.7" width="1" height="1" fill="#000"/>
<rect x="169.1" y="376.3" width="1" height="1" fill="#000"/>
<rect x="168.3" y="383.5" width="1" height="1" fill="#000"/>
<rect x="164.1" y="380.0" width="1" height="1" fill="#000"/>
<rect x="168.8" y="383.2" width="1" height="1" fill="#000"/>
<rect x="172.0" y="376.0" width="1" height="1" fill="#000"/>
<rect x="169.4" y="379.4" width="1" height="1" fill="#000"/>
<rect x="171.4" y="376.9" width="1" height="1" fill="#000"/>
<rect x="170.1" y="378.0" width="1" height="1" fill="#000"/>
<rect x="172.5" y="379.6" width="1" height="1" fill="#000"/>
<rect x="171.7" y="377.7" width="1" height="1" fill="#000"/>
<rect x="173.5" y="377.8" width="1" height="1" fill="#000"/>
<rect x="168.4" y="378.1" width="1" height="1" fill="#000"/>
<rect x="170.0" y="378.3" width="1" height="1" fill="#000"/>
<rect x="164.9" y="382.0" width="1" height="1" fill="#000"/>
<rect x="173.0" y="381.9" width="1" height="1" fill="#000"/>
<rect x="169.7" y="380.6" width="1" height="1" fill="#000"/>
<rect x="171.6" y="379.1" width="1" height="1" fill="#000"/>
<rect x="176.7" y="377.7" width="1" height="1" fill="#000"/>
<rect x="172.8" y="375.2" width="1" height="1" fill="#000"/>
<rect x="172.8" y="378.6" width="1" height="1" fill="#000"/>
<rect x="167.8" y="377.7" width="1" height="1" fill="#000"/>
<rect x="164.3" y="376.7" width="1" height="1" fill="#000"/>
<rect x="171.5" y="373.2" width="1" height="1" fill="#000"/>
<rect x="174.5" y="381.1" width="1" height="1" fill="#000"/>
<rect x="168.6" y="375.8" width="1" height="1" fill="#000"/>
<rect x="166.5" y="376.2" width="1" height="1" fill="#000"/>
<rect x="168.6" y="383.8" width="1" height="1" fill="#000"/>
<rect x="167.4" y="380.7" width="1" height="1" fill="#000"/>
<rect x="175.0" y="376.9" width="1" height="1" fill="#000"/>
<rect x="170.2" y="380.5" width="1" height="1" fill="#000"/>
<rect x="168.9" y="381.7" width="1" height="1" fill="#000"/>
<rect x="177.9" y="378.9" width="1" height="1" fill="#000"/>
<rect x="168.4" y="380.3" width="1" height="1" fill="#000"/>
<rect x="172.1" y="377.4" width="1" height="1" fill="#000"/>
<rect x="170.6" y="379.2" width="1" height="1" fill="#000"/>
<rect x="172.6" y="381.5" width="1" height="1" fill="#000"/>
<rect x="169.5" y="376.2" width="1" height="1" fill="#000"/>
<rect x="165.8" y="383.1" width="1" height="1" fill="#000"/>
<rect x="169.7" y="378.1" width="1" height="1" fill="#000"/>
<rect x="178.9" y="381.5" width="1" height="1" fill="#000"/>
<rect x="178.2" y="378.6" width="1" height="1" fill="#000"/>
<rect x="168.8" y="377.8" width="1" height="1" fill="#000"/>
<rect x="173.1" y="379.9" width="1" height="1" fill="#000"/>
<rect x="172.3" y="384.0" width="1" height="1" fill="#000"/>
<rect x="175.3" y="376.6" width="1" height="1" fill="#000"/>
<rect x="172.4" y="380.3" width="1" height="1" fill="#000"/>
<rect x="168.6" y="384.1" width="1" height="1" fill="#000"/>
<rect x="173.9" y="382.3" width="1" height="1" fill="#000"/>
<rect x="169.3" y="376.5" width="1" height="1" fill="#000"/>
<rect x="173.4" y="378.6" width="1" height="1" fill="#000"/>
<rect x="169.1" y="378.8" width="1" height="1" fill="#000"/>
<rect x="171.7" y="379.3" width="1" height="1" fill="#000"/>
<rect x="170.3" y="380.0" width="1" height="1" fill="#000"/>
<rect x="180.3" y="381.6" width="1" height="1" fill="#000"/>
<rect x="169.4" y="383.5" width="1" height="1" fill="#000"/>
<rect x="169.5" y="375.6" width="1" height="1" fill="#000"/>
<rect x="166.6" y="374.5" width="1" height="1" fill="#000"/>
<rect x="174.7" y="376.6" width="1" height="1" fill="#000"/>
<rect x="166.4" y="377.8" width="1" height="1" fill="#000"/>
<rect x="190.3" y="371.5" width="1" height="1" fill="#111"/>
<rect x="189.0" y="375.5" width="1" height="1" fill="#111"/>
<rect x="193.2" y="372.4" width="1" height="1" fill="#111"/>
<rect x="192.9" y="376.3" width="1" height="1" fill="#111"/>
<rect x="192.9" y="373.8" width="1" height="1" fill="#111"/>
<rect x="186.9" y="378.6" width="1" height="1" fill="#111"/>
<rect x="193.0" y="373.3" width="1" height="1" fill="#111"/>
<rect x="188.2" y="377.7" width="1" height="1" fill="#111"/>
<rect x="198.0" y="376.6" width="1" height="1" fill="#111"/>
<rect x="199.8" y="376.5" width="1" height="1" fill="#111"/>
<rect x="192.2" y="377.0" width="1" height="1" fill="#111"/>
<rect x="194.8" y="370.6" width="1" height="1" fill="#111"/>
<rect x="191.5" y="379.5" width="1" height="1" fill="#111"/>
<rect x="185.5" y="376.2" width="1" height="1" fill="#111"/>
<rect x="193.6" y="381.0" width="1" height="1" fill="#111"/>
<rect x="196.5" y="375.4" width="1" height="1" fill="#111"/>
<rect x="198.2" y="371.9" width="1" height="1" fill="#111"/>
<rect x="186.1" y="379.8" width="1" height="1" fill="#111"/>
<rect x="193.3" y="371.8" width="1" height="1" fill="#111"/>
<rect x="194.8" y="378.3" width="1" height="1" fill="#111"/>
<rect x="193.5" y="374.1" width="1" height="1" fill="#111"/>
<rect x="186.5" y="370.1" width="1" height="1" fill="#111"/>
<rect x="190.2" y="375.0" width="1" height="1" fill="#111"/>
<rect x="189.2" y="373.7" width="1" height="1" fill="#111"/>
<rect x="194.2" y="371.8" width="1" height="1" fill="#111"/>
<rect x="188.4" y="381.9" width="1" height="1" fill="#111"/>
<rect x="188.7" y="373.4" width="1" height="1" fill="#111"/>
<rect x="194.7" y="369.7" width="1" height="1" fill="#111"/>
<rect x="196.7" y="371.4" width="1" height="1" fill="#111"/>
<rect x="188.0" y="371.3" width="1" height="1" fill="#111"/>
<rect x="187.6" y="373.1" width="1" height="1" fill="#111"/>
<rect x="194.3" y="375.3" width="1" height="1" fill="#111"/>
<rect x="195.8" y="378.0" width="1" height="1" fill="#111"/>
<rect x="186.6" y="375.5" width="1" height="1" fill="#111"/>
<rect x="188.8" y="374.1" width="1" height="1" fill="#111"/>
<rect x="191.4" y="376.7" width="1" height="1" fill="#111"/>
<rect x="192.5" y="368.6" width="1" height="1" fill="#111"/>
<rect x="190.4" y="374.0" width="1" height="1" fill="#111"/>
<rect x="197.5" y="374.7" width="1" height="1" fill="#111"/>
<rect x="190.9" y="375.5" width="1" height="1" fill="#111"/>
<rect x="193.7" y="371.8" width="1" height="1" fill="#111"/>
<rect x="190.5" y="375.1" width="1" height="1" fill="#111"/>
<rect x="190.9" y="374.7" width="1" height="1" fill="#111"/>
<rect x="189.1" y="375.7" width="1" height="1" fill="#111"/>
<rect x="186.3" y="380.7" width="1" height="1" fill="#111"/>
<rect x="190.9" y="369.6" width="1" height="1" fill="#111"/>
<rect x="190.0" y="378.5" width="1" height="1" fill="#111"/>
<rect x="190.3" y="375.0" width="1" height="1" fill="#111"/>
<rect x="182.9" y="380.0" width="1" height="1" fill="#111"/>
<rect x="191.2" y="369.1" width="1" height="1" fill="#111"/>
<rect x="189.4" y="380.2" width="1" height="1" fill="#111"/>
<rect x="192.3" y="370.7" width="1" height="1" fill="#111"/>
<rect x="189.0" y="376.3" width="1" height="1" fill="#111"/>
<rect x="198.3" y="376.3" width="1" height="1" fill="#111"/>
<rect x="193.6" y="374.4" width="1" height="1" fill="#111"/>
<rect x="191.1" y="372.2" width="1" height="1" fill="#111"/>
<rect x="186.3" y="371.1" width="1" height="1" fill="#111"/>
<rect x="188.9" y="379.5" width="1" height="1" fill="#111"/>
<rect x="190.8" y="379.3" width="1" height="1" fill="#111"/>
<rect x="193.7" y="376.0" width="1" height="1" fill="#111"/>
<rect x="189.2" y="382.4" width="1" height="1" fill="#111"/>
<rect x="195.0" y="379.5" width="1" height="1" fill="#111"/>
<rect x="199.8" y="380.4" width="1" height="1" fill="#111"/>
<rect x="191.8" y="376.7" width="1" height="1" fill="#111"/>
<rect x="192.9" y="382.7" width="1" height="1" fill="#111"/>
<rect x="187.4" y="369.6" width="1" height="1" fill="#111"/>
<rect x="189.3" y="375.5" width="1" height="1" fill="#111"/>
<rect x="188.9" y="378.5" width="1" height="1" fill="#111"/>
<rect x="193.1" y="375.4" width="1" height="1" fill="#111"/>
<rect x="191.2" y="381.7" width="1" height="1" fill="#111"/>
<rect x="198.0" y="381.1" width="1" height="1" fill="#111"/>
<rect x="189.7" y="379.5" width="1" height="1" fill="#111"/>
<rect x="186.9" y="369.6" width="1" height="1" fill="#111"/>
<rect x="197.0" y="378.3" width="1" height="1" fill="#111"/>
<rect x="193.4" y="380.1" width="1" height="1" fill="#111"/>
<rect x="196.9" y="376.4" width="1" height="1" fill="#111"/>
<rect x="192.0" y="377.5" width="1" height="1" fill="#111"/>
<rect x="194.0" y="376.1" width="1" height="1" fill="#111"/>
<rect x="186.3" y="383.6" width="1" height="1" fill="#111"/>
<rect x="188.4" y="373.6" width="1" height="1" fill="#111"/>
<rect x="193.1" y="375.4" width="1" height="1" fill="#111"/>
<rect x="192.9" y="383.3" width="1" height="1" fill="#111"/>
<rect x="196.1" y="374.0" width="1" height="1" fill="#111"/>
<rect x="192.2" y="375.4" width="1" height="1" fill="#111"/>
<rect x="195.5" y="372.7" width="1" height="1" fill="#111"/>
<rect x="187.7" y="370.1" width="1" height="1" fill="#111"/>
<rect x="192.9" y="376.8" width="1" height="1" fill="#111"/>
<rect x="193.6" y="378.3" width="1" height="1" fill="#111"/>
<rect x="186.8" y="374.4" width="1" height="1" fill="#111"/>
<rect x="187.3" y="379.5" width="1" height="1" fill="#111"/>
<rect x="194.1" y="370.9" width="1" height="1" fill="#111"/>
<rect x="193.0" y="375.9" width="1" height="1" fill="#111"/>
<rect x="191.5" y="377.8" width="1" height="1" fill="#111"/>
<rect x="188.9" y="374.6" width="1" height="1" fill="#111"/>
<rect x="188.7" y="373.4" width="1" height="1" fill="#111"/>
<rect x="187.4" y="379.3" width="1" height="1" fill="#111"/>
<rect x="193.1" y="374.8" width="1" height="1" fill="#111"/>
<rect x="185.3" y="382.9" width="1" height="1" fill="#111"/>
<rect x="191.2" y="376.2" width="1" height="1" fill="#111"/>
<rect x="193.4" y="381.1" width="1" height="1" fill="#111"/>
<rect x="190.0" y="368.0" width="1" height="1" fill="#111"/>
<rect x="190.0" y="375.5" width="1" height="1" fill="#111"/>
<rect x="189.1" y="380.3" width="1" height="1" fill="#111"/>
<rect x="189.5" y="376.6" width="1" height="1" fill="#111"/>
<rect x="188.2" y="378.0" width="1" height="1" fill="#111"/>
<rect x="188.6" y="378.2" width="1" height="1" fill="#111"/>
<rect x="191.6" y="376.1" width="1" height="1" fill="#111"/>
<rect x="192.2" y="370.4" width="1" height="1" fill="#111"/>
<rect x="189.5" y="376.3" width="1" height="1" fill="#111"/>
<rect x="189.7" y="379.4" width="1" height="1" fill="#111"/>
<rect x="194.2" y="373.2" width="1" height="1" fill="#111"/>
<rect x="195.2" y="374.9" width="1" height="1" fill="#111"/>
<rect x="193.0" y="379.5" width="1" height="1" fill="#111"/>
<rect x="187.2" y="373.0" width="1" height="1" fill="#111"/>
<rect x="190.9" y="374.8" width="1" height="1" fill="#111"/>
<rect x="185.2" y="377.7" width="1" height="1" fill="#111"/>
<rect x="191.7" y="376.2" width="1" height="1" fill="#111"/>
<rect x="192.2" y="377.9" width="1" height="1" fill="#111"/>
<rect x="188.2" y="376.6" width="1" height="1" fill="#111"/>
<rect x="189.6" y="374.0" width="1" height="1" fill="#111"/>
<rect x="188.0" y="379.5" width="1" height="1" fill="#111"/>
<rect x="182.5" y="373.3" width="1" height="1" fill="#111"/>
<rect x="193.5" y="374.5" width="1" height="1" fill="#111"/>
<rect x="188.8" y="378.9" width="1" height="1" fill="#111"/>
<rect x="187.8" y="374.7" width="1" height="1" fill="#111"/>
<rect x="192.5" y="373.9" width="1" height="1" fill="#111"/>
<rect x="189.3" y="375.8" width="1" height="1" fill="#111"/>
<rect x="194.5" y="372.6" width="1" height="1" fill="#111"/>
<rect x="192.9" y="375.4" width="1" height="1" fill="#111"/>
<rect x="189.9" y="371.3" width="1" height="1" fill="#111"/>
<rect x="197.1" y="377.4" width="1" height="1" fill="#111"/>
<rect x="192.0" y="374.6" width="1" height="1" fill="#111"/>
<rect x="196.7" y="373.5" width="1" height="1" fill="#111"/>
<rect x="187.5" y="373.1" width="1" height="1" fill="#111"/>
<rect x="190.9" y="376.6" width="1" height="1" fill="#111"/>
<rect x="184.1" y="376.5" width="1" height="1" fill="#111"/>
<rect x="192.0" y="379.0" width="1" height="1" fill="#111"/>
<rect x="189.9" y="380.3" width="1" height="1" fill="#111"/>
<rect x="198.1" y="373.8" width="1" height="1" fill="#111"/>
<rect x="190.1" y="378.7" width="1" height="1" fill="#111"/>
<rect x="195.3" y="375.6" width="1" height="1" fill="#111"/>
<rect x="195.1" y="370.6" width="1" height="1" fill="#111"/>
<rect x="194.4" y="377.0" width="1" height="1" fill="#111"/>
<rect x="194.2" y="377.1" width="1" height="1" fill="#111"/>
<rect x="193.4" y="374.1" width="1" height="1" fill="#111"/>
<rect x="195.9" y="368.9" width="1" height="1" fill="#111"/>
<rect x="192.0" y="373.5" width="1" height="1" fill="#111"/>
<rect x="197.9" y="371.9" width="1" height="1" fill="#111"/>
<rect x="191.5" y="375.5" width="1" height="1" fill="#111"/>
<rect x="193.9" y="375.6" width="1" height="1" fill="#111"/>
<rect x="184.7" y="374.9" width="1" height="1" fill="#222"/>
<rect x="198.2" y="375.9" width="1" height="1" fill="#222"/>
<rect x="186.8" y="373.5" width="1" height="1" fill="#222"/>
<rect x="183.4" y="374.9" width="1" height="1" fill="#222"/>
<rect x="190.2" y="374.6" width="1" height="1" fill="#222"/>
<rect x="188.0" y="375.3" width="1" height="1" fill="#222"/>
<rect x="199.1" y="376.2" width="1" height="1" fill="#222"/>
<rect x="188.5" y="376.0" width="1" height="1" fill="#222"/>
<rect x="189.6" y="376.6" width="1" height="1" fill="#222"/>
<rect x="197.3" y="376.2" width="1" height="1" fill="#222"/>
<rect x="204.5" y="376.3" width="1" height="1" fill="#222"/>
<rect x="196.7" y="376.7" width="1" height="1" fill="#222"/>
<rect x="184.9" y="374.6" width="1" height="1" fill="#222"/>
<rect x="189.1" y="376.1" width="1" height="1" fill="#222"/>
<rect x="191.4" y="373.5" width="1" height="1" fill="#222"/>
<rect x="186.6" y="374.8" width="1" height="1" fill="#222"/>
<rect x="188.4" y="374.5" width="1" height="1" fill="#222"/>
<rect x="182.3" y="375.2" width="1" height="1" fill="#222"/>
<rect x="183.4" y="374.6" width="1" height="1" fill="#222"/>
<rect x="187.4" y="374.7" width="1" height="1" fill="#222"/>
<rect x="199.8" y="374.5" width="1" height="1" fill="#222"/>
<rect x="188.7" y="372.0" width="1" height="1" fill="#222"/>
<rect x="185.8" y="375.3" width="1" height="1" fill="#222"/>
<rect x="189.3" y="376.0" width="1" height="1" fill="#222"/>
<rect x="189.4" y="376.0" width="1" height="1" fill="#222"/>
<rect x="192.8" y="376.3" width="1" height="1" fill="#222"/>
<rect x="189.5" y="376.1" width="1" height="1" fill="#222"/>
<rect x="188.3" y="374.1" width="1" height="1" fill="#222"/>
<rect x="198.0" y="373.4" width="1" height="1" fill="#222"/>
<rect x="185.6" y="377.0" width="1" height="1" fill="#222"/>
<rect x="192.2" y="375.5" width="1" height="1" fill="#222"/>
<rect x="192.6" y="375.0" width="1" height="1" fill="#222"/>
<rect x="203.0" y="375.1" width="1" height="1" fill="#222"/>
<rect x="199.8" y="375.0" width="1" height="1" fill="#222"/>
<rect x="187.0" y="374.7" width="1" height="1" fill="#222"/>
<rect x="191.4" y="378.1" width="1" height="1" fill="#222"/>
<rect x="187.5" y="375.6" width="1" height="1" fill="#222"/>
<rect x="181.9" y="375.7" width="1" height="1" fill="#222"/>
<rect x="190.3" y="375.5" width="1" height="1" fill="#222"/>
<rect x="191.7" y="374.5" width="1" height="1" fill="#222"/>
<rect x="202.4" y="372.1" width="1" height="1" fill="#333"/>
<rect x="206.3" y="371.9" width="1" height="1" fill="#333"/>
<rect x="201.6" y="369.7" width="1" height="1" fill="#333"/>
<rect x="205.6" y="371.7" width="1" height="1" fill="#333"/>
<rect x="198.5" y="374.2" width="1" height="1" fill="#333"/>
<rect x="205.8" y="372.0" width="1" height="1" fill="#333"/>
<rect x="202.3" y="369.7" width="1" height="1" fill="#333"/>
<rect x="192.6" y="372.3" width="1" height="1" fill="#333"/>
<rect x="196.1" y="373.2" width="1" height="1" fill="#333"/>
<rect x="200.7" y="372.5" width="1" height="1" fill="#333"/>
<rect x="199.9" y="372.8" width="1" height="1" fill="#333"/>
<rect x="205.2" y="372.3" width="1" height="1" fill="#333"/>
<rect x="205.1" y="373.4" width="1" height="1" fill="#333"/>
<rect x="201.5" y="369.0" width="1" height="1" fill="#333"/>
<rect x="204.6" y="370.9" width="1" height="1" fill="#333"/>
<rect x="197.9" y="368.7" width="1" height="1" fill="#333"/>
<rect x="195.0" y="374.4" width="1" height="1" fill="#333"/>
<rect x="209.2" y="374.4" width="1" height="1" fill="#333"/>
<rect x="210.2" y="368.6" width="1" height="1" fill="#333"/>
<rect x="205.1" y="369.5" width="1" height="1" fill="#333"/>
<rect x="196.2" y="373.1" width="1" height="1" fill="#333"/>
<rect x="205.8" y="370.4" width="1" height="1" fill="#333"/>
<rect x="195.4" y="369.2" width="1" height="1" fill="#333"/>
<rect x="201.2" y="373.6" width="1" height="1" fill="#333"/>
<rect x="210.0" y="372.8" width="1" height="1" fill="#333"/>
<rect x="197.9" y="370.0" width="1" height="1" fill="#333"/>
<rect x="202.2" y="373.1" width="1" height="1" fill="#333"/>
<rect x="193.9" y="372.5" width="1" height="1" fill="#333"/>
<rect x="199.4" y="373.5" width="1" height="1" fill="#333"/>
<rect x="195.3" y="373.7" width="1" height="1" fill="#333"/>
<rect x="207.7" y="374.5" width="1" height="1" fill="#333"/>
<rect x="208.2" y="372.2" width="1" height="1" fill="#333"/>
<rect x="202.4" y="370.0" width="1" height="1" fill="#333"/>
<rect x="201.8" y="370.5" width="1" height="1" fill="#333"/>
<rect x="204.4" y="373.3" width="1" height="1" fill="#333"/>
<rect x="201.4" y="374.8" width="1" height="1" fill="#333"/>
<rect x="196.6" y="371.0" width="1" height="1" fill="#333"/>
<rect x="208.8" y="371.5" width="1" height="1" fill="#333"/>
<rect x="204.7" y="367.4" width="1" height="1" fill="#333"/>
<rect x="207.9" y="370.7" width="1" height="1" fill="#333"/>
<ellipse cx="171.3" cy="379" rx="5" ry="2.6" transform="rotate(-28 171.3 379)" fill="#000"/>
<ellipse cx="191" cy="375" rx="3.5" ry="2.6" transform="rotate(-10 191 375)" fill="#000"/>
</g>
<rect x="163.2" y="346.2" width="55.10000000000002" height="37.80000000000001" fill="none" stroke="#555" stroke-width="0.8"/>
<line x1="163.2" y1="384" x2="218.3" y2="384" stroke="#111" stroke-width="1.3"/>
<line x1="163.2" y1="346.2" x2="163.2" y2="384" stroke="#222" stroke-width="1.1"/>
<line x1="180.8" y1="346.2" x2="180.8" y2="384" stroke="#000" stroke-width="1.5"/>
<line x1="162.7" y1="373.8" x2="218.3" y2="373.8" stroke="#000" stroke-width="1.5"/>
<line x1="163.2" y1="384" x2="163.2" y2="385.6" stroke="#222" stroke-width="0.8"/>
<line x1="161.6" y1="384.0" x2="163.2" y2="384.0" stroke="#222" stroke-width="0.8"/>
<line x1="176.975" y1="384" x2="176.975" y2="385.6" stroke="#222" stroke-width="0.8"/>
<line x1="161.6" y1="374.55" x2="163.2" y2="374.55" stroke="#222" stroke-width="0.8"/>
<line x1="190.75" y1="384" x2="190.75" y2="385.6" stroke="#222" stroke-width="0.8"/>
<line x1="161.6" y1="365.1" x2="163.2" y2="365.1" stroke="#222" stroke-width="0.8"/>
<line x1="204.525" y1="384" x2="204.525" y2="385.6" stroke="#222" stroke-width="0.8"/>
<line x1="161.6" y1="355.65" x2="163.2" y2="355.65" stroke="#222" stroke-width="0.8"/>
<line x1="218.3" y1="384" x2="218.3" y2="385.6" stroke="#222" stroke-width="0.8"/>
<line x1="161.6" y1="346.2" x2="163.2" y2="346.2" stroke="#222" stroke-width="0.8"/>
<line x1="167.346275" y1="384" x2="167.346275" y2="384.9" stroke="#444" stroke-width="0.5"/>
<line x1="162.29999999999998" y1="381.15555" x2="163.2" y2="381.15555" stroke="#444" stroke-width="0.5"/>
<line x1="169.77067499999998" y1="384" x2="169.77067499999998" y2="384.9" stroke="#444" stroke-width="0.5"/>
<line x1="162.29999999999998" y1="379.49235" x2="163.2" y2="379.49235" stroke="#444" stroke-width="0.5"/>
<line x1="171.49255" y1="384" x2="171.49255" y2="384.9" stroke="#444" stroke-width="0.5"/>
<line x1="162.29999999999998" y1="378.3111" x2="163.2" y2="378.3111" stroke="#444" stroke-width="0.5"/>
<line x1="172.828725" y1="384" x2="172.828725" y2="384.9" stroke="#444" stroke-width="0.5"/>
<line x1="162.29999999999998" y1="377.39445" x2="163.2" y2="377.39445" stroke="#444" stroke-width="0.5"/>
<line x1="173.91694999999999" y1="384" x2="173.91694999999999" y2="384.9" stroke="#444" stroke-width="0.5"/>
<line x1="162.29999999999998" y1="376.6479" x2="163.2" y2="376.6479" stroke="#444" stroke-width="0.5"/>
<line x1="174.839875" y1="384" x2="174.839875" y2="384.9" stroke="#444" stroke-width="0.5"/>
<line x1="162.29999999999998" y1="376.01475" x2="163.2" y2="376.01475" stroke="#444" stroke-width="0.5"/>
<line x1="175.638825" y1="384" x2="175.638825" y2="384.9" stroke="#444" stroke-width="0.5"/>
<line x1="162.29999999999998" y1="375.46665" x2="163.2" y2="375.46665" stroke="#444" stroke-width="0.5"/>
<line x1="176.34135" y1="384" x2="176.34135" y2="384.9" stroke="#444" stroke-width="0.5"/>
<line x1="162.29999999999998" y1="374.9847" x2="163.2" y2="374.9847" stroke="#444" stroke-width="0.5"/>
<line x1="181.121275" y1="384" x2="181.121275" y2="384.9" stroke="#444" stroke-width="0.5"/>
<line x1="162.29999999999998" y1="371.70555" x2="163.2" y2="371.70555" stroke="#444" stroke-width="0.5"/>
<line x1="183.545675" y1="384" x2="183.545675" y2="384.9" stroke="#444" stroke-width="0.5"/>
<line x1="162.29999999999998" y1="370.04235" x2="163.2" y2="370.04235" stroke="#444" stroke-width="0.5"/>
<line x1="185.26755" y1="384" x2="185.26755" y2="384.9" stroke="#444" stroke-width="0.5"/>
<line x1="162.29999999999998" y1="368.8611" x2="163.2" y2="368.8611" stroke="#444" stroke-width="0.5"/>
<line x1="186.603725" y1="384" x2="186.603725" y2="384.9" stroke="#444" stroke-width="0.5"/>
<line x1="162.29999999999998" y1="367.94445" x2="163.2" y2="367.94445" stroke="#444" stroke-width="0.5"/>
<line x1="187.69195" y1="384" x2="187.69195" y2="384.9" stroke="#444" stroke-width="0.5"/>
<line x1="162.29999999999998" y1="367.1979" x2="163.2" y2="367.1979" stroke="#444" stroke-width="0.5"/>
<line x1="188.61487499999998" y1="384" x2="188.61487499999998" y2="384.9" stroke="#444" stroke-width="0.5"/>
<line x1="162.29999999999998" y1="366.56475" x2="163.2" y2="366.56475" stroke="#444" stroke-width="0.5"/>
<line x1="189.413825" y1="384" x2="189.413825" y2="384.9" stroke="#444" stroke-width="0.5"/>
<line x1="162.29999999999998" y1="366.01664999999997" x2="163.2" y2="366.01664999999997" stroke="#444" stroke-width="0.5"/>
<line x1="190.11635" y1="384" x2="190.11635" y2="384.9" stroke="#444" stroke-width="0.5"/>
<line x1="162.29999999999998" y1="365.5347" x2="163.2" y2="365.5347" stroke="#444" stroke-width="0.5"/>
<line x1="194.896275" y1="384" x2="194.896275" y2="384.9" stroke="#444" stroke-width="0.5"/>
<line x1="162.29999999999998" y1="362.25554999999997" x2="163.2" y2="362.25554999999997" stroke="#444" stroke-width="0.5"/>
<line x1="197.320675" y1="384" x2="197.320675" y2="384.9" stroke="#444" stroke-width="0.5"/>
<line x1="162.29999999999998" y1="360.59235" x2="163.2" y2="360.59235" stroke="#444" stroke-width="0.5"/>
<line x1="199.04255" y1="384" x2="199.04255" y2="384.9" stroke="#444" stroke-width="0.5"/>
<line x1="162.29999999999998" y1="359.4111" x2="163.2" y2="359.4111" stroke="#444" stroke-width="0.5"/>
<line x1="200.378725" y1="384" x2="200.378725" y2="384.9" stroke="#444" stroke-width="0.5"/>
<line x1="162.29999999999998" y1="358.49445" x2="163.2" y2="358.49445" stroke="#444" stroke-width="0.5"/>
<line x1="201.46695" y1="384" x2="201.46695" y2="384.9" stroke="#444" stroke-width="0.5"/>
<line x1="162.29999999999998" y1="357.7479" x2="163.2" y2="357.7479" stroke="#444" stroke-width="0.5"/>
<line x1="202.38987500000002" y1="384" x2="202.38987500000002" y2="384.9" stroke="#444" stroke-width="0.5"/>
<line x1="162.29999999999998" y1="357.11475" x2="163.2" y2="357.11475" stroke="#444" stroke-width="0.5"/>
<line x1="203.188825" y1="384" x2="203.188825" y2="384.9" stroke="#444" stroke-width="0.5"/>
<line x1="162.29999999999998" y1="356.56665" x2="163.2" y2="356.56665" stroke="#444" stroke-width="0.5"/>
<line x1="203.89135" y1="384" x2="203.89135" y2="384.9" stroke="#444" stroke-width="0.5"/>
<line x1="162.29999999999998" y1="356.0847" x2="163.2" y2="356.0847" stroke="#444" stroke-width="0.5"/>
<line x1="208.671275" y1="384" x2="208.671275" y2="384.9" stroke="#444" stroke-width="0.5"/>
<line x1="162.29999999999998" y1="352.80555" x2="163.2" y2="352.80555" stroke="#444" stroke-width="0.5"/>
<line x1="211.095675" y1="384" x2="211.095675" y2="384.9" stroke="#444" stroke-width="0.5"/>
<line x1="162.29999999999998" y1="351.14234999999996" x2="163.2" y2="351.14234999999996" stroke="#444" stroke-width="0.5"/>
<line x1="212.81755" y1="384" x2="212.81755" y2="384.9" stroke="#444" stroke-width="0.5"/>
<line x1="162.29999999999998" y1="349.9611" x2="163.2" y2="349.9611" stroke="#444" stroke-width="0.5"/>
<line x1="214.153725" y1="384" x2="214.153725" y2="384.9" stroke="#444" stroke-width="0.5"/>
<line x1="162.29999999999998" y1="349.04445" x2="163.2" y2="349.04445" stroke="#444" stroke-width="0.5"/>
<line x1="215.24195" y1="384" x2="215.24195" y2="384.9" stroke="#444" stroke-width="0.5"/>
<line x1="162.29999999999998" y1="348.29789999999997" x2="163.2" y2="348.29789999999997" stroke="#444" stroke-width="0.5"/>
<line x1="216.164875" y1="384" x2="216.164875" y2="384.9" stroke="#444" stroke-width="0.5"/>
<line x1="162.29999999999998" y1="347.66474999999997" x2="163.2" y2="347.66474999999997" stroke="#444" stroke-width="0.5"/>
<line x1="216.963825" y1="384" x2="216.963825" y2="384.9" stroke="#444" stroke-width="0.5"/>
<line x1="162.29999999999998" y1="347.11665" x2="163.2" y2="347.11665" stroke="#444" stroke-width="0.5"/>
<line x1="217.66635000000002" y1="384" x2="217.66635000000002" y2="384.9" stroke="#444" stroke-width="0.5"/>
<line x1="162.29999999999998" y1="346.6347" x2="163.2" y2="346.6347" stroke="#444" stroke-width="0.5"/>
<text x="163.7" y="392.0" font-size="5.3" text-anchor="middle" stroke="none" fill="#3a3a3a">10<tspan font-size="3.71" dy="-2">0</tspan></text>
<text x="158.79999999999998" y="382.2" font-size="5.3" text-anchor="middle" stroke="none" fill="#3a3a3a" transform="rotate(-90 158.79999999999998 382.2)">10<tspan font-size="3.71" dy="-2">0</tspan></text>
<text x="177.475" y="392.0" font-size="5.3" text-anchor="middle" stroke="none" fill="#3a3a3a">10<tspan font-size="3.71" dy="-2">1</tspan></text>
<text x="158.79999999999998" y="372.75" font-size="5.3" text-anchor="middle" stroke="none" fill="#3a3a3a" transform="rotate(-90 158.79999999999998 372.75)">10<tspan font-size="3.71" dy="-2">1</tspan></text>
<text x="191.25" y="392.0" font-size="5.3" text-anchor="middle" stroke="none" fill="#3a3a3a">10<tspan font-size="3.71" dy="-2">2</tspan></text>
<text x="158.79999999999998" y="363.3" font-size="5.3" text-anchor="middle" stroke="none" fill="#3a3a3a" transform="rotate(-90 158.79999999999998 363.3)">10<tspan font-size="3.71" dy="-2">2</tspan></text>
<text x="205.025" y="392.0" font-size="5.3" text-anchor="middle" stroke="none" fill="#3a3a3a">10<tspan font-size="3.71" dy="-2">3</tspan></text>
<text x="158.79999999999998" y="353.84999999999997" font-size="5.3" text-anchor="middle" stroke="none" fill="#3a3a3a" transform="rotate(-90 158.79999999999998 353.84999999999997)">10<tspan font-size="3.71" dy="-2">3</tspan></text>
<text x="218.8" y="392.0" font-size="5.3" text-anchor="middle" stroke="none" fill="#3a3a3a">10<tspan font-size="3.71" dy="-2">4</tspan></text>
<text x="158.79999999999998" y="344.4" font-size="5.3" text-anchor="middle" stroke="none" fill="#3a3a3a" transform="rotate(-90 158.79999999999998 344.4)">10<tspan font-size="3.71" dy="-2">4</tspan></text>
<clipPath id="fc5"><rect x="82.1" y="401.7" width="55.80000000000001" height="37.900000000000034"/></clipPath><g clip-path="url(#fc5)">
<rect x="117.8" y="436.6" width="0.9" height="0.9" fill="#999"/>
<rect x="122.5" y="438.1" width="0.9" height="0.9" fill="#999"/>
<rect x="121.0" y="437.9" width="0.9" height="0.9" fill="#999"/>
<rect x="101.8" y="434.5" width="0.9" height="0.9" fill="#999"/>
<rect x="126.5" y="435.9" width="0.9" height="0.9" fill="#999"/>
<rect x="125.3" y="431.8" width="0.9" height="0.9" fill="#999"/>
<rect x="113.7" y="432.8" width="0.9" height="0.9" fill="#999"/>
<rect x="115.7" y="435.3" width="0.9" height="0.9" fill="#999"/>
<rect x="101.4" y="432.6" width="0.9" height="0.9" fill="#999"/>
<rect x="108.5" y="437.9" width="0.9" height="0.9" fill="#999"/>
<rect x="121.7" y="432.2" width="0.9" height="0.9" fill="#999"/>
<rect x="122.5" y="432.0" width="0.9" height="0.9" fill="#999"/>
<rect x="117.7" y="432.0" width="0.9" height="0.9" fill="#999"/>
<rect x="101.0" y="437.5" width="0.9" height="0.9" fill="#999"/>
<rect x="106.7" y="432.6" width="0.9" height="0.9" fill="#999"/>
<rect x="127.5" y="437.5" width="0.9" height="0.9" fill="#999"/>
<rect x="108.8" y="438.2" width="0.9" height="0.9" fill="#999"/>
<rect x="115.6" y="436.1" width="0.9" height="0.9" fill="#999"/>
<rect x="106.5" y="438.1" width="0.9" height="0.9" fill="#999"/>
<rect x="119.6" y="438.2" width="0.9" height="0.9" fill="#999"/>
<rect x="125.1" y="433.2" width="0.9" height="0.9" fill="#999"/>
<rect x="110.8" y="432.2" width="0.9" height="0.9" fill="#999"/>
<rect x="104.9" y="431.5" width="0.9" height="0.9" fill="#999"/>
<rect x="109.1" y="435.5" width="0.9" height="0.9" fill="#999"/>
<rect x="101.1" y="436.1" width="0.9" height="0.9" fill="#999"/>
<rect x="110.1" y="433.3" width="0.9" height="0.9" fill="#999"/>
<rect x="123.1" y="434.6" width="0.9" height="0.9" fill="#999"/>
<rect x="109.5" y="434.6" width="0.9" height="0.9" fill="#999"/>
<rect x="120.0" y="431.4" width="0.9" height="0.9" fill="#999"/>
<rect x="127.3" y="431.2" width="0.9" height="0.9" fill="#999"/>
<rect x="121.2" y="437.3" width="0.9" height="0.9" fill="#999"/>
<rect x="101.5" y="436.9" width="0.9" height="0.9" fill="#999"/>
<rect x="110.9" y="435.3" width="0.9" height="0.9" fill="#999"/>
<rect x="101.2" y="431.4" width="0.9" height="0.9" fill="#999"/>
<rect x="105.9" y="438.2" width="0.9" height="0.9" fill="#999"/>
<rect x="106.3" y="436.7" width="0.9" height="0.9" fill="#999"/>
<rect x="126.1" y="438.1" width="0.9" height="0.9" fill="#999"/>
<rect x="110.3" y="433.7" width="0.9" height="0.9" fill="#999"/>
<rect x="115.2" y="436.8" width="0.9" height="0.9" fill="#999"/>
<rect x="103.9" y="436.6" width="0.9" height="0.9" fill="#999"/>
<rect x="122.5" y="437.4" width="0.9" height="0.9" fill="#999"/>
<rect x="102.0" y="438.1" width="0.9" height="0.9" fill="#999"/>
<rect x="103.5" y="433.6" width="0.9" height="0.9" fill="#999"/>
<rect x="117.5" y="437.9" width="0.9" height="0.9" fill="#999"/>
<rect x="110.2" y="437.9" width="0.9" height="0.9" fill="#999"/>
<rect x="115.7" y="433.3" width="0.9" height="0.9" fill="#999"/>
<rect x="109.6" y="432.3" width="0.9" height="0.9" fill="#999"/>
<rect x="103.1" y="432.1" width="0.9" height="0.9" fill="#999"/>
<rect x="119.6" y="438.5" width="0.9" height="0.9" fill="#999"/>
<rect x="105.4" y="431.4" width="0.9" height="0.9" fill="#999"/>
<rect x="127.6" y="435.0" width="0.9" height="0.9" fill="#999"/>
<rect x="112.0" y="432.8" width="0.9" height="0.9" fill="#999"/>
<rect x="117.0" y="437.2" width="0.9" height="0.9" fill="#999"/>
<rect x="113.3" y="434.2" width="0.9" height="0.9" fill="#999"/>
<rect x="102.5" y="437.9" width="0.9" height="0.9" fill="#999"/>
<rect x="101.9" y="434.7" width="0.9" height="0.9" fill="#999"/>
<rect x="123.6" y="432.0" width="0.9" height="0.9" fill="#999"/>
<rect x="120.8" y="438.1" width="0.9" height="0.9" fill="#999"/>
<rect x="118.0" y="436.9" width="0.9" height="0.9" fill="#999"/>
<rect x="103.9" y="434.3" width="0.9" height="0.9" fill="#999"/>
<rect x="113.0" y="428.2" width="0.9" height="0.9" fill="#999"/>
<rect x="115.9" y="426.3" width="0.9" height="0.9" fill="#999"/>
<rect x="130.0" y="428.3" width="0.9" height="0.9" fill="#999"/>
<rect x="129.5" y="426.3" width="0.9" height="0.9" fill="#999"/>
<rect x="119.8" y="427.6" width="0.9" height="0.9" fill="#999"/>
<rect x="119.6" y="425.5" width="0.9" height="0.9" fill="#999"/>
<rect x="118.1" y="424.7" width="0.9" height="0.9" fill="#999"/>
<rect x="117.5" y="428.9" width="0.9" height="0.9" fill="#999"/>
<rect x="132.7" y="419.0" width="0.9" height="0.9" fill="#bbb"/>
<rect x="118.0" y="412.1" width="0.9" height="0.9" fill="#bbb"/>
<rect x="104.9" y="410.5" width="0.9" height="0.9" fill="#bbb"/>
<rect x="127.0" y="424.8" width="0.9" height="0.9" fill="#bbb"/>
<rect x="85.4" y="438.1" width="1" height="1" fill="#000"/>
<rect x="89.8" y="431.5" width="1" height="1" fill="#000"/>
<rect x="86.2" y="431.7" width="1" height="1" fill="#000"/>
<rect x="85.7" y="437.7" width="1" height="1" fill="#000"/>
<rect x="88.3" y="437.6" width="1" height="1" fill="#000"/>
<rect x="89.6" y="431.5" width="1" height="1" fill="#000"/>
<rect x="86.9" y="440.3" width="1" height="1" fill="#000"/>
<rect x="86.5" y="432.6" width="1" height="1" fill="#000"/>
<rect x="93.0" y="435.2" width="1" height="1" fill="#000"/>
<rect x="89.0" y="438.4" width="1" height="1" fill="#000"/>
<rect x="83.3" y="436.0" width="1" height="1" fill="#000"/>
<rect x="85.6" y="431.7" width="1" height="1" fill="#000"/>
<rect x="86.3" y="437.7" width="1" height="1" fill="#000"/>
<rect x="88.5" y="430.7" width="1" height="1" fill="#000"/>
<rect x="85.4" y="438.6" width="1" height="1" fill="#000"/>
<rect x="92.3" y="432.4" width="1" height="1" fill="#000"/>
<rect x="96.9" y="434.1" width="1" height="1" fill="#000"/>
<rect x="85.1" y="434.7" width="1" height="1" fill="#000"/>
<rect x="92.1" y="438.8" width="1" height="1" fill="#000"/>
<rect x="92.4" y="434.0" width="1" height="1" fill="#000"/>
<rect x="87.2" y="431.6" width="1" height="1" fill="#000"/>
<rect x="88.8" y="433.6" width="1" height="1" fill="#000"/>
<rect x="89.8" y="432.0" width="1" height="1" fill="#000"/>
<rect x="87.3" y="432.9" width="1" height="1" fill="#000"/>
<rect x="85.1" y="432.2" width="1" height="1" fill="#000"/>
<rect x="85.7" y="432.2" width="1" height="1" fill="#000"/>
<rect x="90.9" y="435.2" width="1" height="1" fill="#000"/>
<rect x="84.7" y="436.2" width="1" height="1" fill="#000"/>
<rect x="89.9" y="438.4" width="1" height="1" fill="#000"/>
<rect x="88.4" y="434.5" width="1" height="1" fill="#000"/>
<rect x="86.7" y="435.3" width="1" height="1" fill="#000"/>
<rect x="90.6" y="435.4" width="1" height="1" fill="#000"/>
<rect x="88.2" y="436.3" width="1" height="1" fill="#000"/>
<rect x="89.3" y="435.6" width="1" height="1" fill="#000"/>
<rect x="85.9" y="435.5" width="1" height="1" fill="#000"/>
<rect x="85.7" y="433.0" width="1" height="1" fill="#000"/>
<rect x="89.5" y="440.0" width="1" height="1" fill="#000"/>
<rect x="92.3" y="435.0" width="1" height="1" fill="#000"/>
<rect x="88.4" y="437.3" width="1" height="1" fill="#000"/>
<rect x="93.5" y="437.9" width="1" height="1" fill="#000"/>
<rect x="88.4" y="435.4" width="1" height="1" fill="#000"/>
<rect x="87.9" y="434.3" width="1" height="1" fill="#000"/>
<rect x="86.2" y="434.4" width="1" height="1" fill="#000"/>
<rect x="82.0" y="432.2" width="1" height="1" fill="#000"/>
<rect x="90.4" y="432.8" width="1" height="1" fill="#000"/>
<rect x="90.8" y="432.0" width="1" height="1" fill="#000"/>
<rect x="87.8" y="435.9" width="1" height="1" fill="#000"/>
<rect x="85.6" y="433.3" width="1" height="1" fill="#000"/>
<rect x="97.1" y="433.4" width="1" height="1" fill="#000"/>
<rect x="86.7" y="433.7" width="1" height="1" fill="#000"/>
<rect x="89.1" y="434.9" width="1" height="1" fill="#000"/>
<rect x="92.2" y="436.9" width="1" height="1" fill="#000"/>
<rect x="87.7" y="434.2" width="1" height="1" fill="#000"/>
<rect x="84.4" y="431.5" width="1" height="1" fill="#000"/>
<rect x="86.6" y="436.7" width="1" height="1" fill="#000"/>
<rect x="89.4" y="436.9" width="1" height="1" fill="#000"/>
<rect x="92.1" y="434.6" width="1" height="1" fill="#000"/>
<rect x="95.9" y="433.8" width="1" height="1" fill="#000"/>
<rect x="87.0" y="434.0" width="1" height="1" fill="#000"/>
<rect x="92.7" y="434.7" width="1" height="1" fill="#000"/>
<rect x="86.6" y="436.0" width="1" height="1" fill="#000"/>
<rect x="92.7" y="434.7" width="1" height="1" fill="#000"/>
<rect x="88.2" y="437.6" width="1" height="1" fill="#000"/>
<rect x="92.2" y="437.2" width="1" height="1" fill="#000"/>
<rect x="86.5" y="435.7" width="1" height="1" fill="#000"/>
<rect x="90.2" y="430.8" width="1" height="1" fill="#000"/>
<rect x="92.9" y="435.2" width="1" height="1" fill="#000"/>
<rect x="87.9" y="440.3" width="1" height="1" fill="#000"/>
<rect x="89.5" y="433.3" width="1" height="1" fill="#000"/>
<rect x="88.8" y="436.3" width="1" height="1" fill="#000"/>
<rect x="91.7" y="434.9" width="1" height="1" fill="#000"/>
<rect x="86.2" y="433.4" width="1" height="1" fill="#000"/>
<rect x="86.3" y="432.5" width="1" height="1" fill="#000"/>
<rect x="88.9" y="433.8" width="1" height="1" fill="#000"/>
<rect x="89.2" y="433.1" width="1" height="1" fill="#000"/>
<rect x="86.2" y="434.6" width="1" height="1" fill="#000"/>
<rect x="87.9" y="437.7" width="1" height="1" fill="#000"/>
<rect x="86.0" y="435.5" width="1" height="1" fill="#000"/>
<rect x="88.9" y="431.9" width="1" height="1" fill="#000"/>
<rect x="91.4" y="435.4" width="1" height="1" fill="#000"/>
<rect x="82.1" y="436.4" width="1" height="1" fill="#000"/>
<rect x="92.1" y="433.1" width="1" height="1" fill="#000"/>
<rect x="94.5" y="435.4" width="1" height="1" fill="#000"/>
<rect x="85.2" y="436.3" width="1" height="1" fill="#000"/>
<rect x="87.8" y="431.9" width="1" height="1" fill="#000"/>
<rect x="82.0" y="435.6" width="1" height="1" fill="#000"/>
<rect x="86.6" y="436.5" width="1" height="1" fill="#000"/>
<rect x="90.3" y="433.8" width="1" height="1" fill="#000"/>
<rect x="87.3" y="439.1" width="1" height="1" fill="#000"/>
<rect x="94.6" y="436.8" width="1" height="1" fill="#000"/>
<rect x="87.8" y="432.7" width="1" height="1" fill="#000"/>
<rect x="87.7" y="438.9" width="1" height="1" fill="#000"/>
<rect x="90.5" y="434.3" width="1" height="1" fill="#000"/>
<rect x="85.0" y="435.4" width="1" height="1" fill="#000"/>
<rect x="86.1" y="435.0" width="1" height="1" fill="#000"/>
<rect x="91.4" y="437.5" width="1" height="1" fill="#000"/>
<rect x="89.5" y="434.2" width="1" height="1" fill="#000"/>
<rect x="89.7" y="439.2" width="1" height="1" fill="#000"/>
<rect x="90.2" y="431.7" width="1" height="1" fill="#000"/>
<rect x="94.1" y="435.6" width="1" height="1" fill="#000"/>
<rect x="100.3" y="433.9" width="1" height="1" fill="#000"/>
<rect x="88.7" y="434.3" width="1" height="1" fill="#000"/>
<rect x="90.2" y="433.6" width="1" height="1" fill="#000"/>
<rect x="84.2" y="430.5" width="1" height="1" fill="#000"/>
<rect x="88.6" y="433.8" width="1" height="1" fill="#000"/>
<rect x="87.1" y="440.0" width="1" height="1" fill="#000"/>
<rect x="91.6" y="437.6" width="1" height="1" fill="#000"/>
<rect x="87.4" y="435.7" width="1" height="1" fill="#000"/>
<rect x="88.3" y="434.5" width="1" height="1" fill="#000"/>
<rect x="91.4" y="436.4" width="1" height="1" fill="#000"/>
<rect x="90.0" y="435.3" width="1" height="1" fill="#000"/>
<rect x="84.3" y="433.3" width="1" height="1" fill="#000"/>
<rect x="90.2" y="434.1" width="1" height="1" fill="#000"/>
<rect x="86.5" y="435.8" width="1" height="1" fill="#000"/>
<rect x="86.0" y="433.4" width="1" height="1" fill="#000"/>
<rect x="91.9" y="434.2" width="1" height="1" fill="#000"/>
<rect x="93.6" y="436.2" width="1" height="1" fill="#000"/>
<rect x="91.6" y="437.6" width="1" height="1" fill="#000"/>
<rect x="82.0" y="434.8" width="1" height="1" fill="#000"/>
<rect x="84.8" y="433.9" width="1" height="1" fill="#000"/>
<ellipse cx="89.3" cy="435.2" rx="4.6" ry="2.9" transform="rotate(-25 89.3 435.2)" fill="#000"/>
</g>
<rect x="82.1" y="401.7" width="55.80000000000001" height="37.900000000000034" fill="none" stroke="#555" stroke-width="0.8"/>
<line x1="82.1" y1="439.6" x2="137.9" y2="439.6" stroke="#111" stroke-width="1.3"/>
<line x1="82.1" y1="401.7" x2="82.1" y2="439.6" stroke="#222" stroke-width="1.1"/>
<line x1="100" y1="401.7" x2="100" y2="439.6" stroke="#000" stroke-width="1.5"/>
<line x1="81.6" y1="429.8" x2="137.9" y2="429.8" stroke="#000" stroke-width="1.5"/>
<line x1="82.1" y1="439.6" x2="82.1" y2="441.20000000000005" stroke="#222" stroke-width="0.8"/>
<line x1="80.5" y1="439.6" x2="82.1" y2="439.6" stroke="#222" stroke-width="0.8"/>
<line x1="96.05" y1="439.6" x2="96.05" y2="441.20000000000005" stroke="#222" stroke-width="0.8"/>
<line x1="80.5" y1="430.125" x2="82.1" y2="430.125" stroke="#222" stroke-width="0.8"/>
<line x1="110.0" y1="439.6" x2="110.0" y2="441.20000000000005" stroke="#222" stroke-width="0.8"/>
<line x1="80.5" y1="420.65" x2="82.1" y2="420.65" stroke="#222" stroke-width="0.8"/>
<line x1="123.95" y1="439.6" x2="123.95" y2="441.20000000000005" stroke="#222" stroke-width="0.8"/>
<line x1="80.5" y1="411.175" x2="82.1" y2="411.175" stroke="#222" stroke-width="0.8"/>
<line x1="137.9" y1="439.6" x2="137.9" y2="441.20000000000005" stroke="#222" stroke-width="0.8"/>
<line x1="80.5" y1="401.7" x2="82.1" y2="401.7" stroke="#222" stroke-width="0.8"/>
<line x1="86.29894999999999" y1="439.6" x2="86.29894999999999" y2="440.5" stroke="#444" stroke-width="0.5"/>
<line x1="81.19999999999999" y1="436.74802500000004" x2="82.1" y2="436.74802500000004" stroke="#444" stroke-width="0.5"/>
<line x1="88.75415" y1="439.6" x2="88.75415" y2="440.5" stroke="#444" stroke-width="0.5"/>
<line x1="81.19999999999999" y1="435.080425" x2="82.1" y2="435.080425" stroke="#444" stroke-width="0.5"/>
<line x1="90.4979" y1="439.6" x2="90.4979" y2="440.5" stroke="#444" stroke-width="0.5"/>
<line x1="81.19999999999999" y1="433.89605" x2="82.1" y2="433.89605" stroke="#444" stroke-width="0.5"/>
<line x1="91.85105" y1="439.6" x2="91.85105" y2="440.5" stroke="#444" stroke-width="0.5"/>
<line x1="81.19999999999999" y1="432.97697500000004" x2="82.1" y2="432.97697500000004" stroke="#444" stroke-width="0.5"/>
<line x1="92.95309999999999" y1="439.6" x2="92.95309999999999" y2="440.5" stroke="#444" stroke-width="0.5"/>
<line x1="81.19999999999999" y1="432.22845" x2="82.1" y2="432.22845" stroke="#444" stroke-width="0.5"/>
<line x1="93.88775" y1="439.6" x2="93.88775" y2="440.5" stroke="#444" stroke-width="0.5"/>
<line x1="81.19999999999999" y1="431.59362500000003" x2="82.1" y2="431.59362500000003" stroke="#444" stroke-width="0.5"/>
<line x1="94.69685" y1="439.6" x2="94.69685" y2="440.5" stroke="#444" stroke-width="0.5"/>
<line x1="81.19999999999999" y1="431.044075" x2="82.1" y2="431.044075" stroke="#444" stroke-width="0.5"/>
<line x1="95.4083" y1="439.6" x2="95.4083" y2="440.5" stroke="#444" stroke-width="0.5"/>
<line x1="81.19999999999999" y1="430.56085" x2="82.1" y2="430.56085" stroke="#444" stroke-width="0.5"/>
<line x1="100.24895" y1="439.6" x2="100.24895" y2="440.5" stroke="#444" stroke-width="0.5"/>
<line x1="81.19999999999999" y1="427.273025" x2="82.1" y2="427.273025" stroke="#444" stroke-width="0.5"/>
<line x1="102.70415" y1="439.6" x2="102.70415" y2="440.5" stroke="#444" stroke-width="0.5"/>
<line x1="81.19999999999999" y1="425.605425" x2="82.1" y2="425.605425" stroke="#444" stroke-width="0.5"/>
<line x1="104.4479" y1="439.6" x2="104.4479" y2="440.5" stroke="#444" stroke-width="0.5"/>
<line x1="81.19999999999999" y1="424.42105000000004" x2="82.1" y2="424.42105000000004" stroke="#444" stroke-width="0.5"/>
<line x1="105.80105" y1="439.6" x2="105.80105" y2="440.5" stroke="#444" stroke-width="0.5"/>
<line x1="81.19999999999999" y1="423.501975" x2="82.1" y2="423.501975" stroke="#444" stroke-width="0.5"/>
<line x1="106.9031" y1="439.6" x2="106.9031" y2="440.5" stroke="#444" stroke-width="0.5"/>
<line x1="81.19999999999999" y1="422.75345" x2="82.1" y2="422.75345" stroke="#444" stroke-width="0.5"/>
<line x1="107.83775" y1="439.6" x2="107.83775" y2="440.5" stroke="#444" stroke-width="0.5"/>
<line x1="81.19999999999999" y1="422.118625" x2="82.1" y2="422.118625" stroke="#444" stroke-width="0.5"/>
<line x1="108.64685" y1="439.6" x2="108.64685" y2="440.5" stroke="#444" stroke-width="0.5"/>
<line x1="81.19999999999999" y1="421.569075" x2="82.1" y2="421.569075" stroke="#444" stroke-width="0.5"/>
<line x1="109.3583" y1="439.6" x2="109.3583" y2="440.5" stroke="#444" stroke-width="0.5"/>
<line x1="81.19999999999999" y1="421.08585" x2="82.1" y2="421.08585" stroke="#444" stroke-width="0.5"/>
<line x1="114.19895" y1="439.6" x2="114.19895" y2="440.5" stroke="#444" stroke-width="0.5"/>
<line x1="81.19999999999999" y1="417.798025" x2="82.1" y2="417.798025" stroke="#444" stroke-width="0.5"/>
<line x1="116.65415" y1="439.6" x2="116.65415" y2="440.5" stroke="#444" stroke-width="0.5"/>
<line x1="81.19999999999999" y1="416.130425" x2="82.1" y2="416.130425" stroke="#444" stroke-width="0.5"/>
<line x1="118.39789999999999" y1="439.6" x2="118.39789999999999" y2="440.5" stroke="#444" stroke-width="0.5"/>
<line x1="81.19999999999999" y1="414.94605" x2="82.1" y2="414.94605" stroke="#444" stroke-width="0.5"/>
<line x1="119.75104999999999" y1="439.6" x2="119.75104999999999" y2="440.5" stroke="#444" stroke-width="0.5"/>
<line x1="81.19999999999999" y1="414.026975" x2="82.1" y2="414.026975" stroke="#444" stroke-width="0.5"/>
<line x1="120.85310000000001" y1="439.6" x2="120.85310000000001" y2="440.5" stroke="#444" stroke-width="0.5"/>
<line x1="81.19999999999999" y1="413.27845" x2="82.1" y2="413.27845" stroke="#444" stroke-width="0.5"/>
<line x1="121.78774999999999" y1="439.6" x2="121.78774999999999" y2="440.5" stroke="#444" stroke-width="0.5"/>
<line x1="81.19999999999999" y1="412.643625" x2="82.1" y2="412.643625" stroke="#444" stroke-width="0.5"/>
<line x1="122.59685" y1="439.6" x2="122.59685" y2="440.5" stroke="#444" stroke-width="0.5"/>
<line x1="81.19999999999999" y1="412.094075" x2="82.1" y2="412.094075" stroke="#444" stroke-width="0.5"/>
<line x1="123.3083" y1="439.6" x2="123.3083" y2="440.5" stroke="#444" stroke-width="0.5"/>
<line x1="81.19999999999999" y1="411.61085" x2="82.1" y2="411.61085" stroke="#444" stroke-width="0.5"/>
<line x1="128.14895" y1="439.6" x2="128.14895" y2="440.5" stroke="#444" stroke-width="0.5"/>
<line x1="81.19999999999999" y1="408.323025" x2="82.1" y2="408.323025" stroke="#444" stroke-width="0.5"/>
<line x1="130.60415" y1="439.6" x2="130.60415" y2="440.5" stroke="#444" stroke-width="0.5"/>
<line x1="81.19999999999999" y1="406.655425" x2="82.1" y2="406.655425" stroke="#444" stroke-width="0.5"/>
<line x1="132.3479" y1="439.6" x2="132.3479" y2="440.5" stroke="#444" stroke-width="0.5"/>
<line x1="81.19999999999999" y1="405.47105" x2="82.1" y2="405.47105" stroke="#444" stroke-width="0.5"/>
<line x1="133.70105" y1="439.6" x2="133.70105" y2="440.5" stroke="#444" stroke-width="0.5"/>
<line x1="81.19999999999999" y1="404.55197499999997" x2="82.1" y2="404.55197499999997" stroke="#444" stroke-width="0.5"/>
<line x1="134.8031" y1="439.6" x2="134.8031" y2="440.5" stroke="#444" stroke-width="0.5"/>
<line x1="81.19999999999999" y1="403.80345" x2="82.1" y2="403.80345" stroke="#444" stroke-width="0.5"/>
<line x1="135.73775" y1="439.6" x2="135.73775" y2="440.5" stroke="#444" stroke-width="0.5"/>
<line x1="81.19999999999999" y1="403.168625" x2="82.1" y2="403.168625" stroke="#444" stroke-width="0.5"/>
<line x1="136.54685" y1="439.6" x2="136.54685" y2="440.5" stroke="#444" stroke-width="0.5"/>
<line x1="81.19999999999999" y1="402.619075" x2="82.1" y2="402.619075" stroke="#444" stroke-width="0.5"/>
<line x1="137.2583" y1="439.6" x2="137.2583" y2="440.5" stroke="#444" stroke-width="0.5"/>
<line x1="81.19999999999999" y1="402.13585" x2="82.1" y2="402.13585" stroke="#444" stroke-width="0.5"/>
<text x="82.6" y="447.6" font-size="5.3" text-anchor="middle" stroke="none" fill="#3a3a3a">10<tspan font-size="3.71" dy="-2">0</tspan></text>
<text x="77.69999999999999" y="437.8" font-size="5.3" text-anchor="middle" stroke="none" fill="#3a3a3a" transform="rotate(-90 77.69999999999999 437.8)">10<tspan font-size="3.71" dy="-2">0</tspan></text>
<text x="96.55" y="447.6" font-size="5.3" text-anchor="middle" stroke="none" fill="#3a3a3a">10<tspan font-size="3.71" dy="-2">1</tspan></text>
<text x="77.69999999999999" y="428.325" font-size="5.3" text-anchor="middle" stroke="none" fill="#3a3a3a" transform="rotate(-90 77.69999999999999 428.325)">10<tspan font-size="3.71" dy="-2">1</tspan></text>
<text x="110.5" y="447.6" font-size="5.3" text-anchor="middle" stroke="none" fill="#3a3a3a">10<tspan font-size="3.71" dy="-2">2</tspan></text>
<text x="77.69999999999999" y="418.84999999999997" font-size="5.3" text-anchor="middle" stroke="none" fill="#3a3a3a" transform="rotate(-90 77.69999999999999 418.84999999999997)">10<tspan font-size="3.71" dy="-2">2</tspan></text>
<text x="124.45" y="447.6" font-size="5.3" text-anchor="middle" stroke="none" fill="#3a3a3a">10<tspan font-size="3.71" dy="-2">3</tspan></text>
<text x="77.69999999999999" y="409.375" font-size="5.3" text-anchor="middle" stroke="none" fill="#3a3a3a" transform="rotate(-90 77.69999999999999 409.375)">10<tspan font-size="3.71" dy="-2">3</tspan></text>
<text x="138.4" y="447.6" font-size="5.3" text-anchor="middle" stroke="none" fill="#3a3a3a">10<tspan font-size="3.71" dy="-2">4</tspan></text>
<text x="77.69999999999999" y="399.9" font-size="5.3" text-anchor="middle" stroke="none" fill="#3a3a3a" transform="rotate(-90 77.69999999999999 399.9)">10<tspan font-size="3.71" dy="-2">4</tspan></text>
<clipPath id="fc6"><rect x="163.2" y="401.9" width="56.20000000000002" height="37.700000000000045"/></clipPath><g clip-path="url(#fc6)">
<rect x="205.8" y="437.2" width="0.9" height="0.9" fill="#555"/>
<rect x="196.6" y="433.0" width="0.9" height="0.9" fill="#555"/>
<rect x="182.0" y="436.0" width="0.9" height="0.9" fill="#555"/>
<rect x="196.1" y="436.7" width="0.9" height="0.9" fill="#555"/>
<rect x="193.2" y="436.8" width="0.9" height="0.9" fill="#555"/>
<rect x="190.2" y="437.0" width="0.9" height="0.9" fill="#555"/>
<rect x="203.9" y="434.1" width="0.9" height="0.9" fill="#555"/>
<rect x="198.1" y="436.1" width="0.9" height="0.9" fill="#555"/>
<rect x="187.8" y="435.2" width="0.9" height="0.9" fill="#555"/>
<rect x="206.2" y="433.0" width="0.9" height="0.9" fill="#555"/>
<rect x="206.1" y="436.1" width="0.9" height="0.9" fill="#555"/>
<rect x="207.3" y="433.5" width="0.9" height="0.9" fill="#555"/>
<rect x="184.8" y="437.0" width="0.9" height="0.9" fill="#555"/>
<rect x="206.1" y="434.3" width="0.9" height="0.9" fill="#555"/>
<rect x="184.8" y="432.5" width="0.9" height="0.9" fill="#555"/>
<rect x="201.0" y="433.2" width="0.9" height="0.9" fill="#555"/>
<rect x="210.5" y="435.4" width="0.9" height="0.9" fill="#555"/>
<rect x="188.0" y="435.9" width="0.9" height="0.9" fill="#555"/>
<rect x="192.8" y="438.0" width="0.9" height="0.9" fill="#555"/>
<rect x="209.3" y="434.9" width="0.9" height="0.9" fill="#555"/>
<rect x="201.3" y="436.2" width="0.9" height="0.9" fill="#555"/>
<rect x="206.2" y="438.3" width="0.9" height="0.9" fill="#555"/>
<rect x="182.9" y="433.7" width="0.9" height="0.9" fill="#555"/>
<rect x="200.1" y="433.3" width="0.9" height="0.9" fill="#555"/>
<rect x="199.7" y="431.7" width="0.9" height="0.9" fill="#555"/>
<rect x="208.4" y="434.9" width="0.9" height="0.9" fill="#555"/>
<rect x="185.5" y="436.0" width="0.9" height="0.9" fill="#555"/>
<rect x="191.4" y="432.5" width="0.9" height="0.9" fill="#555"/>
<rect x="196.5" y="432.0" width="0.9" height="0.9" fill="#555"/>
<rect x="188.3" y="437.5" width="0.9" height="0.9" fill="#555"/>
<rect x="202.9" y="431.1" width="0.9" height="0.9" fill="#555"/>
<rect x="205.3" y="431.1" width="0.9" height="0.9" fill="#555"/>
<rect x="192.0" y="437.8" width="0.9" height="0.9" fill="#555"/>
<rect x="200.6" y="433.3" width="0.9" height="0.9" fill="#555"/>
<rect x="193.3" y="433.9" width="0.9" height="0.9" fill="#555"/>
<rect x="185.8" y="438.5" width="0.9" height="0.9" fill="#555"/>
<rect x="183.6" y="434.2" width="0.9" height="0.9" fill="#555"/>
<rect x="204.4" y="434.0" width="0.9" height="0.9" fill="#555"/>
<rect x="211.4" y="432.8" width="0.9" height="0.9" fill="#555"/>
<rect x="211.4" y="437.7" width="0.9" height="0.9" fill="#555"/>
<rect x="202.1" y="437.7" width="0.9" height="0.9" fill="#555"/>
<rect x="195.4" y="437.2" width="0.9" height="0.9" fill="#555"/>
<rect x="205.9" y="434.9" width="0.9" height="0.9" fill="#555"/>
<rect x="196.1" y="436.3" width="0.9" height="0.9" fill="#555"/>
<rect x="194.3" y="431.6" width="0.9" height="0.9" fill="#555"/>
<rect x="204.4" y="433.0" width="0.9" height="0.9" fill="#555"/>
<rect x="196.6" y="436.9" width="0.9" height="0.9" fill="#555"/>
<rect x="187.2" y="431.2" width="0.9" height="0.9" fill="#555"/>
<rect x="185.7" y="435.4" width="0.9" height="0.9" fill="#555"/>
<rect x="192.8" y="432.9" width="0.9" height="0.9" fill="#555"/>
<rect x="195.5" y="438.0" width="0.9" height="0.9" fill="#555"/>
<rect x="189.6" y="434.1" width="0.9" height="0.9" fill="#555"/>
<rect x="208.4" y="435.6" width="0.9" height="0.9" fill="#555"/>
<rect x="190.0" y="434.6" width="0.9" height="0.9" fill="#555"/>
<rect x="196.4" y="432.1" width="0.9" height="0.9" fill="#555"/>
<rect x="193.3" y="433.3" width="0.9" height="0.9" fill="#555"/>
<rect x="206.1" y="433.4" width="0.9" height="0.9" fill="#555"/>
<rect x="201.8" y="438.3" width="0.9" height="0.9" fill="#555"/>
<rect x="209.7" y="433.8" width="0.9" height="0.9" fill="#555"/>
<rect x="200.1" y="433.4" width="0.9" height="0.9" fill="#555"/>
<rect x="193.9" y="434.7" width="0.9" height="0.9" fill="#555"/>
<rect x="205.8" y="438.0" width="0.9" height="0.9" fill="#555"/>
<rect x="190.7" y="431.0" width="0.9" height="0.9" fill="#555"/>
<rect x="195.5" y="431.4" width="0.9" height="0.9" fill="#555"/>
<rect x="182.9" y="436.8" width="0.9" height="0.9" fill="#555"/>
<rect x="185.4" y="436.4" width="0.9" height="0.9" fill="#555"/>
<rect x="192.9" y="438.0" width="0.9" height="0.9" fill="#555"/>
<rect x="207.6" y="431.5" width="0.9" height="0.9" fill="#555"/>
<rect x="187.8" y="438.1" width="0.9" height="0.9" fill="#555"/>
<rect x="200.4" y="434.2" width="0.9" height="0.9" fill="#555"/>
<rect x="213.6" y="428.1" width="0.9" height="0.9" fill="#555"/>
<rect x="210.4" y="426.3" width="0.9" height="0.9" fill="#555"/>
<rect x="206.1" y="425.8" width="0.9" height="0.9" fill="#555"/>
<rect x="206.6" y="427.1" width="0.9" height="0.9" fill="#555"/>
<rect x="211.7" y="424.7" width="0.9" height="0.9" fill="#555"/>
<rect x="211.9" y="424.5" width="0.9" height="0.9" fill="#555"/>
<rect x="206.2" y="427.2" width="0.9" height="0.9" fill="#555"/>
<rect x="210.1" y="428.5" width="0.9" height="0.9" fill="#555"/>
<rect x="211.9" y="427.5" width="0.9" height="0.9" fill="#555"/>
<rect x="206.4" y="428.2" width="0.9" height="0.9" fill="#555"/>
<rect x="205.9" y="427.1" width="0.9" height="0.9" fill="#555"/>
<rect x="215.0" y="428.5" width="0.9" height="0.9" fill="#555"/>
<rect x="211.8" y="414.8" width="0.9" height="0.9" fill="#bbb"/>
<rect x="205.8" y="423.0" width="0.9" height="0.9" fill="#bbb"/>
<rect x="189.1" y="426.6" width="0.9" height="0.9" fill="#bbb"/>
<rect x="212.3" y="414.6" width="0.9" height="0.9" fill="#bbb"/>
<rect x="172.1" y="432.8" width="1" height="1" fill="#000"/>
<rect x="170.6" y="438.9" width="1" height="1" fill="#000"/>
<rect x="177.0" y="436.9" width="1" height="1" fill="#000"/>
<rect x="174.2" y="435.0" width="1" height="1" fill="#000"/>
<rect x="172.8" y="434.9" width="1" height="1" fill="#000"/>
<rect x="173.2" y="433.8" width="1" height="1" fill="#000"/>
<rect x="174.9" y="434.8" width="1" height="1" fill="#000"/>
<rect x="172.2" y="435.0" width="1" height="1" fill="#000"/>
<rect x="176.7" y="437.5" width="1" height="1" fill="#000"/>
<rect x="168.9" y="433.1" width="1" height="1" fill="#000"/>
<rect x="173.5" y="435.6" width="1" height="1" fill="#000"/>
<rect x="170.8" y="435.8" width="1" height="1" fill="#000"/>
<rect x="177.1" y="435.1" width="1" height="1" fill="#000"/>
<rect x="176.4" y="434.2" width="1" height="1" fill="#000"/>
<rect x="170.8" y="436.1" width="1" height="1" fill="#000"/>
<rect x="171.3" y="434.2" width="1" height="1" fill="#000"/>
<rect x="168.0" y="434.6" width="1" height="1" fill="#000"/>
<rect x="170.2" y="435.3" width="1" height="1" fill="#000"/>
<rect x="175.1" y="436.5" width="1" height="1" fill="#000"/>
<rect x="175.5" y="435.8" width="1" height="1" fill="#000"/>
<rect x="173.1" y="436.8" width="1" height="1" fill="#000"/>
<rect x="174.0" y="437.7" width="1" height="1" fill="#000"/>
<rect x="169.7" y="436.4" width="1" height="1" fill="#000"/>
<rect x="172.3" y="438.2" width="1" height="1" fill="#000"/>
<rect x="174.4" y="434.0" width="1" height="1" fill="#000"/>
<rect x="173.0" y="437.0" width="1" height="1" fill="#000"/>
<rect x="171.8" y="438.3" width="1" height="1" fill="#000"/>
<rect x="172.5" y="432.4" width="1" height="1" fill="#000"/>
<rect x="172.6" y="437.2" width="1" height="1" fill="#000"/>
<rect x="168.9" y="437.0" width="1" height="1" fill="#000"/>
<rect x="162.4" y="440.1" width="1" height="1" fill="#000"/>
<rect x="166.9" y="434.2" width="1" height="1" fill="#000"/>
<rect x="170.5" y="432.1" width="1" height="1" fill="#000"/>
<rect x="172.6" y="433.2" width="1" height="1" fill="#000"/>
<rect x="167.1" y="430.0" width="1" height="1" fill="#000"/>
<rect x="173.9" y="438.1" width="1" height="1" fill="#000"/>
<rect x="170.6" y="435.8" width="1" height="1" fill="#000"/>
<rect x="176.9" y="436.3" width="1" height="1" fill="#000"/>
<rect x="175.4" y="437.7" width="1" height="1" fill="#000"/>
<rect x="174.1" y="436.6" width="1" height="1" fill="#000"/>
<rect x="175.5" y="435.9" width="1" height="1" fill="#000"/>
<rect x="172.0" y="433.7" width="1" height="1" fill="#000"/>
<rect x="164.7" y="433.2" width="1" height="1" fill="#000"/>
<rect x="170.5" y="437.8" width="1" height="1" fill="#000"/>
<rect x="170.4" y="430.8" width="1" height="1" fill="#000"/>
<rect x="173.9" y="438.3" width="1" height="1" fill="#000"/>
<rect x="172.7" y="436.1" width="1" height="1" fill="#000"/>
<rect x="172.6" y="435.2" width="1" height="1" fill="#000"/>
<rect x="176.3" y="433.5" width="1" height="1" fill="#000"/>
<rect x="169.1" y="432.0" width="1" height="1" fill="#000"/>
<rect x="169.9" y="433.8" width="1" height="1" fill="#000"/>
<rect x="169.4" y="435.8" width="1" height="1" fill="#000"/>
<rect x="175.1" y="432.2" width="1" height="1" fill="#000"/>
<rect x="172.0" y="433.7" width="1" height="1" fill="#000"/>
<rect x="169.4" y="434.3" width="1" height="1" fill="#000"/>
<rect x="172.9" y="431.6" width="1" height="1" fill="#000"/>
<rect x="176.7" y="435.2" width="1" height="1" fill="#000"/>
<rect x="169.2" y="431.7" width="1" height="1" fill="#000"/>
<rect x="175.2" y="437.0" width="1" height="1" fill="#000"/>
<rect x="174.6" y="435.7" width="1" height="1" fill="#000"/>
<rect x="177.5" y="439.1" width="1" height="1" fill="#000"/>
<rect x="178.8" y="436.2" width="1" height="1" fill="#000"/>
<rect x="174.8" y="434.5" width="1" height="1" fill="#000"/>
<rect x="172.0" y="434.6" width="1" height="1" fill="#000"/>
<rect x="171.8" y="435.5" width="1" height="1" fill="#000"/>
<rect x="171.7" y="435.4" width="1" height="1" fill="#000"/>
<rect x="172.2" y="434.4" width="1" height="1" fill="#000"/>
<rect x="169.3" y="434.3" width="1" height="1" fill="#000"/>
<rect x="173.8" y="437.1" width="1" height="1" fill="#000"/>
<rect x="175.3" y="441.1" width="1" height="1" fill="#000"/>
<rect x="168.2" y="437.4" width="1" height="1" fill="#000"/>
<rect x="167.2" y="434.0" width="1" height="1" fill="#000"/>
<rect x="168.9" y="435.5" width="1" height="1" fill="#000"/>
<rect x="176.0" y="438.9" width="1" height="1" fill="#000"/>
<rect x="172.8" y="437.6" width="1" height="1" fill="#000"/>
<rect x="173.1" y="432.5" width="1" height="1" fill="#000"/>
<rect x="177.2" y="434.0" width="1" height="1" fill="#000"/>
<rect x="169.8" y="435.2" width="1" height="1" fill="#000"/>
<rect x="168.4" y="433.9" width="1" height="1" fill="#000"/>
<rect x="174.1" y="433.1" width="1" height="1" fill="#000"/>
<rect x="169.4" y="431.4" width="1" height="1" fill="#000"/>
<rect x="165.3" y="436.1" width="1" height="1" fill="#000"/>
<rect x="173.0" y="434.5" width="1" height="1" fill="#000"/>
<rect x="177.3" y="433.0" width="1" height="1" fill="#000"/>
<rect x="173.3" y="433.7" width="1" height="1" fill="#000"/>
<rect x="171.5" y="436.5" width="1" height="1" fill="#000"/>
<rect x="167.0" y="438.6" width="1" height="1" fill="#000"/>
<rect x="171.3" y="435.5" width="1" height="1" fill="#000"/>
<rect x="171.0" y="436.2" width="1" height="1" fill="#000"/>
<rect x="167.4" y="432.6" width="1" height="1" fill="#000"/>
<rect x="172.8" y="434.9" width="1" height="1" fill="#000"/>
<rect x="170.2" y="436.1" width="1" height="1" fill="#000"/>
<rect x="176.8" y="433.0" width="1" height="1" fill="#000"/>
<rect x="163.4" y="434.6" width="1" height="1" fill="#000"/>
<rect x="165.8" y="434.8" width="1" height="1" fill="#000"/>
<rect x="168.4" y="435.5" width="1" height="1" fill="#000"/>
<rect x="177.8" y="435.1" width="1" height="1" fill="#000"/>
<rect x="165.9" y="432.8" width="1" height="1" fill="#000"/>
<rect x="168.0" y="432.0" width="1" height="1" fill="#000"/>
<rect x="173.1" y="435.8" width="1" height="1" fill="#000"/>
<rect x="175.0" y="437.3" width="1" height="1" fill="#000"/>
<rect x="171.1" y="434.0" width="1" height="1" fill="#000"/>
<rect x="169.9" y="435.3" width="1" height="1" fill="#000"/>
<rect x="169.3" y="431.6" width="1" height="1" fill="#000"/>
<rect x="179.4" y="438.6" width="1" height="1" fill="#000"/>
<rect x="170.6" y="434.3" width="1" height="1" fill="#000"/>
<rect x="170.4" y="436.4" width="1" height="1" fill="#000"/>
<rect x="170.5" y="430.2" width="1" height="1" fill="#000"/>
<rect x="172.5" y="436.6" width="1" height="1" fill="#000"/>
<rect x="167.0" y="432.0" width="1" height="1" fill="#000"/>
<rect x="171.2" y="432.8" width="1" height="1" fill="#000"/>
<rect x="175.0" y="437.3" width="1" height="1" fill="#000"/>
<rect x="165.8" y="436.4" width="1" height="1" fill="#000"/>
<rect x="166.7" y="433.7" width="1" height="1" fill="#000"/>
<rect x="176.1" y="434.7" width="1" height="1" fill="#000"/>
<rect x="173.7" y="434.3" width="1" height="1" fill="#000"/>
<rect x="178.3" y="435.3" width="1" height="1" fill="#000"/>
<rect x="181.8" y="436.7" width="1" height="1" fill="#000"/>
<rect x="170.4" y="435.5" width="1" height="1" fill="#000"/>
<rect x="170.7" y="438.9" width="1" height="1" fill="#000"/>
<rect x="203.8" y="431.5" width="1" height="1" fill="#333"/>
<rect x="214.1" y="431.8" width="1" height="1" fill="#333"/>
<rect x="202.7" y="432.2" width="1" height="1" fill="#333"/>
<rect x="211.6" y="431.9" width="1" height="1" fill="#333"/>
<rect x="204.0" y="430.3" width="1" height="1" fill="#333"/>
<rect x="212.9" y="430.2" width="1" height="1" fill="#333"/>
<rect x="209.0" y="429.4" width="1" height="1" fill="#333"/>
<rect x="207.4" y="430.1" width="1" height="1" fill="#333"/>
<rect x="218.6" y="429.8" width="1" height="1" fill="#333"/>
<rect x="206.0" y="428.4" width="1" height="1" fill="#333"/>
<rect x="209.8" y="430.3" width="1" height="1" fill="#333"/>
<rect x="206.0" y="427.3" width="1" height="1" fill="#333"/>
<rect x="215.9" y="429.8" width="1" height="1" fill="#333"/>
<rect x="205.2" y="430.5" width="1" height="1" fill="#333"/>
<rect x="204.4" y="429.6" width="1" height="1" fill="#333"/>
<rect x="200.0" y="429.1" width="1" height="1" fill="#333"/>
<rect x="197.2" y="431.3" width="1" height="1" fill="#333"/>
<rect x="207.8" y="429.5" width="1" height="1" fill="#333"/>
<rect x="207.9" y="427.6" width="1" height="1" fill="#333"/>
<rect x="207.8" y="429.9" width="1" height="1" fill="#333"/>
<rect x="211.4" y="428.7" width="1" height="1" fill="#333"/>
<rect x="205.6" y="429.8" width="1" height="1" fill="#333"/>
<rect x="208.7" y="430.1" width="1" height="1" fill="#333"/>
<rect x="208.9" y="431.3" width="1" height="1" fill="#333"/>
<rect x="208.8" y="430.5" width="1" height="1" fill="#333"/>
<rect x="207.1" y="427.5" width="1" height="1" fill="#333"/>
<rect x="210.1" y="429.2" width="1" height="1" fill="#333"/>
<rect x="207.3" y="427.9" width="1" height="1" fill="#333"/>
<rect x="214.9" y="431.8" width="1" height="1" fill="#333"/>
<rect x="206.4" y="430.8" width="1" height="1" fill="#333"/>
<ellipse cx="171.6" cy="435.5" rx="5" ry="2.8" transform="rotate(-18 171.6 435.5)" fill="#000"/>
</g>
<rect x="163.2" y="401.9" width="56.20000000000002" height="37.700000000000045" fill="none" stroke="#555" stroke-width="0.8"/>
<line x1="163.2" y1="439.6" x2="219.4" y2="439.6" stroke="#111" stroke-width="1.3"/>
<line x1="163.2" y1="401.9" x2="163.2" y2="439.6" stroke="#222" stroke-width="1.1"/>
<line x1="181.3" y1="401.9" x2="181.3" y2="439.6" stroke="#000" stroke-width="1.5"/>
<line x1="162.7" y1="429.8" x2="219.4" y2="429.8" stroke="#000" stroke-width="1.5"/>
<line x1="163.2" y1="439.6" x2="163.2" y2="441.20000000000005" stroke="#222" stroke-width="0.8"/>
<line x1="161.6" y1="439.6" x2="163.2" y2="439.6" stroke="#222" stroke-width="0.8"/>
<line x1="177.25" y1="439.6" x2="177.25" y2="441.20000000000005" stroke="#222" stroke-width="0.8"/>
<line x1="161.6" y1="430.175" x2="163.2" y2="430.175" stroke="#222" stroke-width="0.8"/>
<line x1="191.3" y1="439.6" x2="191.3" y2="441.20000000000005" stroke="#222" stroke-width="0.8"/>
<line x1="161.6" y1="420.75" x2="163.2" y2="420.75" stroke="#222" stroke-width="0.8"/>
<line x1="205.35" y1="439.6" x2="205.35" y2="441.20000000000005" stroke="#222" stroke-width="0.8"/>
<line x1="161.6" y1="411.325" x2="163.2" y2="411.325" stroke="#222" stroke-width="0.8"/>
<line x1="219.4" y1="439.6" x2="219.4" y2="441.20000000000005" stroke="#222" stroke-width="0.8"/>
<line x1="161.6" y1="401.9" x2="163.2" y2="401.9" stroke="#222" stroke-width="0.8"/>
<line x1="167.42905" y1="439.6" x2="167.42905" y2="440.5" stroke="#444" stroke-width="0.5"/>
<line x1="162.29999999999998" y1="436.763075" x2="163.2" y2="436.763075" stroke="#444" stroke-width="0.5"/>
<line x1="169.90185" y1="439.6" x2="169.90185" y2="440.5" stroke="#444" stroke-width="0.5"/>
<line x1="162.29999999999998" y1="435.10427500000003" x2="163.2" y2="435.10427500000003" stroke="#444" stroke-width="0.5"/>
<line x1="171.6581" y1="439.6" x2="171.6581" y2="440.5" stroke="#444" stroke-width="0.5"/>
<line x1="162.29999999999998" y1="433.92615" x2="163.2" y2="433.92615" stroke="#444" stroke-width="0.5"/>
<line x1="173.02095" y1="439.6" x2="173.02095" y2="440.5" stroke="#444" stroke-width="0.5"/>
<line x1="162.29999999999998" y1="433.011925" x2="163.2" y2="433.011925" stroke="#444" stroke-width="0.5"/>
<line x1="174.1309" y1="439.6" x2="174.1309" y2="440.5" stroke="#444" stroke-width="0.5"/>
<line x1="162.29999999999998" y1="432.26735" x2="163.2" y2="432.26735" stroke="#444" stroke-width="0.5"/>
<line x1="175.07225" y1="439.6" x2="175.07225" y2="440.5" stroke="#444" stroke-width="0.5"/>
<line x1="162.29999999999998" y1="431.635875" x2="163.2" y2="431.635875" stroke="#444" stroke-width="0.5"/>
<line x1="175.88715" y1="439.6" x2="175.88715" y2="440.5" stroke="#444" stroke-width="0.5"/>
<line x1="162.29999999999998" y1="431.089225" x2="163.2" y2="431.089225" stroke="#444" stroke-width="0.5"/>
<line x1="176.6037" y1="439.6" x2="176.6037" y2="440.5" stroke="#444" stroke-width="0.5"/>
<line x1="162.29999999999998" y1="430.60855000000004" x2="163.2" y2="430.60855000000004" stroke="#444" stroke-width="0.5"/>
<line x1="181.47905" y1="439.6" x2="181.47905" y2="440.5" stroke="#444" stroke-width="0.5"/>
<line x1="162.29999999999998" y1="427.338075" x2="163.2" y2="427.338075" stroke="#444" stroke-width="0.5"/>
<line x1="183.95184999999998" y1="439.6" x2="183.95184999999998" y2="440.5" stroke="#444" stroke-width="0.5"/>
<line x1="162.29999999999998" y1="425.679275" x2="163.2" y2="425.679275" stroke="#444" stroke-width="0.5"/>
<line x1="185.7081" y1="439.6" x2="185.7081" y2="440.5" stroke="#444" stroke-width="0.5"/>
<line x1="162.29999999999998" y1="424.50115" x2="163.2" y2="424.50115" stroke="#444" stroke-width="0.5"/>
<line x1="187.07094999999998" y1="439.6" x2="187.07094999999998" y2="440.5" stroke="#444" stroke-width="0.5"/>
<line x1="162.29999999999998" y1="423.586925" x2="163.2" y2="423.586925" stroke="#444" stroke-width="0.5"/>
<line x1="188.1809" y1="439.6" x2="188.1809" y2="440.5" stroke="#444" stroke-width="0.5"/>
<line x1="162.29999999999998" y1="422.84235" x2="163.2" y2="422.84235" stroke="#444" stroke-width="0.5"/>
<line x1="189.12225" y1="439.6" x2="189.12225" y2="440.5" stroke="#444" stroke-width="0.5"/>
<line x1="162.29999999999998" y1="422.210875" x2="163.2" y2="422.210875" stroke="#444" stroke-width="0.5"/>
<line x1="189.93715" y1="439.6" x2="189.93715" y2="440.5" stroke="#444" stroke-width="0.5"/>
<line x1="162.29999999999998" y1="421.664225" x2="163.2" y2="421.664225" stroke="#444" stroke-width="0.5"/>
<line x1="190.6537" y1="439.6" x2="190.6537" y2="440.5" stroke="#444" stroke-width="0.5"/>
<line x1="162.29999999999998" y1="421.18355" x2="163.2" y2="421.18355" stroke="#444" stroke-width="0.5"/>
<line x1="195.52904999999998" y1="439.6" x2="195.52904999999998" y2="440.5" stroke="#444" stroke-width="0.5"/>
<line x1="162.29999999999998" y1="417.913075" x2="163.2" y2="417.913075" stroke="#444" stroke-width="0.5"/>
<line x1="198.00185" y1="439.6" x2="198.00185" y2="440.5" stroke="#444" stroke-width="0.5"/>
<line x1="162.29999999999998" y1="416.254275" x2="163.2" y2="416.254275" stroke="#444" stroke-width="0.5"/>
<line x1="199.7581" y1="439.6" x2="199.7581" y2="440.5" stroke="#444" stroke-width="0.5"/>
<line x1="162.29999999999998" y1="415.07615" x2="163.2" y2="415.07615" stroke="#444" stroke-width="0.5"/>
<line x1="201.12095" y1="439.6" x2="201.12095" y2="440.5" stroke="#444" stroke-width="0.5"/>
<line x1="162.29999999999998" y1="414.161925" x2="163.2" y2="414.161925" stroke="#444" stroke-width="0.5"/>
<line x1="202.2309" y1="439.6" x2="202.2309" y2="440.5" stroke="#444" stroke-width="0.5"/>
<line x1="162.29999999999998" y1="413.41735" x2="163.2" y2="413.41735" stroke="#444" stroke-width="0.5"/>
<line x1="203.17225" y1="439.6" x2="203.17225" y2="440.5" stroke="#444" stroke-width="0.5"/>
<line x1="162.29999999999998" y1="412.785875" x2="163.2" y2="412.785875" stroke="#444" stroke-width="0.5"/>
<line x1="203.98714999999999" y1="439.6" x2="203.98714999999999" y2="440.5" stroke="#444" stroke-width="0.5"/>
<line x1="162.29999999999998" y1="412.239225" x2="163.2" y2="412.239225" stroke="#444" stroke-width="0.5"/>
<line x1="204.7037" y1="439.6" x2="204.7037" y2="440.5" stroke="#444" stroke-width="0.5"/>
<line x1="162.29999999999998" y1="411.75855" x2="163.2" y2="411.75855" stroke="#444" stroke-width="0.5"/>
<line x1="209.57905" y1="439.6" x2="209.57905" y2="440.5" stroke="#444" stroke-width="0.5"/>
<line x1="162.29999999999998" y1="408.488075" x2="163.2" y2="408.488075" stroke="#444" stroke-width="0.5"/>
<line x1="212.05185" y1="439.6" x2="212.05185" y2="440.5" stroke="#444" stroke-width="0.5"/>
<line x1="162.29999999999998" y1="406.829275" x2="163.2" y2="406.829275" stroke="#444" stroke-width="0.5"/>
<line x1="213.8081" y1="439.6" x2="213.8081" y2="440.5" stroke="#444" stroke-width="0.5"/>
<line x1="162.29999999999998" y1="405.65115" x2="163.2" y2="405.65115" stroke="#444" stroke-width="0.5"/>
<line x1="215.17095" y1="439.6" x2="215.17095" y2="440.5" stroke="#444" stroke-width="0.5"/>
<line x1="162.29999999999998" y1="404.736925" x2="163.2" y2="404.736925" stroke="#444" stroke-width="0.5"/>
<line x1="216.2809" y1="439.6" x2="216.2809" y2="440.5" stroke="#444" stroke-width="0.5"/>
<line x1="162.29999999999998" y1="403.99235" x2="163.2" y2="403.99235" stroke="#444" stroke-width="0.5"/>
<line x1="217.22225" y1="439.6" x2="217.22225" y2="440.5" stroke="#444" stroke-width="0.5"/>
<line x1="162.29999999999998" y1="403.36087499999996" x2="163.2" y2="403.36087499999996" stroke="#444" stroke-width="0.5"/>
<line x1="218.03715" y1="439.6" x2="218.03715" y2="440.5" stroke="#444" stroke-width="0.5"/>
<line x1="162.29999999999998" y1="402.81422499999996" x2="163.2" y2="402.81422499999996" stroke="#444" stroke-width="0.5"/>
<line x1="218.7537" y1="439.6" x2="218.7537" y2="440.5" stroke="#444" stroke-width="0.5"/>
<line x1="162.29999999999998" y1="402.33355" x2="163.2" y2="402.33355" stroke="#444" stroke-width="0.5"/>
<text x="163.7" y="447.6" font-size="5.3" text-anchor="middle" stroke="none" fill="#3a3a3a">10<tspan font-size="3.71" dy="-2">0</tspan></text>
<text x="158.79999999999998" y="437.8" font-size="5.3" text-anchor="middle" stroke="none" fill="#3a3a3a" transform="rotate(-90 158.79999999999998 437.8)">10<tspan font-size="3.71" dy="-2">0</tspan></text>
<text x="177.75" y="447.6" font-size="5.3" text-anchor="middle" stroke="none" fill="#3a3a3a">10<tspan font-size="3.71" dy="-2">1</tspan></text>
<text x="158.79999999999998" y="428.375" font-size="5.3" text-anchor="middle" stroke="none" fill="#3a3a3a" transform="rotate(-90 158.79999999999998 428.375)">10<tspan font-size="3.71" dy="-2">1</tspan></text>
<text x="191.8" y="447.6" font-size="5.3" text-anchor="middle" stroke="none" fill="#3a3a3a">10<tspan font-size="3.71" dy="-2">2</tspan></text>
<text x="158.79999999999998" y="418.95" font-size="5.3" text-anchor="middle" stroke="none" fill="#3a3a3a" transform="rotate(-90 158.79999999999998 418.95)">10<tspan font-size="3.71" dy="-2">2</tspan></text>
<text x="205.85" y="447.6" font-size="5.3" text-anchor="middle" stroke="none" fill="#3a3a3a">10<tspan font-size="3.71" dy="-2">3</tspan></text>
<text x="158.79999999999998" y="409.525" font-size="5.3" text-anchor="middle" stroke="none" fill="#3a3a3a" transform="rotate(-90 158.79999999999998 409.525)">10<tspan font-size="3.71" dy="-2">3</tspan></text>
<text x="219.9" y="447.6" font-size="5.3" text-anchor="middle" stroke="none" fill="#3a3a3a">10<tspan font-size="3.71" dy="-2">4</tspan></text>
<text x="158.79999999999998" y="400.09999999999997" font-size="5.3" text-anchor="middle" stroke="none" fill="#3a3a3a" transform="rotate(-90 158.79999999999998 400.09999999999997)">10<tspan font-size="3.71" dy="-2">4</tspan></text>
<clipPath id="fc7"><rect x="83" y="456.5" width="55.5" height="38.0"/></clipPath><g clip-path="url(#fc7)">
<rect x="109.8" y="487.2" width="0.9" height="0.9" fill="#999"/>
<rect x="117.6" y="486.6" width="0.9" height="0.9" fill="#999"/>
<rect x="114.9" y="488.9" width="0.9" height="0.9" fill="#999"/>
<rect x="103.4" y="490.1" width="0.9" height="0.9" fill="#999"/>
<rect x="102.9" y="489.5" width="0.9" height="0.9" fill="#999"/>
<rect x="103.7" y="486.7" width="0.9" height="0.9" fill="#999"/>
<rect x="112.2" y="492.6" width="0.9" height="0.9" fill="#999"/>
<rect x="105.0" y="487.8" width="0.9" height="0.9" fill="#999"/>
<rect x="117.1" y="493.6" width="0.9" height="0.9" fill="#999"/>
<rect x="115.9" y="489.2" width="0.9" height="0.9" fill="#999"/>
<rect x="125.4" y="486.4" width="0.9" height="0.9" fill="#999"/>
<rect x="122.6" y="488.3" width="0.9" height="0.9" fill="#999"/>
<rect x="105.5" y="486.9" width="0.9" height="0.9" fill="#999"/>
<rect x="109.4" y="492.5" width="0.9" height="0.9" fill="#999"/>
<rect x="106.3" y="490.7" width="0.9" height="0.9" fill="#999"/>
<rect x="117.3" y="489.0" width="0.9" height="0.9" fill="#999"/>
<rect x="115.1" y="486.5" width="0.9" height="0.9" fill="#999"/>
<rect x="103.4" y="487.6" width="0.9" height="0.9" fill="#999"/>
<rect x="118.3" y="489.4" width="0.9" height="0.9" fill="#999"/>
<rect x="109.5" y="490.7" width="0.9" height="0.9" fill="#999"/>
<rect x="112.9" y="488.4" width="0.9" height="0.9" fill="#999"/>
<rect x="121.1" y="491.6" width="0.9" height="0.9" fill="#999"/>
<rect x="107.9" y="490.6" width="0.9" height="0.9" fill="#999"/>
<rect x="114.6" y="493.0" width="0.9" height="0.9" fill="#999"/>
<rect x="119.5" y="488.3" width="0.9" height="0.9" fill="#999"/>
<rect x="125.5" y="486.9" width="0.9" height="0.9" fill="#999"/>
<rect x="112.0" y="492.1" width="0.9" height="0.9" fill="#999"/>
<rect x="105.6" y="489.9" width="0.9" height="0.9" fill="#999"/>
<rect x="102.9" y="491.3" width="0.9" height="0.9" fill="#999"/>
<rect x="120.3" y="490.6" width="0.9" height="0.9" fill="#999"/>
<rect x="123.0" y="488.5" width="0.9" height="0.9" fill="#999"/>
<rect x="118.7" y="490.8" width="0.9" height="0.9" fill="#999"/>
<rect x="115.9" y="489.6" width="0.9" height="0.9" fill="#999"/>
<rect x="122.2" y="493.6" width="0.9" height="0.9" fill="#999"/>
<rect x="113.4" y="491.3" width="0.9" height="0.9" fill="#999"/>
<rect x="103.5" y="491.6" width="0.9" height="0.9" fill="#999"/>
<rect x="117.5" y="493.9" width="0.9" height="0.9" fill="#999"/>
<rect x="121.7" y="488.3" width="0.9" height="0.9" fill="#999"/>
<rect x="111.3" y="491.3" width="0.9" height="0.9" fill="#999"/>
<rect x="102.5" y="489.7" width="0.9" height="0.9" fill="#999"/>
<rect x="106.0" y="486.9" width="0.9" height="0.9" fill="#999"/>
<rect x="103.4" y="492.1" width="0.9" height="0.9" fill="#999"/>
<rect x="105.1" y="488.0" width="0.9" height="0.9" fill="#999"/>
<rect x="111.4" y="493.0" width="0.9" height="0.9" fill="#999"/>
<rect x="103.9" y="489.6" width="0.9" height="0.9" fill="#999"/>
<rect x="115.2" y="493.1" width="0.9" height="0.9" fill="#999"/>
<rect x="121.7" y="492.9" width="0.9" height="0.9" fill="#999"/>
<rect x="108.7" y="489.3" width="0.9" height="0.9" fill="#999"/>
<rect x="110.6" y="493.1" width="0.9" height="0.9" fill="#999"/>
<rect x="125.0" y="487.2" width="0.9" height="0.9" fill="#999"/>
<rect x="106.2" y="487.9" width="0.9" height="0.9" fill="#999"/>
<rect x="107.6" y="489.9" width="0.9" height="0.9" fill="#999"/>
<rect x="116.1" y="488.1" width="0.9" height="0.9" fill="#999"/>
<rect x="102.1" y="489.4" width="0.9" height="0.9" fill="#999"/>
<rect x="110.9" y="490.5" width="0.9" height="0.9" fill="#999"/>
<rect x="124.9" y="491.5" width="0.9" height="0.9" fill="#999"/>
<rect x="114.4" y="490.9" width="0.9" height="0.9" fill="#999"/>
<rect x="118.2" y="486.4" width="0.9" height="0.9" fill="#999"/>
<rect x="123.6" y="492.2" width="0.9" height="0.9" fill="#999"/>
<rect x="123.0" y="492.4" width="0.9" height="0.9" fill="#999"/>
<rect x="111.4" y="489.2" width="0.9" height="0.9" fill="#999"/>
<rect x="104.5" y="491.1" width="0.9" height="0.9" fill="#999"/>
<rect x="103.5" y="486.5" width="0.9" height="0.9" fill="#999"/>
<rect x="107.0" y="487.3" width="0.9" height="0.9" fill="#999"/>
<rect x="110.2" y="486.4" width="0.9" height="0.9" fill="#999"/>
<rect x="102.0" y="487.2" width="0.9" height="0.9" fill="#999"/>
<rect x="104.4" y="488.9" width="0.9" height="0.9" fill="#999"/>
<rect x="102.6" y="493.0" width="0.9" height="0.9" fill="#999"/>
<rect x="116.7" y="487.2" width="0.9" height="0.9" fill="#999"/>
<rect x="108.1" y="488.8" width="0.9" height="0.9" fill="#999"/>
<rect x="110.7" y="487.0" width="0.9" height="0.9" fill="#999"/>
<rect x="122.4" y="493.9" width="0.9" height="0.9" fill="#999"/>
<rect x="113.2" y="489.9" width="0.9" height="0.9" fill="#999"/>
<rect x="104.1" y="486.8" width="0.9" height="0.9" fill="#999"/>
<rect x="110.2" y="488.1" width="0.9" height="0.9" fill="#999"/>
<rect x="121.9" y="487.3" width="0.9" height="0.9" fill="#999"/>
<rect x="102.6" y="493.6" width="0.9" height="0.9" fill="#999"/>
<rect x="114.7" y="487.2" width="0.9" height="0.9" fill="#999"/>
<rect x="115.0" y="486.2" width="0.9" height="0.9" fill="#999"/>
<rect x="114.7" y="493.8" width="0.9" height="0.9" fill="#999"/>
<rect x="131.8" y="479.4" width="0.9" height="0.9" fill="#999"/>
<rect x="113.1" y="475.0" width="0.9" height="0.9" fill="#999"/>
<rect x="110.2" y="480.4" width="0.9" height="0.9" fill="#999"/>
<rect x="121.5" y="480.5" width="0.9" height="0.9" fill="#999"/>
<rect x="115.2" y="473.0" width="0.9" height="0.9" fill="#999"/>
<rect x="130.2" y="483.3" width="0.9" height="0.9" fill="#999"/>
<rect x="131.4" y="480.9" width="0.9" height="0.9" fill="#999"/>
<rect x="130.4" y="480.0" width="0.9" height="0.9" fill="#999"/>
<rect x="112.0" y="477.0" width="0.9" height="0.9" fill="#999"/>
<rect x="116.0" y="470.4" width="0.9" height="0.9" fill="#999"/>
<rect x="102.9" y="461.4" width="0.9" height="0.9" fill="#aaa"/>
<rect x="110.8" y="466.3" width="0.9" height="0.9" fill="#aaa"/>
<rect x="134.5" y="463.4" width="0.9" height="0.9" fill="#aaa"/>
<rect x="133.9" y="469.9" width="0.9" height="0.9" fill="#aaa"/>
<rect x="96.1" y="489.6" width="1" height="1" fill="#000"/>
<rect x="92.6" y="492.1" width="1" height="1" fill="#000"/>
<rect x="93.0" y="492.0" width="1" height="1" fill="#000"/>
<rect x="85.1" y="486.4" width="1" height="1" fill="#000"/>
<rect x="94.8" y="487.8" width="1" height="1" fill="#000"/>
<rect x="87.4" y="486.5" width="1" height="1" fill="#000"/>
<rect x="97.7" y="492.2" width="1" height="1" fill="#000"/>
<rect x="98.6" y="487.9" width="1" height="1" fill="#000"/>
<rect x="92.0" y="487.3" width="1" height="1" fill="#000"/>
<rect x="95.4" y="494.4" width="1" height="1" fill="#000"/>
<rect x="88.0" y="494.4" width="1" height="1" fill="#000"/>
<rect x="96.4" y="489.8" width="1" height="1" fill="#000"/>
<rect x="83.1" y="494.0" width="1" height="1" fill="#000"/>
<rect x="91.6" y="488.7" width="1" height="1" fill="#000"/>
<rect x="93.8" y="491.4" width="1" height="1" fill="#000"/>
<rect x="98.7" y="487.6" width="1" height="1" fill="#000"/>
<rect x="97.1" y="494.2" width="1" height="1" fill="#000"/>
<rect x="98.5" y="489.8" width="1" height="1" fill="#000"/>
<rect x="88.7" y="492.9" width="1" height="1" fill="#000"/>
<rect x="92.5" y="490.6" width="1" height="1" fill="#000"/>
<rect x="98.4" y="489.6" width="1" height="1" fill="#000"/>
<rect x="81.7" y="489.3" width="1" height="1" fill="#000"/>
<rect x="83.7" y="492.4" width="1" height="1" fill="#000"/>
<rect x="93.4" y="488.7" width="1" height="1" fill="#000"/>
<rect x="92.0" y="492.5" width="1" height="1" fill="#000"/>
<rect x="92.4" y="493.7" width="1" height="1" fill="#000"/>
<rect x="91.7" y="493.0" width="1" height="1" fill="#000"/>
<rect x="98.7" y="494.5" width="1" height="1" fill="#000"/>
<rect x="89.0" y="492.6" width="1" height="1" fill="#000"/>
<rect x="83.6" y="487.5" width="1" height="1" fill="#000"/>
<rect x="83.2" y="493.1" width="1" height="1" fill="#000"/>
<rect x="86.5" y="490.3" width="1" height="1" fill="#000"/>
<rect x="91.1" y="490.2" width="1" height="1" fill="#000"/>
<rect x="89.3" y="490.9" width="1" height="1" fill="#000"/>
<rect x="100.1" y="490.4" width="1" height="1" fill="#000"/>
<rect x="94.4" y="492.9" width="1" height="1" fill="#000"/>
<rect x="91.1" y="487.0" width="1" height="1" fill="#000"/>
<rect x="89.5" y="493.1" width="1" height="1" fill="#000"/>
<rect x="84.6" y="488.7" width="1" height="1" fill="#000"/>
<rect x="96.5" y="492.4" width="1" height="1" fill="#000"/>
<rect x="92.0" y="492.4" width="1" height="1" fill="#000"/>
<rect x="92.7" y="487.2" width="1" height="1" fill="#000"/>
<rect x="85.0" y="488.6" width="1" height="1" fill="#000"/>
<rect x="96.2" y="488.8" width="1" height="1" fill="#000"/>
<rect x="87.9" y="488.3" width="1" height="1" fill="#000"/>
<rect x="85.1" y="490.0" width="1" height="1" fill="#000"/>
<rect x="86.7" y="491.2" width="1" height="1" fill="#000"/>
<rect x="81.4" y="491.2" width="1" height="1" fill="#000"/>
<rect x="89.1" y="485.3" width="1" height="1" fill="#000"/>
<rect x="95.3" y="489.6" width="1" height="1" fill="#000"/>
<rect x="82.0" y="488.0" width="1" height="1" fill="#000"/>
<rect x="93.3" y="489.1" width="1" height="1" fill="#000"/>
<rect x="95.5" y="492.2" width="1" height="1" fill="#000"/>
<rect x="95.0" y="491.1" width="1" height="1" fill="#000"/>
<rect x="98.0" y="492.0" width="1" height="1" fill="#000"/>
<rect x="94.0" y="484.9" width="1" height="1" fill="#000"/>
<rect x="96.0" y="493.7" width="1" height="1" fill="#000"/>
<rect x="90.7" y="489.1" width="1" height="1" fill="#000"/>
<rect x="100.7" y="485.7" width="1" height="1" fill="#000"/>
<rect x="94.1" y="496.6" width="1" height="1" fill="#000"/>
<rect x="87.8" y="492.1" width="1" height="1" fill="#000"/>
<rect x="100.5" y="490.0" width="1" height="1" fill="#000"/>
<rect x="94.5" y="492.6" width="1" height="1" fill="#000"/>
<rect x="87.9" y="490.1" width="1" height="1" fill="#000"/>
<rect x="93.3" y="492.4" width="1" height="1" fill="#000"/>
<rect x="91.8" y="489.8" width="1" height="1" fill="#000"/>
<rect x="87.4" y="489.4" width="1" height="1" fill="#000"/>
<rect x="96.0" y="490.6" width="1" height="1" fill="#000"/>
<rect x="88.2" y="488.1" width="1" height="1" fill="#000"/>
<rect x="104.0" y="493.3" width="1" height="1" fill="#000"/>
<rect x="94.9" y="483.6" width="1" height="1" fill="#000"/>
<rect x="94.8" y="491.5" width="1" height="1" fill="#000"/>
<rect x="99.6" y="491.4" width="1" height="1" fill="#000"/>
<rect x="91.7" y="491.7" width="1" height="1" fill="#000"/>
<rect x="83.3" y="493.0" width="1" height="1" fill="#000"/>
<rect x="93.5" y="488.5" width="1" height="1" fill="#000"/>
<rect x="98.0" y="495.0" width="1" height="1" fill="#000"/>
<rect x="85.7" y="488.6" width="1" height="1" fill="#000"/>
<rect x="93.3" y="490.8" width="1" height="1" fill="#000"/>
<rect x="90.2" y="487.8" width="1" height="1" fill="#000"/>
<rect x="101.5" y="493.0" width="1" height="1" fill="#000"/>
<rect x="86.6" y="486.8" width="1" height="1" fill="#000"/>
<rect x="99.7" y="492.9" width="1" height="1" fill="#000"/>
<rect x="100.2" y="492.4" width="1" height="1" fill="#000"/>
<rect x="88.1" y="491.0" width="1" height="1" fill="#000"/>
<rect x="82.3" y="488.4" width="1" height="1" fill="#000"/>
<rect x="91.7" y="491.7" width="1" height="1" fill="#000"/>
<rect x="88.7" y="490.0" width="1" height="1" fill="#000"/>
<rect x="94.1" y="491.3" width="1" height="1" fill="#000"/>
<rect x="94.9" y="490.8" width="1" height="1" fill="#000"/>
<rect x="90.5" y="492.4" width="1" height="1" fill="#000"/>
<rect x="92.2" y="488.2" width="1" height="1" fill="#000"/>
<rect x="89.2" y="490.3" width="1" height="1" fill="#000"/>
<rect x="91.5" y="490.7" width="1" height="1" fill="#000"/>
<rect x="92.0" y="490.8" width="1" height="1" fill="#000"/>
<rect x="91.4" y="487.0" width="1" height="1" fill="#000"/>
<rect x="93.9" y="493.0" width="1" height="1" fill="#000"/>
<rect x="94.0" y="489.8" width="1" height="1" fill="#000"/>
<rect x="94.0" y="487.8" width="1" height="1" fill="#000"/>
<rect x="83.5" y="490.5" width="1" height="1" fill="#000"/>
<rect x="87.8" y="492.2" width="1" height="1" fill="#000"/>
<rect x="87.1" y="483.5" width="1" height="1" fill="#000"/>
<rect x="87.3" y="494.4" width="1" height="1" fill="#000"/>
<rect x="90.3" y="486.7" width="1" height="1" fill="#000"/>
<rect x="88.6" y="491.7" width="1" height="1" fill="#000"/>
<rect x="94.2" y="490.8" width="1" height="1" fill="#000"/>
<rect x="98.7" y="492.1" width="1" height="1" fill="#000"/>
<rect x="91.9" y="491.9" width="1" height="1" fill="#000"/>
<rect x="99.4" y="492.8" width="1" height="1" fill="#000"/>
<rect x="96.6" y="487.5" width="1" height="1" fill="#000"/>
<rect x="91.3" y="492.2" width="1" height="1" fill="#000"/>
<rect x="90.7" y="493.1" width="1" height="1" fill="#000"/>
<rect x="94.7" y="492.7" width="1" height="1" fill="#000"/>
<rect x="91.0" y="496.9" width="1" height="1" fill="#000"/>
<rect x="97.6" y="489.7" width="1" height="1" fill="#000"/>
<rect x="92.4" y="497.0" width="1" height="1" fill="#000"/>
<rect x="90.5" y="492.6" width="1" height="1" fill="#000"/>
<rect x="96.4" y="490.3" width="1" height="1" fill="#000"/>
<rect x="86.7" y="490.8" width="1" height="1" fill="#000"/>
<rect x="93.6" y="493.2" width="1" height="1" fill="#000"/>
<rect x="95.5" y="490.4" width="1" height="1" fill="#000"/>
<rect x="95.8" y="491.7" width="1" height="1" fill="#000"/>
<rect x="92.9" y="490.4" width="1" height="1" fill="#000"/>
<rect x="90.9" y="492.1" width="1" height="1" fill="#000"/>
<rect x="87.3" y="488.7" width="1" height="1" fill="#000"/>
<rect x="92.0" y="486.5" width="1" height="1" fill="#000"/>
<rect x="90.0" y="485.1" width="1" height="1" fill="#000"/>
<rect x="88.9" y="491.8" width="1" height="1" fill="#000"/>
<rect x="94.5" y="490.2" width="1" height="1" fill="#000"/>
<rect x="91.0" y="486.6" width="1" height="1" fill="#000"/>
<rect x="100.2" y="491.6" width="1" height="1" fill="#000"/>
<rect x="96.9" y="488.0" width="1" height="1" fill="#000"/>
<rect x="91.2" y="485.6" width="1" height="1" fill="#000"/>
<rect x="95.5" y="492.7" width="1" height="1" fill="#000"/>
<rect x="83.5" y="490.2" width="1" height="1" fill="#000"/>
<rect x="94.8" y="485.7" width="1" height="1" fill="#000"/>
<rect x="83.8" y="487.5" width="1" height="1" fill="#000"/>
<rect x="89.2" y="486.7" width="1" height="1" fill="#000"/>
<rect x="92.1" y="490.9" width="1" height="1" fill="#000"/>
<rect x="94.9" y="492.1" width="1" height="1" fill="#000"/>
<rect x="98.8" y="493.3" width="1" height="1" fill="#000"/>
<rect x="86.1" y="489.0" width="1" height="1" fill="#000"/>
<rect x="87.2" y="487.5" width="1" height="1" fill="#000"/>
<rect x="91.6" y="490.3" width="1" height="1" fill="#000"/>
<rect x="94.2" y="486.2" width="1" height="1" fill="#000"/>
<rect x="86.4" y="490.2" width="1" height="1" fill="#000"/>
<rect x="91.1" y="489.5" width="1" height="1" fill="#000"/>
<rect x="91.7" y="488.3" width="1" height="1" fill="#000"/>
<rect x="95.2" y="491.2" width="1" height="1" fill="#000"/>
<rect x="91.6" y="488.6" width="1" height="1" fill="#000"/>
<rect x="91.2" y="483.2" width="1" height="1" fill="#000"/>
<rect x="87.6" y="490.4" width="1" height="1" fill="#000"/>
<rect x="85.2" y="490.8" width="1" height="1" fill="#000"/>
<rect x="92.7" y="486.7" width="1" height="1" fill="#000"/>
<rect x="90.9" y="489.5" width="1" height="1" fill="#000"/>
<rect x="94.1" y="491.9" width="1" height="1" fill="#000"/>
<rect x="91.8" y="488.1" width="1" height="1" fill="#000"/>
<rect x="91.4" y="490.1" width="1" height="1" fill="#000"/>
<rect x="95.3" y="491.1" width="1" height="1" fill="#000"/>
<rect x="88.7" y="486.8" width="1" height="1" fill="#000"/>
<rect x="90.3" y="488.4" width="1" height="1" fill="#000"/>
<rect x="87.0" y="490.0" width="1" height="1" fill="#000"/>
<rect x="89.8" y="490.6" width="1" height="1" fill="#000"/>
<rect x="94.4" y="489.2" width="1" height="1" fill="#000"/>
<rect x="102.5" y="489.5" width="1" height="1" fill="#000"/>
<rect x="97.0" y="490.6" width="1" height="1" fill="#000"/>
<rect x="97.0" y="484.1" width="1" height="1" fill="#000"/>
<rect x="88.6" y="490.9" width="1" height="1" fill="#000"/>
<rect x="94.7" y="496.4" width="1" height="1" fill="#000"/>
<rect x="93.5" y="493.6" width="1" height="1" fill="#000"/>
<rect x="95.4" y="492.8" width="1" height="1" fill="#000"/>
<rect x="94.3" y="489.9" width="1" height="1" fill="#000"/>
<rect x="94.3" y="487.5" width="1" height="1" fill="#000"/>
<rect x="97.3" y="487.7" width="1" height="1" fill="#000"/>
<rect x="93.1" y="495.8" width="1" height="1" fill="#000"/>
<rect x="91.0" y="490.4" width="1" height="1" fill="#000"/>
<rect x="97.2" y="490.4" width="1" height="1" fill="#000"/>
<rect x="88.4" y="491.0" width="1" height="1" fill="#000"/>
<rect x="94.6" y="492.1" width="1" height="1" fill="#000"/>
<rect x="88.5" y="494.9" width="1" height="1" fill="#000"/>
<rect x="99.5" y="490.3" width="1" height="1" fill="#000"/>
<rect x="93.2" y="489.2" width="1" height="1" fill="#000"/>
<rect x="98.4" y="488.5" width="1" height="1" fill="#000"/>
<rect x="95.0" y="489.1" width="1" height="1" fill="#000"/>
<rect x="88.9" y="492.2" width="1" height="1" fill="#000"/>
<rect x="98.0" y="490.3" width="1" height="1" fill="#000"/>
<rect x="89.0" y="492.4" width="1" height="1" fill="#000"/>
<rect x="91.8" y="491.1" width="1" height="1" fill="#000"/>
<rect x="98.9" y="493.2" width="1" height="1" fill="#000"/>
<rect x="89.7" y="496.2" width="1" height="1" fill="#000"/>
<rect x="92.0" y="492.3" width="1" height="1" fill="#000"/>
<rect x="89.1" y="490.2" width="1" height="1" fill="#000"/>
<rect x="84.1" y="494.9" width="1" height="1" fill="#000"/>
<rect x="98.1" y="487.1" width="1" height="1" fill="#000"/>
<rect x="85.2" y="486.1" width="1" height="1" fill="#000"/>
<rect x="97.3" y="489.1" width="1" height="1" fill="#000"/>
<rect x="91.7" y="489.5" width="1" height="1" fill="#000"/>
<rect x="91.5" y="487.5" width="1" height="1" fill="#000"/>
<rect x="92.1" y="486.6" width="1" height="1" fill="#000"/>
<rect x="91.7" y="491.1" width="1" height="1" fill="#000"/>
<rect x="107.9" y="488.4" width="1" height="1" fill="#333"/>
<rect x="102.4" y="489.4" width="1" height="1" fill="#333"/>
<rect x="104.1" y="492.9" width="1" height="1" fill="#333"/>
<rect x="109.1" y="488.7" width="1" height="1" fill="#333"/>
<rect x="104.1" y="487.2" width="1" height="1" fill="#333"/>
<rect x="102.3" y="488.1" width="1" height="1" fill="#333"/>
<rect x="107.2" y="490.3" width="1" height="1" fill="#333"/>
<rect x="108.3" y="494.2" width="1" height="1" fill="#333"/>
<rect x="103.2" y="489.0" width="1" height="1" fill="#333"/>
<rect x="117.2" y="484.3" width="1" height="1" fill="#333"/>
<rect x="103.9" y="489.4" width="1" height="1" fill="#333"/>
<rect x="106.6" y="490.0" width="1" height="1" fill="#333"/>
<rect x="105.0" y="489.9" width="1" height="1" fill="#333"/>
<rect x="106.2" y="490.9" width="1" height="1" fill="#333"/>
<rect x="98.4" y="486.8" width="1" height="1" fill="#333"/>
<rect x="106.0" y="486.4" width="1" height="1" fill="#333"/>
<rect x="101.8" y="490.6" width="1" height="1" fill="#333"/>
<rect x="103.4" y="490.6" width="1" height="1" fill="#333"/>
<rect x="109.0" y="489.8" width="1" height="1" fill="#333"/>
<rect x="108.0" y="488.7" width="1" height="1" fill="#333"/>
<rect x="100.4" y="488.9" width="1" height="1" fill="#333"/>
<rect x="107.8" y="487.7" width="1" height="1" fill="#333"/>
<rect x="105.6" y="490.9" width="1" height="1" fill="#333"/>
<rect x="102.5" y="490.6" width="1" height="1" fill="#333"/>
<rect x="113.5" y="487.6" width="1" height="1" fill="#333"/>
<rect x="106.6" y="488.6" width="1" height="1" fill="#333"/>
<rect x="112.2" y="489.8" width="1" height="1" fill="#333"/>
<rect x="109.6" y="487.3" width="1" height="1" fill="#333"/>
<rect x="105.9" y="489.0" width="1" height="1" fill="#333"/>
<rect x="98.9" y="492.6" width="1" height="1" fill="#333"/>
<rect x="109.6" y="484.6" width="1" height="1" fill="#333"/>
<rect x="109.0" y="488.7" width="1" height="1" fill="#333"/>
<rect x="107.8" y="489.9" width="1" height="1" fill="#333"/>
<rect x="100.0" y="488.5" width="1" height="1" fill="#333"/>
<rect x="112.0" y="487.6" width="1" height="1" fill="#333"/>
<rect x="101.9" y="485.6" width="1" height="1" fill="#333"/>
<rect x="101.1" y="489.8" width="1" height="1" fill="#333"/>
<rect x="112.8" y="490.1" width="1" height="1" fill="#333"/>
<rect x="107.0" y="494.6" width="1" height="1" fill="#333"/>
<rect x="103.9" y="487.3" width="1" height="1" fill="#333"/>
<rect x="108.1" y="490.4" width="1" height="1" fill="#333"/>
<rect x="101.9" y="486.1" width="1" height="1" fill="#333"/>
<rect x="107.2" y="489.6" width="1" height="1" fill="#333"/>
<rect x="100.8" y="488.5" width="1" height="1" fill="#333"/>
<rect x="103.8" y="490.2" width="1" height="1" fill="#333"/>
<rect x="105.5" y="488.8" width="1" height="1" fill="#333"/>
<rect x="104.6" y="491.6" width="1" height="1" fill="#333"/>
<rect x="111.6" y="488.1" width="1" height="1" fill="#333"/>
<rect x="109.4" y="487.1" width="1" height="1" fill="#333"/>
<rect x="106.3" y="490.9" width="1" height="1" fill="#333"/>
<rect x="112.1" y="488.0" width="1" height="1" fill="#333"/>
<rect x="105.7" y="489.5" width="1" height="1" fill="#333"/>
<rect x="100.0" y="489.0" width="1" height="1" fill="#333"/>
<rect x="103.3" y="489.9" width="1" height="1" fill="#333"/>
<rect x="101.5" y="484.1" width="1" height="1" fill="#333"/>
<rect x="106.2" y="489.7" width="1" height="1" fill="#333"/>
<rect x="103.8" y="491.2" width="1" height="1" fill="#333"/>
<rect x="104.9" y="487.5" width="1" height="1" fill="#333"/>
<rect x="107.9" y="485.1" width="1" height="1" fill="#333"/>
<rect x="103.3" y="488.9" width="1" height="1" fill="#333"/>
<rect x="109.4" y="488.6" width="1" height="1" fill="#333"/>
<rect x="107.2" y="487.4" width="1" height="1" fill="#333"/>
<rect x="107.2" y="493.2" width="1" height="1" fill="#333"/>
<rect x="103.3" y="494.9" width="1" height="1" fill="#333"/>
<rect x="103.4" y="489.0" width="1" height="1" fill="#333"/>
<rect x="106.7" y="491.6" width="1" height="1" fill="#333"/>
<rect x="101.1" y="483.7" width="1" height="1" fill="#333"/>
<rect x="108.4" y="491.0" width="1" height="1" fill="#333"/>
<rect x="108.5" y="495.6" width="1" height="1" fill="#333"/>
<rect x="106.8" y="489.6" width="1" height="1" fill="#333"/>
<rect x="109.7" y="489.9" width="1" height="1" fill="#333"/>
<rect x="112.7" y="485.9" width="1" height="1" fill="#333"/>
<rect x="104.5" y="480.4" width="1" height="1" fill="#333"/>
<rect x="109.2" y="488.1" width="1" height="1" fill="#333"/>
<rect x="109.7" y="494.4" width="1" height="1" fill="#333"/>
<rect x="106.0" y="488.4" width="1" height="1" fill="#333"/>
<rect x="104.0" y="486.9" width="1" height="1" fill="#333"/>
<rect x="103.5" y="490.6" width="1" height="1" fill="#333"/>
<rect x="106.1" y="489.2" width="1" height="1" fill="#333"/>
<rect x="105.3" y="491.3" width="1" height="1" fill="#333"/>
<ellipse cx="91.5" cy="490.5" rx="6.8" ry="3.4" transform="rotate(-12 91.5 490.5)" fill="#000"/>
<ellipse cx="97.5" cy="489" rx="3" ry="2.6" transform="rotate(0 97.5 489)" fill="#000"/>
</g>
<rect x="83" y="456.5" width="55.5" height="38.0" fill="none" stroke="#555" stroke-width="0.8"/>
<line x1="83" y1="494.5" x2="138.5" y2="494.5" stroke="#111" stroke-width="1.3"/>
<line x1="83" y1="456.5" x2="83" y2="494.5" stroke="#222" stroke-width="1.1"/>
<line x1="101.3" y1="456.5" x2="101.3" y2="494.5" stroke="#000" stroke-width="1.5"/>
<line x1="82.5" y1="484.6" x2="138.5" y2="484.6" stroke="#000" stroke-width="1.5"/>
<line x1="83.0" y1="494.5" x2="83.0" y2="496.1" stroke="#222" stroke-width="0.8"/>
<line x1="81.4" y1="494.5" x2="83" y2="494.5" stroke="#222" stroke-width="0.8"/>
<line x1="96.875" y1="494.5" x2="96.875" y2="496.1" stroke="#222" stroke-width="0.8"/>
<line x1="81.4" y1="485.0" x2="83" y2="485.0" stroke="#222" stroke-width="0.8"/>
<line x1="110.75" y1="494.5" x2="110.75" y2="496.1" stroke="#222" stroke-width="0.8"/>
<line x1="81.4" y1="475.5" x2="83" y2="475.5" stroke="#222" stroke-width="0.8"/>
<line x1="124.625" y1="494.5" x2="124.625" y2="496.1" stroke="#222" stroke-width="0.8"/>
<line x1="81.4" y1="466.0" x2="83" y2="466.0" stroke="#222" stroke-width="0.8"/>
<line x1="138.5" y1="494.5" x2="138.5" y2="496.1" stroke="#222" stroke-width="0.8"/>
<line x1="81.4" y1="456.5" x2="83" y2="456.5" stroke="#222" stroke-width="0.8"/>
<line x1="87.17637500000001" y1="494.5" x2="87.17637500000001" y2="495.4" stroke="#444" stroke-width="0.5"/>
<line x1="82.1" y1="491.6405" x2="83" y2="491.6405" stroke="#444" stroke-width="0.5"/>
<line x1="89.618375" y1="494.5" x2="89.618375" y2="495.4" stroke="#444" stroke-width="0.5"/>
<line x1="82.1" y1="489.9685" x2="83" y2="489.9685" stroke="#444" stroke-width="0.5"/>
<line x1="91.35275" y1="494.5" x2="91.35275" y2="495.4" stroke="#444" stroke-width="0.5"/>
<line x1="82.1" y1="488.781" x2="83" y2="488.781" stroke="#444" stroke-width="0.5"/>
<line x1="92.69862499999999" y1="494.5" x2="92.69862499999999" y2="495.4" stroke="#444" stroke-width="0.5"/>
<line x1="82.1" y1="487.8595" x2="83" y2="487.8595" stroke="#444" stroke-width="0.5"/>
<line x1="93.79475" y1="494.5" x2="93.79475" y2="495.4" stroke="#444" stroke-width="0.5"/>
<line x1="82.1" y1="487.109" x2="83" y2="487.109" stroke="#444" stroke-width="0.5"/>
<line x1="94.724375" y1="494.5" x2="94.724375" y2="495.4" stroke="#444" stroke-width="0.5"/>
<line x1="82.1" y1="486.4725" x2="83" y2="486.4725" stroke="#444" stroke-width="0.5"/>
<line x1="95.529125" y1="494.5" x2="95.529125" y2="495.4" stroke="#444" stroke-width="0.5"/>
<line x1="82.1" y1="485.9215" x2="83" y2="485.9215" stroke="#444" stroke-width="0.5"/>
<line x1="96.23675" y1="494.5" x2="96.23675" y2="495.4" stroke="#444" stroke-width="0.5"/>
<line x1="82.1" y1="485.437" x2="83" y2="485.437" stroke="#444" stroke-width="0.5"/>
<line x1="101.05137500000001" y1="494.5" x2="101.05137500000001" y2="495.4" stroke="#444" stroke-width="0.5"/>
<line x1="82.1" y1="482.1405" x2="83" y2="482.1405" stroke="#444" stroke-width="0.5"/>
<line x1="103.493375" y1="494.5" x2="103.493375" y2="495.4" stroke="#444" stroke-width="0.5"/>
<line x1="82.1" y1="480.4685" x2="83" y2="480.4685" stroke="#444" stroke-width="0.5"/>
<line x1="105.22775" y1="494.5" x2="105.22775" y2="495.4" stroke="#444" stroke-width="0.5"/>
<line x1="82.1" y1="479.281" x2="83" y2="479.281" stroke="#444" stroke-width="0.5"/>
<line x1="106.57362499999999" y1="494.5" x2="106.57362499999999" y2="495.4" stroke="#444" stroke-width="0.5"/>
<line x1="82.1" y1="478.3595" x2="83" y2="478.3595" stroke="#444" stroke-width="0.5"/>
<line x1="107.66975" y1="494.5" x2="107.66975" y2="495.4" stroke="#444" stroke-width="0.5"/>
<line x1="82.1" y1="477.609" x2="83" y2="477.609" stroke="#444" stroke-width="0.5"/>
<line x1="108.599375" y1="494.5" x2="108.599375" y2="495.4" stroke="#444" stroke-width="0.5"/>
<line x1="82.1" y1="476.9725" x2="83" y2="476.9725" stroke="#444" stroke-width="0.5"/>
<line x1="109.404125" y1="494.5" x2="109.404125" y2="495.4" stroke="#444" stroke-width="0.5"/>
<line x1="82.1" y1="476.4215" x2="83" y2="476.4215" stroke="#444" stroke-width="0.5"/>
<line x1="110.11175" y1="494.5" x2="110.11175" y2="495.4" stroke="#444" stroke-width="0.5"/>
<line x1="82.1" y1="475.937" x2="83" y2="475.937" stroke="#444" stroke-width="0.5"/>
<line x1="114.92637500000001" y1="494.5" x2="114.92637500000001" y2="495.4" stroke="#444" stroke-width="0.5"/>
<line x1="82.1" y1="472.6405" x2="83" y2="472.6405" stroke="#444" stroke-width="0.5"/>
<line x1="117.368375" y1="494.5" x2="117.368375" y2="495.4" stroke="#444" stroke-width="0.5"/>
<line x1="82.1" y1="470.9685" x2="83" y2="470.9685" stroke="#444" stroke-width="0.5"/>
<line x1="119.10275" y1="494.5" x2="119.10275" y2="495.4" stroke="#444" stroke-width="0.5"/>
<line x1="82.1" y1="469.781" x2="83" y2="469.781" stroke="#444" stroke-width="0.5"/>
<line x1="120.44862499999999" y1="494.5" x2="120.44862499999999" y2="495.4" stroke="#444" stroke-width="0.5"/>
<line x1="82.1" y1="468.8595" x2="83" y2="468.8595" stroke="#444" stroke-width="0.5"/>
<line x1="121.54475" y1="494.5" x2="121.54475" y2="495.4" stroke="#444" stroke-width="0.5"/>
<line x1="82.1" y1="468.109" x2="83" y2="468.109" stroke="#444" stroke-width="0.5"/>
<line x1="122.474375" y1="494.5" x2="122.474375" y2="495.4" stroke="#444" stroke-width="0.5"/>
<line x1="82.1" y1="467.4725" x2="83" y2="467.4725" stroke="#444" stroke-width="0.5"/>
<line x1="123.279125" y1="494.5" x2="123.279125" y2="495.4" stroke="#444" stroke-width="0.5"/>
<line x1="82.1" y1="466.9215" x2="83" y2="466.9215" stroke="#444" stroke-width="0.5"/>
<line x1="123.98675" y1="494.5" x2="123.98675" y2="495.4" stroke="#444" stroke-width="0.5"/>
<line x1="82.1" y1="466.437" x2="83" y2="466.437" stroke="#444" stroke-width="0.5"/>
<line x1="128.801375" y1="494.5" x2="128.801375" y2="495.4" stroke="#444" stroke-width="0.5"/>
<line x1="82.1" y1="463.1405" x2="83" y2="463.1405" stroke="#444" stroke-width="0.5"/>
<line x1="131.24337500000001" y1="494.5" x2="131.24337500000001" y2="495.4" stroke="#444" stroke-width="0.5"/>
<line x1="82.1" y1="461.4685" x2="83" y2="461.4685" stroke="#444" stroke-width="0.5"/>
<line x1="132.97775000000001" y1="494.5" x2="132.97775000000001" y2="495.4" stroke="#444" stroke-width="0.5"/>
<line x1="82.1" y1="460.281" x2="83" y2="460.281" stroke="#444" stroke-width="0.5"/>
<line x1="134.323625" y1="494.5" x2="134.323625" y2="495.4" stroke="#444" stroke-width="0.5"/>
<line x1="82.1" y1="459.3595" x2="83" y2="459.3595" stroke="#444" stroke-width="0.5"/>
<line x1="135.41975" y1="494.5" x2="135.41975" y2="495.4" stroke="#444" stroke-width="0.5"/>
<line x1="82.1" y1="458.609" x2="83" y2="458.609" stroke="#444" stroke-width="0.5"/>
<line x1="136.349375" y1="494.5" x2="136.349375" y2="495.4" stroke="#444" stroke-width="0.5"/>
<line x1="82.1" y1="457.9725" x2="83" y2="457.9725" stroke="#444" stroke-width="0.5"/>
<line x1="137.154125" y1="494.5" x2="137.154125" y2="495.4" stroke="#444" stroke-width="0.5"/>
<line x1="82.1" y1="457.4215" x2="83" y2="457.4215" stroke="#444" stroke-width="0.5"/>
<line x1="137.86175" y1="494.5" x2="137.86175" y2="495.4" stroke="#444" stroke-width="0.5"/>
<line x1="82.1" y1="456.937" x2="83" y2="456.937" stroke="#444" stroke-width="0.5"/>
<text x="83.5" y="502.5" font-size="5.3" text-anchor="middle" stroke="none" fill="#3a3a3a">10<tspan font-size="3.71" dy="-2">0</tspan></text>
<text x="78.6" y="492.7" font-size="5.3" text-anchor="middle" stroke="none" fill="#3a3a3a" transform="rotate(-90 78.6 492.7)">10<tspan font-size="3.71" dy="-2">0</tspan></text>
<text x="97.375" y="502.5" font-size="5.3" text-anchor="middle" stroke="none" fill="#3a3a3a">10<tspan font-size="3.71" dy="-2">1</tspan></text>
<text x="78.6" y="483.2" font-size="5.3" text-anchor="middle" stroke="none" fill="#3a3a3a" transform="rotate(-90 78.6 483.2)">10<tspan font-size="3.71" dy="-2">1</tspan></text>
<text x="111.25" y="502.5" font-size="5.3" text-anchor="middle" stroke="none" fill="#3a3a3a">10<tspan font-size="3.71" dy="-2">2</tspan></text>
<text x="78.6" y="473.7" font-size="5.3" text-anchor="middle" stroke="none" fill="#3a3a3a" transform="rotate(-90 78.6 473.7)">10<tspan font-size="3.71" dy="-2">2</tspan></text>
<text x="125.125" y="502.5" font-size="5.3" text-anchor="middle" stroke="none" fill="#3a3a3a">10<tspan font-size="3.71" dy="-2">3</tspan></text>
<text x="78.6" y="464.2" font-size="5.3" text-anchor="middle" stroke="none" fill="#3a3a3a" transform="rotate(-90 78.6 464.2)">10<tspan font-size="3.71" dy="-2">3</tspan></text>
<text x="139.0" y="502.5" font-size="5.3" text-anchor="middle" stroke="none" fill="#3a3a3a">10<tspan font-size="3.71" dy="-2">4</tspan></text>
<text x="78.6" y="454.7" font-size="5.3" text-anchor="middle" stroke="none" fill="#3a3a3a" transform="rotate(-90 78.6 454.7)">10<tspan font-size="3.71" dy="-2">4</tspan></text>
<clipPath id="fc8"><rect x="163.5" y="457" width="55.30000000000001" height="37.80000000000001"/></clipPath><g clip-path="url(#fc8)">
<rect x="187.2" y="493.7" width="0.9" height="0.9" fill="#555"/>
<rect x="183.5" y="491.6" width="0.9" height="0.9" fill="#555"/>
<rect x="182.1" y="488.0" width="0.9" height="0.9" fill="#555"/>
<rect x="215.0" y="487.7" width="0.9" height="0.9" fill="#555"/>
<rect x="202.1" y="489.7" width="0.9" height="0.9" fill="#555"/>
<rect x="195.3" y="490.0" width="0.9" height="0.9" fill="#555"/>
<rect x="185.9" y="492.6" width="0.9" height="0.9" fill="#555"/>
<rect x="182.2" y="487.9" width="0.9" height="0.9" fill="#555"/>
<rect x="179.7" y="488.1" width="0.9" height="0.9" fill="#555"/>
<rect x="193.7" y="493.2" width="0.9" height="0.9" fill="#555"/>
<rect x="192.6" y="486.9" width="0.9" height="0.9" fill="#555"/>
<rect x="188.3" y="493.9" width="0.9" height="0.9" fill="#555"/>
<rect x="181.3" y="491.0" width="0.9" height="0.9" fill="#555"/>
<rect x="192.6" y="491.3" width="0.9" height="0.9" fill="#555"/>
<rect x="191.2" y="491.5" width="0.9" height="0.9" fill="#555"/>
<rect x="196.9" y="491.2" width="0.9" height="0.9" fill="#555"/>
<rect x="211.4" y="490.7" width="0.9" height="0.9" fill="#555"/>
<rect x="184.1" y="486.5" width="0.9" height="0.9" fill="#555"/>
<rect x="213.1" y="489.9" width="0.9" height="0.9" fill="#555"/>
<rect x="186.0" y="493.6" width="0.9" height="0.9" fill="#555"/>
<rect x="199.8" y="491.8" width="0.9" height="0.9" fill="#555"/>
<rect x="210.7" y="488.3" width="0.9" height="0.9" fill="#555"/>
<rect x="191.8" y="493.0" width="0.9" height="0.9" fill="#555"/>
<rect x="183.9" y="492.1" width="0.9" height="0.9" fill="#555"/>
<rect x="182.5" y="491.5" width="0.9" height="0.9" fill="#555"/>
<rect x="204.3" y="493.6" width="0.9" height="0.9" fill="#555"/>
<rect x="209.4" y="490.0" width="0.9" height="0.9" fill="#555"/>
<rect x="186.1" y="487.2" width="0.9" height="0.9" fill="#555"/>
<rect x="198.0" y="490.1" width="0.9" height="0.9" fill="#555"/>
<rect x="181.6" y="493.2" width="0.9" height="0.9" fill="#555"/>
<rect x="197.3" y="491.6" width="0.9" height="0.9" fill="#555"/>
<rect x="186.9" y="488.0" width="0.9" height="0.9" fill="#555"/>
<rect x="179.4" y="488.7" width="0.9" height="0.9" fill="#555"/>
<rect x="188.6" y="489.4" width="0.9" height="0.9" fill="#555"/>
<rect x="192.6" y="492.7" width="0.9" height="0.9" fill="#555"/>
<rect x="211.1" y="487.4" width="0.9" height="0.9" fill="#555"/>
<rect x="193.3" y="487.3" width="0.9" height="0.9" fill="#555"/>
<rect x="202.9" y="493.8" width="0.9" height="0.9" fill="#555"/>
<rect x="186.3" y="492.1" width="0.9" height="0.9" fill="#555"/>
<rect x="189.8" y="486.1" width="0.9" height="0.9" fill="#555"/>
<rect x="206.5" y="488.7" width="0.9" height="0.9" fill="#555"/>
<rect x="185.1" y="489.5" width="0.9" height="0.9" fill="#555"/>
<rect x="187.3" y="489.3" width="0.9" height="0.9" fill="#555"/>
<rect x="195.1" y="489.3" width="0.9" height="0.9" fill="#555"/>
<rect x="200.2" y="488.3" width="0.9" height="0.9" fill="#555"/>
<rect x="182.4" y="486.7" width="0.9" height="0.9" fill="#555"/>
<rect x="182.8" y="490.2" width="0.9" height="0.9" fill="#555"/>
<rect x="192.0" y="492.5" width="0.9" height="0.9" fill="#555"/>
<rect x="197.2" y="491.7" width="0.9" height="0.9" fill="#555"/>
<rect x="214.3" y="486.5" width="0.9" height="0.9" fill="#555"/>
<rect x="179.6" y="487.1" width="0.9" height="0.9" fill="#555"/>
<rect x="192.9" y="490.6" width="0.9" height="0.9" fill="#555"/>
<rect x="205.8" y="488.8" width="0.9" height="0.9" fill="#555"/>
<rect x="213.7" y="486.0" width="0.9" height="0.9" fill="#555"/>
<rect x="209.1" y="487.7" width="0.9" height="0.9" fill="#555"/>
<rect x="210.5" y="486.3" width="0.9" height="0.9" fill="#555"/>
<rect x="213.7" y="492.1" width="0.9" height="0.9" fill="#555"/>
<rect x="214.7" y="490.6" width="0.9" height="0.9" fill="#555"/>
<rect x="185.4" y="493.8" width="0.9" height="0.9" fill="#555"/>
<rect x="194.9" y="486.7" width="0.9" height="0.9" fill="#555"/>
<rect x="200.8" y="490.0" width="0.9" height="0.9" fill="#555"/>
<rect x="196.0" y="487.2" width="0.9" height="0.9" fill="#555"/>
<rect x="183.4" y="490.6" width="0.9" height="0.9" fill="#555"/>
<rect x="195.3" y="487.0" width="0.9" height="0.9" fill="#555"/>
<rect x="194.8" y="491.8" width="0.9" height="0.9" fill="#555"/>
<rect x="204.8" y="489.8" width="0.9" height="0.9" fill="#555"/>
<rect x="193.2" y="488.9" width="0.9" height="0.9" fill="#555"/>
<rect x="187.1" y="487.6" width="0.9" height="0.9" fill="#555"/>
<rect x="195.1" y="486.9" width="0.9" height="0.9" fill="#555"/>
<rect x="205.1" y="491.7" width="0.9" height="0.9" fill="#555"/>
<rect x="201.0" y="486.2" width="0.9" height="0.9" fill="#555"/>
<rect x="192.1" y="489.5" width="0.9" height="0.9" fill="#555"/>
<rect x="182.4" y="493.7" width="0.9" height="0.9" fill="#555"/>
<rect x="206.2" y="490.0" width="0.9" height="0.9" fill="#555"/>
<rect x="204.4" y="487.6" width="0.9" height="0.9" fill="#555"/>
<rect x="187.3" y="490.2" width="0.9" height="0.9" fill="#555"/>
<rect x="205.8" y="491.2" width="0.9" height="0.9" fill="#555"/>
<rect x="179.2" y="490.9" width="0.9" height="0.9" fill="#555"/>
<rect x="211.7" y="491.9" width="0.9" height="0.9" fill="#555"/>
<rect x="212.4" y="493.9" width="0.9" height="0.9" fill="#555"/>
<rect x="195.8" y="473.9" width="0.9" height="0.9" fill="#999"/>
<rect x="204.2" y="482.7" width="0.9" height="0.9" fill="#999"/>
<rect x="199.6" y="482.2" width="0.9" height="0.9" fill="#999"/>
<rect x="212.1" y="476.7" width="0.9" height="0.9" fill="#999"/>
<rect x="206.3" y="482.4" width="0.9" height="0.9" fill="#999"/>
<rect x="210.4" y="473.8" width="0.9" height="0.9" fill="#999"/>
<rect x="212.0" y="472.5" width="0.9" height="0.9" fill="#999"/>
<rect x="199.6" y="482.5" width="0.9" height="0.9" fill="#999"/>
<rect x="212.0" y="474.1" width="0.9" height="0.9" fill="#999"/>
<rect x="197.6" y="478.0" width="0.9" height="0.9" fill="#999"/>
<rect x="211.9" y="478.9" width="0.9" height="0.9" fill="#999"/>
<rect x="214.3" y="479.5" width="0.9" height="0.9" fill="#999"/>
<rect x="211.3" y="477.9" width="0.9" height="0.9" fill="#999"/>
<rect x="199.4" y="475.6" width="0.9" height="0.9" fill="#999"/>
<rect x="200.2" y="463.8" width="0.9" height="0.9" fill="#aaa"/>
<rect x="211.0" y="461.4" width="0.9" height="0.9" fill="#aaa"/>
<rect x="187.1" y="465.6" width="0.9" height="0.9" fill="#aaa"/>
<rect x="193.4" y="462.8" width="0.9" height="0.9" fill="#aaa"/>
<rect x="175.5" y="493.3" width="1" height="1" fill="#000"/>
<rect x="170.6" y="492.3" width="1" height="1" fill="#000"/>
<rect x="172.3" y="488.0" width="1" height="1" fill="#000"/>
<rect x="169.9" y="495.0" width="1" height="1" fill="#000"/>
<rect x="168.4" y="491.6" width="1" height="1" fill="#000"/>
<rect x="176.5" y="489.7" width="1" height="1" fill="#000"/>
<rect x="171.0" y="488.8" width="1" height="1" fill="#000"/>
<rect x="172.7" y="487.8" width="1" height="1" fill="#000"/>
<rect x="172.5" y="488.7" width="1" height="1" fill="#000"/>
<rect x="172.1" y="486.7" width="1" height="1" fill="#000"/>
<rect x="167.4" y="492.6" width="1" height="1" fill="#000"/>
<rect x="172.9" y="483.7" width="1" height="1" fill="#000"/>
<rect x="175.9" y="488.6" width="1" height="1" fill="#000"/>
<rect x="173.9" y="492.8" width="1" height="1" fill="#000"/>
<rect x="170.5" y="489.6" width="1" height="1" fill="#000"/>
<rect x="164.7" y="491.5" width="1" height="1" fill="#000"/>
<rect x="177.0" y="487.7" width="1" height="1" fill="#000"/>
<rect x="174.7" y="492.2" width="1" height="1" fill="#000"/>
<rect x="174.1" y="488.1" width="1" height="1" fill="#000"/>
<rect x="170.6" y="491.1" width="1" height="1" fill="#000"/>
<rect x="176.5" y="488.4" width="1" height="1" fill="#000"/>
<rect x="169.3" y="488.8" width="1" height="1" fill="#000"/>
<rect x="173.8" y="486.9" width="1" height="1" fill="#000"/>
<rect x="170.3" y="487.6" width="1" height="1" fill="#000"/>
<rect x="169.9" y="492.2" width="1" height="1" fill="#000"/>
<rect x="169.2" y="492.0" width="1" height="1" fill="#000"/>
<rect x="169.4" y="490.4" width="1" height="1" fill="#000"/>
<rect x="170.5" y="488.5" width="1" height="1" fill="#000"/>
<rect x="172.3" y="491.9" width="1" height="1" fill="#000"/>
<rect x="168.4" y="492.0" width="1" height="1" fill="#000"/>
<rect x="171.3" y="489.5" width="1" height="1" fill="#000"/>
<rect x="171.5" y="492.3" width="1" height="1" fill="#000"/>
<rect x="173.4" y="493.8" width="1" height="1" fill="#000"/>
<rect x="171.8" y="490.9" width="1" height="1" fill="#000"/>
<rect x="166.1" y="489.3" width="1" height="1" fill="#000"/>
<rect x="172.9" y="488.0" width="1" height="1" fill="#000"/>
<rect x="167.9" y="494.5" width="1" height="1" fill="#000"/>
<rect x="170.7" y="488.0" width="1" height="1" fill="#000"/>
<rect x="164.1" y="488.5" width="1" height="1" fill="#000"/>
<rect x="178.4" y="490.4" width="1" height="1" fill="#000"/>
<rect x="172.9" y="491.9" width="1" height="1" fill="#000"/>
<rect x="169.4" y="491.2" width="1" height="1" fill="#000"/>
<rect x="171.1" y="489.7" width="1" height="1" fill="#000"/>
<rect x="174.2" y="488.6" width="1" height="1" fill="#000"/>
<rect x="168.5" y="489.0" width="1" height="1" fill="#000"/>
<rect x="174.9" y="489.4" width="1" height="1" fill="#000"/>
<rect x="176.8" y="487.5" width="1" height="1" fill="#000"/>
<rect x="167.7" y="484.6" width="1" height="1" fill="#000"/>
<rect x="167.9" y="490.6" width="1" height="1" fill="#000"/>
<rect x="173.2" y="488.3" width="1" height="1" fill="#000"/>
<rect x="169.3" y="493.6" width="1" height="1" fill="#000"/>
<rect x="169.3" y="490.7" width="1" height="1" fill="#000"/>
<rect x="173.0" y="488.3" width="1" height="1" fill="#000"/>
<rect x="174.9" y="490.0" width="1" height="1" fill="#000"/>
<rect x="173.4" y="489.8" width="1" height="1" fill="#000"/>
<rect x="171.8" y="493.1" width="1" height="1" fill="#000"/>
<rect x="171.6" y="486.4" width="1" height="1" fill="#000"/>
<rect x="170.0" y="489.6" width="1" height="1" fill="#000"/>
<rect x="170.3" y="490.9" width="1" height="1" fill="#000"/>
<rect x="165.7" y="494.3" width="1" height="1" fill="#000"/>
<rect x="168.2" y="493.3" width="1" height="1" fill="#000"/>
<rect x="169.7" y="489.7" width="1" height="1" fill="#000"/>
<rect x="170.5" y="489.7" width="1" height="1" fill="#000"/>
<rect x="172.7" y="493.2" width="1" height="1" fill="#000"/>
<rect x="176.8" y="494.6" width="1" height="1" fill="#000"/>
<rect x="167.0" y="491.9" width="1" height="1" fill="#000"/>
<rect x="172.5" y="490.3" width="1" height="1" fill="#000"/>
<rect x="171.9" y="490.5" width="1" height="1" fill="#000"/>
<rect x="167.2" y="488.6" width="1" height="1" fill="#000"/>
<rect x="174.0" y="490.3" width="1" height="1" fill="#000"/>
<rect x="175.4" y="489.5" width="1" height="1" fill="#000"/>
<rect x="169.1" y="490.7" width="1" height="1" fill="#000"/>
<rect x="171.3" y="492.6" width="1" height="1" fill="#000"/>
<rect x="169.2" y="492.2" width="1" height="1" fill="#000"/>
<rect x="172.1" y="488.5" width="1" height="1" fill="#000"/>
<rect x="170.4" y="490.1" width="1" height="1" fill="#000"/>
<rect x="174.2" y="493.2" width="1" height="1" fill="#000"/>
<rect x="173.1" y="489.3" width="1" height="1" fill="#000"/>
<rect x="173.3" y="490.8" width="1" height="1" fill="#000"/>
<rect x="169.0" y="492.1" width="1" height="1" fill="#000"/>
<rect x="168.5" y="489.8" width="1" height="1" fill="#000"/>
<rect x="167.6" y="487.4" width="1" height="1" fill="#000"/>
<rect x="172.1" y="487.0" width="1" height="1" fill="#000"/>
<rect x="168.9" y="489.6" width="1" height="1" fill="#000"/>
<rect x="172.4" y="489.0" width="1" height="1" fill="#000"/>
<rect x="173.2" y="488.7" width="1" height="1" fill="#000"/>
<rect x="168.4" y="488.6" width="1" height="1" fill="#000"/>
<rect x="169.3" y="488.8" width="1" height="1" fill="#000"/>
<rect x="166.4" y="488.8" width="1" height="1" fill="#000"/>
<rect x="168.2" y="492.8" width="1" height="1" fill="#000"/>
<rect x="167.5" y="491.2" width="1" height="1" fill="#000"/>
<rect x="168.0" y="492.3" width="1" height="1" fill="#000"/>
<rect x="170.5" y="489.2" width="1" height="1" fill="#000"/>
<rect x="174.6" y="493.8" width="1" height="1" fill="#000"/>
<rect x="175.8" y="492.6" width="1" height="1" fill="#000"/>
<rect x="171.1" y="489.0" width="1" height="1" fill="#000"/>
<rect x="169.4" y="489.2" width="1" height="1" fill="#000"/>
<rect x="172.6" y="489.5" width="1" height="1" fill="#000"/>
<rect x="171.7" y="490.9" width="1" height="1" fill="#000"/>
<rect x="170.6" y="489.0" width="1" height="1" fill="#000"/>
<rect x="167.5" y="496.1" width="1" height="1" fill="#000"/>
<rect x="170.5" y="486.9" width="1" height="1" fill="#000"/>
<rect x="166.9" y="489.1" width="1" height="1" fill="#000"/>
<rect x="176.8" y="490.8" width="1" height="1" fill="#000"/>
<rect x="168.0" y="494.3" width="1" height="1" fill="#000"/>
<rect x="164.9" y="493.0" width="1" height="1" fill="#000"/>
<rect x="180.0" y="490.5" width="1" height="1" fill="#000"/>
<rect x="174.2" y="492.0" width="1" height="1" fill="#000"/>
<rect x="161.7" y="491.2" width="1" height="1" fill="#000"/>
<rect x="169.1" y="484.4" width="1" height="1" fill="#000"/>
<rect x="200.2" y="485.5" width="1" height="1" fill="#000"/>
<rect x="197.0" y="488.2" width="1" height="1" fill="#000"/>
<rect x="191.3" y="480.8" width="1" height="1" fill="#000"/>
<rect x="192.2" y="484.9" width="1" height="1" fill="#000"/>
<rect x="187.8" y="484.8" width="1" height="1" fill="#000"/>
<rect x="194.8" y="491.0" width="1" height="1" fill="#000"/>
<rect x="195.4" y="487.6" width="1" height="1" fill="#000"/>
<rect x="201.4" y="488.2" width="1" height="1" fill="#000"/>
<rect x="193.6" y="485.2" width="1" height="1" fill="#000"/>
<rect x="187.6" y="489.4" width="1" height="1" fill="#000"/>
<rect x="194.4" y="490.1" width="1" height="1" fill="#000"/>
<rect x="190.1" y="485.4" width="1" height="1" fill="#000"/>
<rect x="197.4" y="490.9" width="1" height="1" fill="#000"/>
<rect x="193.8" y="485.4" width="1" height="1" fill="#000"/>
<rect x="198.1" y="483.4" width="1" height="1" fill="#000"/>
<rect x="202.0" y="483.6" width="1" height="1" fill="#000"/>
<rect x="185.5" y="487.1" width="1" height="1" fill="#000"/>
<rect x="191.6" y="490.5" width="1" height="1" fill="#000"/>
<rect x="199.8" y="488.2" width="1" height="1" fill="#000"/>
<rect x="182.5" y="486.8" width="1" height="1" fill="#000"/>
<rect x="189.7" y="481.8" width="1" height="1" fill="#000"/>
<rect x="205.9" y="481.9" width="1" height="1" fill="#000"/>
<rect x="188.9" y="484.6" width="1" height="1" fill="#000"/>
<rect x="190.8" y="487.4" width="1" height="1" fill="#000"/>
<rect x="197.4" y="483.6" width="1" height="1" fill="#000"/>
<rect x="197.3" y="488.6" width="1" height="1" fill="#000"/>
<rect x="196.7" y="491.1" width="1" height="1" fill="#000"/>
<rect x="191.7" y="486.0" width="1" height="1" fill="#000"/>
<rect x="192.0" y="483.9" width="1" height="1" fill="#000"/>
<rect x="194.3" y="489.8" width="1" height="1" fill="#000"/>
<rect x="198.3" y="486.9" width="1" height="1" fill="#000"/>
<rect x="195.7" y="490.5" width="1" height="1" fill="#000"/>
<rect x="202.3" y="482.0" width="1" height="1" fill="#000"/>
<rect x="186.7" y="489.6" width="1" height="1" fill="#000"/>
<rect x="199.4" y="488.7" width="1" height="1" fill="#000"/>
<rect x="200.5" y="484.0" width="1" height="1" fill="#000"/>
<rect x="187.3" y="488.2" width="1" height="1" fill="#000"/>
<rect x="187.5" y="487.3" width="1" height="1" fill="#000"/>
<rect x="207.2" y="482.3" width="1" height="1" fill="#000"/>
<rect x="198.1" y="491.2" width="1" height="1" fill="#000"/>
<rect x="202.7" y="485.8" width="1" height="1" fill="#000"/>
<rect x="189.2" y="487.0" width="1" height="1" fill="#000"/>
<rect x="187.1" y="487.3" width="1" height="1" fill="#000"/>
<rect x="192.7" y="486.2" width="1" height="1" fill="#000"/>
<rect x="199.8" y="487.0" width="1" height="1" fill="#000"/>
<rect x="191.2" y="486.5" width="1" height="1" fill="#000"/>
<rect x="193.4" y="486.2" width="1" height="1" fill="#000"/>
<rect x="192.0" y="489.2" width="1" height="1" fill="#000"/>
<rect x="192.3" y="489.8" width="1" height="1" fill="#000"/>
<rect x="198.8" y="489.5" width="1" height="1" fill="#000"/>
<rect x="197.4" y="483.5" width="1" height="1" fill="#000"/>
<rect x="209.4" y="485.8" width="1" height="1" fill="#000"/>
<rect x="188.3" y="487.4" width="1" height="1" fill="#000"/>
<rect x="196.0" y="481.7" width="1" height="1" fill="#000"/>
<rect x="186.4" y="486.0" width="1" height="1" fill="#000"/>
<rect x="192.4" y="484.1" width="1" height="1" fill="#000"/>
<rect x="188.9" y="486.9" width="1" height="1" fill="#000"/>
<rect x="188.5" y="487.9" width="1" height="1" fill="#000"/>
<rect x="196.2" y="485.5" width="1" height="1" fill="#000"/>
<rect x="205.1" y="491.0" width="1" height="1" fill="#000"/>
<rect x="185.7" y="486.7" width="1" height="1" fill="#000"/>
<rect x="203.5" y="484.9" width="1" height="1" fill="#000"/>
<rect x="181.5" y="484.4" width="1" height="1" fill="#000"/>
<rect x="190.4" y="485.0" width="1" height="1" fill="#000"/>
<rect x="196.5" y="488.4" width="1" height="1" fill="#000"/>
<rect x="198.4" y="481.7" width="1" height="1" fill="#000"/>
<rect x="190.4" y="489.5" width="1" height="1" fill="#000"/>
<rect x="191.4" y="483.8" width="1" height="1" fill="#000"/>
<rect x="192.9" y="492.7" width="1" height="1" fill="#000"/>
<rect x="186.0" y="485.7" width="1" height="1" fill="#000"/>
<rect x="192.6" y="484.4" width="1" height="1" fill="#000"/>
<rect x="193.8" y="485.4" width="1" height="1" fill="#000"/>
<rect x="186.7" y="485.9" width="1" height="1" fill="#000"/>
<rect x="191.6" y="485.4" width="1" height="1" fill="#000"/>
<rect x="196.2" y="488.1" width="1" height="1" fill="#000"/>
<rect x="197.7" y="488.2" width="1" height="1" fill="#000"/>
<rect x="187.3" y="487.3" width="1" height="1" fill="#000"/>
<rect x="193.2" y="484.3" width="1" height="1" fill="#000"/>
<rect x="195.2" y="486.4" width="1" height="1" fill="#000"/>
<rect x="193.2" y="488.1" width="1" height="1" fill="#000"/>
<rect x="187.2" y="486.7" width="1" height="1" fill="#000"/>
<rect x="189.4" y="485.6" width="1" height="1" fill="#000"/>
<rect x="191.4" y="488.7" width="1" height="1" fill="#000"/>
<rect x="198.1" y="488.1" width="1" height="1" fill="#000"/>
<rect x="187.3" y="487.3" width="1" height="1" fill="#000"/>
<rect x="204.4" y="490.0" width="1" height="1" fill="#000"/>
<rect x="198.1" y="487.2" width="1" height="1" fill="#000"/>
<rect x="189.9" y="487.8" width="1" height="1" fill="#000"/>
<rect x="185.9" y="486.5" width="1" height="1" fill="#000"/>
<rect x="186.3" y="484.4" width="1" height="1" fill="#000"/>
<rect x="186.1" y="487.7" width="1" height="1" fill="#000"/>
<rect x="192.3" y="487.7" width="1" height="1" fill="#000"/>
<rect x="198.4" y="487.7" width="1" height="1" fill="#000"/>
<rect x="190.5" y="487.7" width="1" height="1" fill="#000"/>
<rect x="186.7" y="485.6" width="1" height="1" fill="#000"/>
<rect x="198.0" y="486.3" width="1" height="1" fill="#000"/>
<rect x="195.3" y="487.0" width="1" height="1" fill="#000"/>
<rect x="208.3" y="482.2" width="1" height="1" fill="#000"/>
<rect x="187.9" y="490.5" width="1" height="1" fill="#000"/>
<rect x="187.3" y="486.9" width="1" height="1" fill="#000"/>
<rect x="203.9" y="482.2" width="1" height="1" fill="#000"/>
<rect x="193.7" y="488.7" width="1" height="1" fill="#000"/>
<rect x="201.9" y="485.3" width="1" height="1" fill="#000"/>
<rect x="198.5" y="485.9" width="1" height="1" fill="#000"/>
<rect x="197.1" y="485.8" width="1" height="1" fill="#000"/>
<rect x="198.0" y="488.7" width="1" height="1" fill="#000"/>
<rect x="200.3" y="485.9" width="1" height="1" fill="#000"/>
<rect x="190.4" y="487.8" width="1" height="1" fill="#000"/>
<rect x="200.8" y="488.3" width="1" height="1" fill="#000"/>
<rect x="189.6" y="487.0" width="1" height="1" fill="#000"/>
<rect x="194.4" y="484.8" width="1" height="1" fill="#000"/>
<rect x="208.0" y="486.3" width="1" height="1" fill="#000"/>
<rect x="192.6" y="486.4" width="1" height="1" fill="#000"/>
<rect x="187.2" y="485.7" width="1" height="1" fill="#000"/>
<rect x="191.3" y="484.8" width="1" height="1" fill="#000"/>
<rect x="191.8" y="478.3" width="1" height="1" fill="#000"/>
<rect x="194.5" y="486.3" width="1" height="1" fill="#000"/>
<rect x="189.2" y="484.4" width="1" height="1" fill="#000"/>
<rect x="181.4" y="485.3" width="1" height="1" fill="#000"/>
<rect x="196.1" y="487.2" width="1" height="1" fill="#000"/>
<rect x="194.5" y="485.8" width="1" height="1" fill="#000"/>
<rect x="202.2" y="490.6" width="1" height="1" fill="#000"/>
<rect x="187.0" y="491.1" width="1" height="1" fill="#000"/>
<rect x="197.8" y="483.4" width="1" height="1" fill="#000"/>
<rect x="193.4" y="487.8" width="1" height="1" fill="#000"/>
<rect x="207.0" y="486.2" width="1" height="1" fill="#000"/>
<rect x="201.2" y="485.5" width="1" height="1" fill="#000"/>
<rect x="193.4" y="490.6" width="1" height="1" fill="#000"/>
<rect x="191.6" y="487.8" width="1" height="1" fill="#000"/>
<rect x="199.7" y="488.7" width="1" height="1" fill="#000"/>
<rect x="197.8" y="488.6" width="1" height="1" fill="#000"/>
<rect x="208.8" y="486.1" width="1" height="1" fill="#000"/>
<rect x="200.4" y="484.9" width="1" height="1" fill="#000"/>
<rect x="195.3" y="485.4" width="1" height="1" fill="#000"/>
<rect x="183.2" y="482.2" width="1" height="1" fill="#000"/>
<rect x="199.5" y="479.6" width="1" height="1" fill="#000"/>
<rect x="191.5" y="485.4" width="1" height="1" fill="#000"/>
<rect x="199.7" y="487.3" width="1" height="1" fill="#000"/>
<rect x="198.5" y="484.2" width="1" height="1" fill="#000"/>
<rect x="187.3" y="483.7" width="1" height="1" fill="#000"/>
<rect x="194.1" y="488.4" width="1" height="1" fill="#000"/>
<rect x="201.2" y="484.7" width="1" height="1" fill="#000"/>
<rect x="204.1" y="487.7" width="1" height="1" fill="#000"/>
<rect x="193.2" y="482.7" width="1" height="1" fill="#000"/>
<rect x="198.3" y="488.5" width="1" height="1" fill="#000"/>
<rect x="193.5" y="483.2" width="1" height="1" fill="#000"/>
<rect x="186.0" y="492.6" width="1" height="1" fill="#000"/>
<rect x="190.9" y="492.2" width="1" height="1" fill="#000"/>
<rect x="199.4" y="489.2" width="1" height="1" fill="#000"/>
<rect x="204.2" y="486.8" width="1" height="1" fill="#000"/>
<rect x="195.5" y="481.6" width="1" height="1" fill="#000"/>
<rect x="189.7" y="484.7" width="1" height="1" fill="#000"/>
<rect x="198.4" y="484.1" width="1" height="1" fill="#000"/>
<rect x="204.8" y="485.9" width="1" height="1" fill="#000"/>
<rect x="199.9" y="487.0" width="1" height="1" fill="#000"/>
<rect x="197.2" y="486.1" width="1" height="1" fill="#000"/>
<rect x="202.9" y="487.3" width="1" height="1" fill="#000"/>
<rect x="189.2" y="480.1" width="1" height="1" fill="#000"/>
<rect x="203.2" y="486.2" width="1" height="1" fill="#000"/>
<rect x="192.7" y="484.0" width="1" height="1" fill="#000"/>
<rect x="200.4" y="483.8" width="1" height="1" fill="#000"/>
<rect x="200.8" y="489.6" width="1" height="1" fill="#000"/>
<rect x="200.2" y="487.7" width="1" height="1" fill="#000"/>
<rect x="188.2" y="492.1" width="1" height="1" fill="#000"/>
<rect x="196.1" y="489.5" width="1" height="1" fill="#000"/>
<rect x="191.3" y="486.3" width="1" height="1" fill="#000"/>
<rect x="190.2" y="487.6" width="1" height="1" fill="#000"/>
<rect x="193.1" y="482.5" width="1" height="1" fill="#000"/>
<rect x="184.5" y="484.4" width="1" height="1" fill="#000"/>
<rect x="185.1" y="487.2" width="1" height="1" fill="#000"/>
<rect x="199.9" y="488.4" width="1" height="1" fill="#000"/>
<rect x="189.5" y="491.9" width="1" height="1" fill="#000"/>
<rect x="189.2" y="487.0" width="1" height="1" fill="#000"/>
<rect x="187.6" y="481.4" width="1" height="1" fill="#000"/>
<rect x="200.2" y="482.9" width="1" height="1" fill="#000"/>
<rect x="189.6" y="482.9" width="1" height="1" fill="#000"/>
<rect x="189.5" y="486.0" width="1" height="1" fill="#000"/>
<rect x="193.1" y="488.9" width="1" height="1" fill="#000"/>
<rect x="191.3" y="489.6" width="1" height="1" fill="#000"/>
<rect x="197.8" y="485.5" width="1" height="1" fill="#000"/>
<rect x="191.4" y="488.3" width="1" height="1" fill="#000"/>
<rect x="192.9" y="487.1" width="1" height="1" fill="#000"/>
<rect x="186.5" y="483.4" width="1" height="1" fill="#000"/>
<rect x="199.8" y="485.7" width="1" height="1" fill="#000"/>
<rect x="199.7" y="490.7" width="1" height="1" fill="#000"/>
<rect x="195.1" y="485.3" width="1" height="1" fill="#000"/>
<rect x="203.3" y="488.4" width="1" height="1" fill="#000"/>
<rect x="189.7" y="489.2" width="1" height="1" fill="#000"/>
<rect x="183.6" y="484.9" width="1" height="1" fill="#000"/>
<rect x="198.3" y="488.4" width="1" height="1" fill="#000"/>
<rect x="204.0" y="487.9" width="1" height="1" fill="#000"/>
<rect x="205.3" y="489.4" width="1" height="1" fill="#000"/>
<rect x="189.5" y="485.0" width="1" height="1" fill="#000"/>
<rect x="193.7" y="492.2" width="1" height="1" fill="#000"/>
<rect x="201.0" y="489.3" width="1" height="1" fill="#000"/>
<rect x="199.2" y="483.7" width="1" height="1" fill="#000"/>
<rect x="197.8" y="487.4" width="1" height="1" fill="#000"/>
<rect x="192.8" y="491.1" width="1" height="1" fill="#000"/>
<rect x="204.8" y="491.9" width="1" height="1" fill="#000"/>
<rect x="200.9" y="484.8" width="1" height="1" fill="#000"/>
<rect x="201.1" y="484.4" width="1" height="1" fill="#000"/>
<rect x="198.3" y="489.2" width="1" height="1" fill="#000"/>
<rect x="201.4" y="487.4" width="1" height="1" fill="#000"/>
<rect x="201.1" y="486.8" width="1" height="1" fill="#000"/>
<rect x="192.1" y="484.9" width="1" height="1" fill="#000"/>
<rect x="192.5" y="484.9" width="1" height="1" fill="#000"/>
<rect x="200.3" y="485.6" width="1" height="1" fill="#000"/>
<rect x="194.2" y="489.7" width="1" height="1" fill="#000"/>
<rect x="199.8" y="488.1" width="1" height="1" fill="#000"/>
<rect x="194.6" y="484.4" width="1" height="1" fill="#000"/>
<rect x="190.9" y="487.6" width="1" height="1" fill="#000"/>
<rect x="200.6" y="482.2" width="1" height="1" fill="#000"/>
<rect x="194.7" y="487.1" width="1" height="1" fill="#000"/>
<rect x="184.0" y="489.3" width="1" height="1" fill="#000"/>
<rect x="192.5" y="485.5" width="1" height="1" fill="#000"/>
<rect x="204.9" y="490.3" width="1" height="1" fill="#000"/>
<rect x="202.3" y="488.7" width="1" height="1" fill="#000"/>
<rect x="191.9" y="486.1" width="1" height="1" fill="#000"/>
<rect x="183.8" y="488.9" width="1" height="1" fill="#000"/>
<rect x="197.4" y="487.0" width="1" height="1" fill="#000"/>
<rect x="199.6" y="487.4" width="1" height="1" fill="#000"/>
<rect x="208.1" y="488.9" width="1" height="1" fill="#000"/>
<rect x="200.0" y="488.2" width="1" height="1" fill="#000"/>
<rect x="199.2" y="484.7" width="1" height="1" fill="#000"/>
<rect x="195.2" y="487.9" width="1" height="1" fill="#000"/>
<rect x="195.8" y="489.2" width="1" height="1" fill="#000"/>
<rect x="198.7" y="484.7" width="1" height="1" fill="#000"/>
<rect x="190.6" y="486.3" width="1" height="1" fill="#000"/>
<rect x="183.5" y="490.3" width="1" height="1" fill="#000"/>
<rect x="202.0" y="489.7" width="1" height="1" fill="#000"/>
<rect x="192.6" y="489.5" width="1" height="1" fill="#000"/>
<rect x="194.0" y="484.6" width="1" height="1" fill="#000"/>
<rect x="188.1" y="487.2" width="1" height="1" fill="#000"/>
<rect x="192.7" y="487.1" width="1" height="1" fill="#000"/>
<rect x="190.4" y="488.6" width="1" height="1" fill="#000"/>
<rect x="190.7" y="488.0" width="1" height="1" fill="#000"/>
<rect x="185.7" y="488.4" width="1" height="1" fill="#000"/>
<rect x="197.1" y="487.5" width="1" height="1" fill="#000"/>
<rect x="187.3" y="486.3" width="1" height="1" fill="#000"/>
<rect x="195.5" y="486.4" width="1" height="1" fill="#000"/>
<rect x="212.5" y="482.2" width="1" height="1" fill="#222"/>
<rect x="208.0" y="484.3" width="1" height="1" fill="#222"/>
<rect x="206.5" y="482.8" width="1" height="1" fill="#222"/>
<rect x="203.8" y="481.4" width="1" height="1" fill="#222"/>
<rect x="199.0" y="482.3" width="1" height="1" fill="#222"/>
<rect x="199.7" y="483.2" width="1" height="1" fill="#222"/>
<rect x="206.3" y="483.2" width="1" height="1" fill="#222"/>
<rect x="204.2" y="483.0" width="1" height="1" fill="#222"/>
<rect x="206.7" y="481.0" width="1" height="1" fill="#222"/>
<rect x="206.5" y="480.6" width="1" height="1" fill="#222"/>
<rect x="204.7" y="482.8" width="1" height="1" fill="#222"/>
<rect x="208.3" y="482.9" width="1" height="1" fill="#222"/>
<rect x="208.8" y="481.9" width="1" height="1" fill="#222"/>
<rect x="211.0" y="481.0" width="1" height="1" fill="#222"/>
<rect x="208.9" y="481.2" width="1" height="1" fill="#222"/>
<rect x="201.8" y="480.5" width="1" height="1" fill="#222"/>
<rect x="205.1" y="484.6" width="1" height="1" fill="#222"/>
<rect x="210.4" y="480.8" width="1" height="1" fill="#222"/>
<rect x="212.4" y="482.5" width="1" height="1" fill="#222"/>
<rect x="207.9" y="479.8" width="1" height="1" fill="#222"/>
<rect x="209.0" y="480.4" width="1" height="1" fill="#222"/>
<rect x="202.9" y="482.6" width="1" height="1" fill="#222"/>
<rect x="208.3" y="482.4" width="1" height="1" fill="#222"/>
<rect x="201.6" y="478.8" width="1" height="1" fill="#222"/>
<rect x="210.5" y="486.0" width="1" height="1" fill="#222"/>
<rect x="205.1" y="483.8" width="1" height="1" fill="#222"/>
<rect x="207.5" y="482.1" width="1" height="1" fill="#222"/>
<rect x="199.6" y="480.1" width="1" height="1" fill="#222"/>
<rect x="205.6" y="481.2" width="1" height="1" fill="#222"/>
<rect x="205.9" y="481.1" width="1" height="1" fill="#222"/>
<rect x="200.5" y="482.6" width="1" height="1" fill="#222"/>
<rect x="204.3" y="483.1" width="1" height="1" fill="#222"/>
<rect x="205.6" y="483.5" width="1" height="1" fill="#222"/>
<rect x="213.4" y="482.3" width="1" height="1" fill="#222"/>
<rect x="205.0" y="482.8" width="1" height="1" fill="#222"/>
<rect x="206.6" y="482.5" width="1" height="1" fill="#222"/>
<rect x="201.8" y="482.5" width="1" height="1" fill="#222"/>
<rect x="203.9" y="480.5" width="1" height="1" fill="#222"/>
<rect x="209.3" y="481.9" width="1" height="1" fill="#222"/>
<rect x="208.7" y="484.4" width="1" height="1" fill="#222"/>
<rect x="204.1" y="482.9" width="1" height="1" fill="#222"/>
<rect x="206.3" y="479.6" width="1" height="1" fill="#222"/>
<rect x="201.4" y="480.8" width="1" height="1" fill="#222"/>
<rect x="202.8" y="483.1" width="1" height="1" fill="#222"/>
<rect x="209.4" y="481.9" width="1" height="1" fill="#222"/>
<rect x="201.6" y="482.6" width="1" height="1" fill="#222"/>
<rect x="207.1" y="481.1" width="1" height="1" fill="#222"/>
<rect x="209.4" y="483.0" width="1" height="1" fill="#222"/>
<rect x="205.6" y="480.8" width="1" height="1" fill="#222"/>
<rect x="211.1" y="482.5" width="1" height="1" fill="#222"/>
<rect x="210.4" y="484.5" width="1" height="1" fill="#222"/>
<rect x="213.4" y="481.0" width="1" height="1" fill="#222"/>
<rect x="203.3" y="481.1" width="1" height="1" fill="#222"/>
<rect x="211.2" y="482.4" width="1" height="1" fill="#222"/>
<rect x="203.6" y="481.8" width="1" height="1" fill="#222"/>
<rect x="199.0" y="484.6" width="1" height="1" fill="#222"/>
<rect x="204.8" y="483.1" width="1" height="1" fill="#222"/>
<rect x="198.3" y="483.7" width="1" height="1" fill="#222"/>
<rect x="211.3" y="482.6" width="1" height="1" fill="#222"/>
<rect x="211.9" y="481.8" width="1" height="1" fill="#222"/>
<ellipse cx="170.6" cy="490.5" rx="4.8" ry="2.9" transform="rotate(-22 170.6 490.5)" fill="#000"/>
<ellipse cx="193" cy="487.5" rx="7" ry="3.2" transform="rotate(-20 193 487.5)" fill="#000"/>
<ellipse cx="203" cy="484" rx="5" ry="2.2" transform="rotate(-22 203 484)" fill="#000"/>
</g>
<rect x="163.5" y="457" width="55.30000000000001" height="37.80000000000001" fill="none" stroke="#555" stroke-width="0.8"/>
<line x1="163.5" y1="494.8" x2="218.8" y2="494.8" stroke="#111" stroke-width="1.3"/>
<line x1="163.5" y1="457" x2="163.5" y2="494.8" stroke="#222" stroke-width="1.1"/>
<line x1="177.5" y1="457" x2="177.5" y2="494.8" stroke="#000" stroke-width="1.5"/>
<line x1="163.0" y1="485.2" x2="218.8" y2="485.2" stroke="#000" stroke-width="1.5"/>
<line x1="163.5" y1="494.8" x2="163.5" y2="496.40000000000003" stroke="#222" stroke-width="0.8"/>
<line x1="161.9" y1="494.8" x2="163.5" y2="494.8" stroke="#222" stroke-width="0.8"/>
<line x1="177.325" y1="494.8" x2="177.325" y2="496.40000000000003" stroke="#222" stroke-width="0.8"/>
<line x1="161.9" y1="485.35" x2="163.5" y2="485.35" stroke="#222" stroke-width="0.8"/>
<line x1="191.15" y1="494.8" x2="191.15" y2="496.40000000000003" stroke="#222" stroke-width="0.8"/>
<line x1="161.9" y1="475.9" x2="163.5" y2="475.9" stroke="#222" stroke-width="0.8"/>
<line x1="204.97500000000002" y1="494.8" x2="204.97500000000002" y2="496.40000000000003" stroke="#222" stroke-width="0.8"/>
<line x1="161.9" y1="466.45" x2="163.5" y2="466.45" stroke="#222" stroke-width="0.8"/>
<line x1="218.8" y1="494.8" x2="218.8" y2="496.40000000000003" stroke="#222" stroke-width="0.8"/>
<line x1="161.9" y1="457.0" x2="163.5" y2="457.0" stroke="#222" stroke-width="0.8"/>
<line x1="167.661325" y1="494.8" x2="167.661325" y2="495.7" stroke="#444" stroke-width="0.5"/>
<line x1="162.6" y1="491.95555" x2="163.5" y2="491.95555" stroke="#444" stroke-width="0.5"/>
<line x1="170.094525" y1="494.8" x2="170.094525" y2="495.7" stroke="#444" stroke-width="0.5"/>
<line x1="162.6" y1="490.29235" x2="163.5" y2="490.29235" stroke="#444" stroke-width="0.5"/>
<line x1="171.82265" y1="494.8" x2="171.82265" y2="495.7" stroke="#444" stroke-width="0.5"/>
<line x1="162.6" y1="489.1111" x2="163.5" y2="489.1111" stroke="#444" stroke-width="0.5"/>
<line x1="173.163675" y1="494.8" x2="173.163675" y2="495.7" stroke="#444" stroke-width="0.5"/>
<line x1="162.6" y1="488.19445" x2="163.5" y2="488.19445" stroke="#444" stroke-width="0.5"/>
<line x1="174.25585" y1="494.8" x2="174.25585" y2="495.7" stroke="#444" stroke-width="0.5"/>
<line x1="162.6" y1="487.4479" x2="163.5" y2="487.4479" stroke="#444" stroke-width="0.5"/>
<line x1="175.182125" y1="494.8" x2="175.182125" y2="495.7" stroke="#444" stroke-width="0.5"/>
<line x1="162.6" y1="486.81475" x2="163.5" y2="486.81475" stroke="#444" stroke-width="0.5"/>
<line x1="175.98397500000002" y1="494.8" x2="175.98397500000002" y2="495.7" stroke="#444" stroke-width="0.5"/>
<line x1="162.6" y1="486.26665" x2="163.5" y2="486.26665" stroke="#444" stroke-width="0.5"/>
<line x1="176.68905" y1="494.8" x2="176.68905" y2="495.7" stroke="#444" stroke-width="0.5"/>
<line x1="162.6" y1="485.7847" x2="163.5" y2="485.7847" stroke="#444" stroke-width="0.5"/>
<line x1="181.486325" y1="494.8" x2="181.486325" y2="495.7" stroke="#444" stroke-width="0.5"/>
<line x1="162.6" y1="482.50555" x2="163.5" y2="482.50555" stroke="#444" stroke-width="0.5"/>
<line x1="183.919525" y1="494.8" x2="183.919525" y2="495.7" stroke="#444" stroke-width="0.5"/>
<line x1="162.6" y1="480.84235" x2="163.5" y2="480.84235" stroke="#444" stroke-width="0.5"/>
<line x1="185.64765" y1="494.8" x2="185.64765" y2="495.7" stroke="#444" stroke-width="0.5"/>
<line x1="162.6" y1="479.66110000000003" x2="163.5" y2="479.66110000000003" stroke="#444" stroke-width="0.5"/>
<line x1="186.988675" y1="494.8" x2="186.988675" y2="495.7" stroke="#444" stroke-width="0.5"/>
<line x1="162.6" y1="478.74445000000003" x2="163.5" y2="478.74445000000003" stroke="#444" stroke-width="0.5"/>
<line x1="188.08085" y1="494.8" x2="188.08085" y2="495.7" stroke="#444" stroke-width="0.5"/>
<line x1="162.6" y1="477.9979" x2="163.5" y2="477.9979" stroke="#444" stroke-width="0.5"/>
<line x1="189.007125" y1="494.8" x2="189.007125" y2="495.7" stroke="#444" stroke-width="0.5"/>
<line x1="162.6" y1="477.36475" x2="163.5" y2="477.36475" stroke="#444" stroke-width="0.5"/>
<line x1="189.808975" y1="494.8" x2="189.808975" y2="495.7" stroke="#444" stroke-width="0.5"/>
<line x1="162.6" y1="476.81665" x2="163.5" y2="476.81665" stroke="#444" stroke-width="0.5"/>
<line x1="190.51405" y1="494.8" x2="190.51405" y2="495.7" stroke="#444" stroke-width="0.5"/>
<line x1="162.6" y1="476.3347" x2="163.5" y2="476.3347" stroke="#444" stroke-width="0.5"/>
<line x1="195.311325" y1="494.8" x2="195.311325" y2="495.7" stroke="#444" stroke-width="0.5"/>
<line x1="162.6" y1="473.05555" x2="163.5" y2="473.05555" stroke="#444" stroke-width="0.5"/>
<line x1="197.744525" y1="494.8" x2="197.744525" y2="495.7" stroke="#444" stroke-width="0.5"/>
<line x1="162.6" y1="471.39235" x2="163.5" y2="471.39235" stroke="#444" stroke-width="0.5"/>
<line x1="199.47265000000002" y1="494.8" x2="199.47265000000002" y2="495.7" stroke="#444" stroke-width="0.5"/>
<line x1="162.6" y1="470.2111" x2="163.5" y2="470.2111" stroke="#444" stroke-width="0.5"/>
<line x1="200.813675" y1="494.8" x2="200.813675" y2="495.7" stroke="#444" stroke-width="0.5"/>
<line x1="162.6" y1="469.29445" x2="163.5" y2="469.29445" stroke="#444" stroke-width="0.5"/>
<line x1="201.90585000000002" y1="494.8" x2="201.90585000000002" y2="495.7" stroke="#444" stroke-width="0.5"/>
<line x1="162.6" y1="468.5479" x2="163.5" y2="468.5479" stroke="#444" stroke-width="0.5"/>
<line x1="202.83212500000002" y1="494.8" x2="202.83212500000002" y2="495.7" stroke="#444" stroke-width="0.5"/>
<line x1="162.6" y1="467.91475" x2="163.5" y2="467.91475" stroke="#444" stroke-width="0.5"/>
<line x1="203.63397500000002" y1="494.8" x2="203.63397500000002" y2="495.7" stroke="#444" stroke-width="0.5"/>
<line x1="162.6" y1="467.36665" x2="163.5" y2="467.36665" stroke="#444" stroke-width="0.5"/>
<line x1="204.33905000000001" y1="494.8" x2="204.33905000000001" y2="495.7" stroke="#444" stroke-width="0.5"/>
<line x1="162.6" y1="466.8847" x2="163.5" y2="466.8847" stroke="#444" stroke-width="0.5"/>
<line x1="209.136325" y1="494.8" x2="209.136325" y2="495.7" stroke="#444" stroke-width="0.5"/>
<line x1="162.6" y1="463.60555" x2="163.5" y2="463.60555" stroke="#444" stroke-width="0.5"/>
<line x1="211.569525" y1="494.8" x2="211.569525" y2="495.7" stroke="#444" stroke-width="0.5"/>
<line x1="162.6" y1="461.94235000000003" x2="163.5" y2="461.94235000000003" stroke="#444" stroke-width="0.5"/>
<line x1="213.29765" y1="494.8" x2="213.29765" y2="495.7" stroke="#444" stroke-width="0.5"/>
<line x1="162.6" y1="460.7611" x2="163.5" y2="460.7611" stroke="#444" stroke-width="0.5"/>
<line x1="214.638675" y1="494.8" x2="214.638675" y2="495.7" stroke="#444" stroke-width="0.5"/>
<line x1="162.6" y1="459.84445" x2="163.5" y2="459.84445" stroke="#444" stroke-width="0.5"/>
<line x1="215.73085" y1="494.8" x2="215.73085" y2="495.7" stroke="#444" stroke-width="0.5"/>
<line x1="162.6" y1="459.0979" x2="163.5" y2="459.0979" stroke="#444" stroke-width="0.5"/>
<line x1="216.657125" y1="494.8" x2="216.657125" y2="495.7" stroke="#444" stroke-width="0.5"/>
<line x1="162.6" y1="458.46475" x2="163.5" y2="458.46475" stroke="#444" stroke-width="0.5"/>
<line x1="217.458975" y1="494.8" x2="217.458975" y2="495.7" stroke="#444" stroke-width="0.5"/>
<line x1="162.6" y1="457.91665" x2="163.5" y2="457.91665" stroke="#444" stroke-width="0.5"/>
<line x1="218.16405" y1="494.8" x2="218.16405" y2="495.7" stroke="#444" stroke-width="0.5"/>
<line x1="162.6" y1="457.4347" x2="163.5" y2="457.4347" stroke="#444" stroke-width="0.5"/>
<text x="164.0" y="502.8" font-size="5.3" text-anchor="middle" stroke="none" fill="#3a3a3a">10<tspan font-size="3.71" dy="-2">0</tspan></text>
<text x="159.1" y="493.0" font-size="5.3" text-anchor="middle" stroke="none" fill="#3a3a3a" transform="rotate(-90 159.1 493.0)">10<tspan font-size="3.71" dy="-2">0</tspan></text>
<text x="177.825" y="502.8" font-size="5.3" text-anchor="middle" stroke="none" fill="#3a3a3a">10<tspan font-size="3.71" dy="-2">1</tspan></text>
<text x="159.1" y="483.55" font-size="5.3" text-anchor="middle" stroke="none" fill="#3a3a3a" transform="rotate(-90 159.1 483.55)">10<tspan font-size="3.71" dy="-2">1</tspan></text>
<text x="191.65" y="502.8" font-size="5.3" text-anchor="middle" stroke="none" fill="#3a3a3a">10<tspan font-size="3.71" dy="-2">2</tspan></text>
<text x="159.1" y="474.09999999999997" font-size="5.3" text-anchor="middle" stroke="none" fill="#3a3a3a" transform="rotate(-90 159.1 474.09999999999997)">10<tspan font-size="3.71" dy="-2">2</tspan></text>
<text x="205.47500000000002" y="502.8" font-size="5.3" text-anchor="middle" stroke="none" fill="#3a3a3a">10<tspan font-size="3.71" dy="-2">3</tspan></text>
<text x="159.1" y="464.65" font-size="5.3" text-anchor="middle" stroke="none" fill="#3a3a3a" transform="rotate(-90 159.1 464.65)">10<tspan font-size="3.71" dy="-2">3</tspan></text>
<text x="219.3" y="502.8" font-size="5.3" text-anchor="middle" stroke="none" fill="#3a3a3a">10<tspan font-size="3.71" dy="-2">4</tspan></text>
<text x="159.1" y="455.2" font-size="5.3" text-anchor="middle" stroke="none" fill="#3a3a3a" transform="rotate(-90 159.1 455.2)">10<tspan font-size="3.71" dy="-2">4</tspan></text>
<line x1="311.6" y1="306.5" x2="311.6" y2="459.4" stroke="#b4b4b4" stroke-width="1"/>
<line x1="466.0" y1="306.5" x2="466.0" y2="459.4" stroke="#b4b4b4" stroke-width="1"/>
<line x1="311.6" y1="459.4" x2="466.0" y2="459.4" stroke="#b4b4b4" stroke-width="1"/>
<line x1="309.40000000000003" y1="459.4" x2="311.6" y2="459.4" stroke="#b4b4b4" stroke-width="1"/>
<line x1="466.0" y1="459.4" x2="468.2" y2="459.4" stroke="#b4b4b4" stroke-width="1"/>
<line x1="309.40000000000003" y1="444.10999999999996" x2="311.6" y2="444.10999999999996" stroke="#b4b4b4" stroke-width="1"/>
<line x1="466.0" y1="444.10999999999996" x2="468.2" y2="444.10999999999996" stroke="#b4b4b4" stroke-width="1"/>
<line x1="309.40000000000003" y1="428.82" x2="311.6" y2="428.82" stroke="#b4b4b4" stroke-width="1"/>
<line x1="466.0" y1="428.82" x2="468.2" y2="428.82" stroke="#b4b4b4" stroke-width="1"/>
<line x1="309.40000000000003" y1="413.53" x2="311.6" y2="413.53" stroke="#b4b4b4" stroke-width="1"/>
<line x1="466.0" y1="413.53" x2="468.2" y2="413.53" stroke="#b4b4b4" stroke-width="1"/>
<line x1="309.40000000000003" y1="398.24" x2="311.6" y2="398.24" stroke="#b4b4b4" stroke-width="1"/>
<line x1="466.0" y1="398.24" x2="468.2" y2="398.24" stroke="#b4b4b4" stroke-width="1"/>
<line x1="309.40000000000003" y1="382.95" x2="311.6" y2="382.95" stroke="#b4b4b4" stroke-width="1"/>
<line x1="466.0" y1="382.95" x2="468.2" y2="382.95" stroke="#b4b4b4" stroke-width="1"/>
<line x1="309.40000000000003" y1="367.65999999999997" x2="311.6" y2="367.65999999999997" stroke="#b4b4b4" stroke-width="1"/>
<line x1="466.0" y1="367.65999999999997" x2="468.2" y2="367.65999999999997" stroke="#b4b4b4" stroke-width="1"/>
<line x1="309.40000000000003" y1="352.37" x2="311.6" y2="352.37" stroke="#b4b4b4" stroke-width="1"/>
<line x1="466.0" y1="352.37" x2="468.2" y2="352.37" stroke="#b4b4b4" stroke-width="1"/>
<line x1="309.40000000000003" y1="337.08" x2="311.6" y2="337.08" stroke="#b4b4b4" stroke-width="1"/>
<line x1="466.0" y1="337.08" x2="468.2" y2="337.08" stroke="#b4b4b4" stroke-width="1"/>
<line x1="309.40000000000003" y1="321.78999999999996" x2="311.6" y2="321.78999999999996" stroke="#b4b4b4" stroke-width="1"/>
<line x1="466.0" y1="321.78999999999996" x2="468.2" y2="321.78999999999996" stroke="#b4b4b4" stroke-width="1"/>
<line x1="309.40000000000003" y1="306.5" x2="311.6" y2="306.5" stroke="#b4b4b4" stroke-width="1"/>
<line x1="466.0" y1="306.5" x2="468.2" y2="306.5" stroke="#b4b4b4" stroke-width="1"/>
<line x1="311.6" y1="459.4" x2="311.6" y2="461.59999999999997" stroke="#b4b4b4" stroke-width="1"/>
<line x1="350.20000000000005" y1="459.4" x2="350.20000000000005" y2="461.59999999999997" stroke="#b4b4b4" stroke-width="1"/>
<line x1="388.8" y1="459.4" x2="388.8" y2="461.59999999999997" stroke="#b4b4b4" stroke-width="1"/>
<line x1="427.40000000000003" y1="459.4" x2="427.40000000000003" y2="461.59999999999997" stroke="#b4b4b4" stroke-width="1"/>
<line x1="466.0" y1="459.4" x2="466.0" y2="461.59999999999997" stroke="#b4b4b4" stroke-width="1"/>
<text x="305.3" y="464.9" font-size="12" text-anchor="end" fill="#000">0</text>
<text x="488.2" y="464.9" font-size="12" text-anchor="end" fill="#000">0</text>
<text x="305.3" y="434.32" font-size="12" text-anchor="end" fill="#000">20</text>
<text x="489.6" y="434.32" font-size="12" text-anchor="end" fill="#000">20</text>
<text x="305.3" y="403.74" font-size="12" text-anchor="end" fill="#000">40</text>
<text x="489.6" y="403.74" font-size="12" text-anchor="end" fill="#000">40</text>
<text x="305.3" y="373.15999999999997" font-size="12" text-anchor="end" fill="#000">60</text>
<text x="489.6" y="373.15999999999997" font-size="12" text-anchor="end" fill="#000">60</text>
<text x="305.3" y="342.58" font-size="12" text-anchor="end" fill="#000">80</text>
<text x="489.6" y="342.58" font-size="12" text-anchor="end" fill="#000">80</text>
<text x="305.3" y="312.0" font-size="12" text-anchor="end" fill="#000">100</text>
<text x="489.6" y="312.0" font-size="12" text-anchor="end" fill="#000">100</text>
<text x="312.1" y="480" font-size="12" text-anchor="middle" fill="#000">0</text>
<text x="353.6" y="480" font-size="12" text-anchor="middle" fill="#000">0.025</text>
<text x="392.9" y="480" font-size="12" text-anchor="middle" fill="#000">0.05</text>
<text x="431.8" y="480" font-size="12" text-anchor="middle" fill="#000">0.075</text>
<text x="467.7" y="480" font-size="12" text-anchor="middle" fill="#000">0.1</text>
<text x="309.5" y="508.5" font-size="14" text-anchor="start" fill="#000">TSP-1 concentration (µM)</text>
<text x="278.2" y="430.8" font-size="14" text-anchor="start" transform="rotate(-90 278.2 430.8)" fill="#000">cell growth % (<tspan dx="6.2">)</tspan></text>
<circle cx="274.9" cy="335.7" r="2.85" fill="#000"/>
<text x="516.1" y="474.8" font-size="14" text-anchor="start" transform="rotate(-90 516.1 474.8)" fill="#000">annexin V positive cells % (<tspan dx="6.6">)</tspan></text>
<path d="M508.5,299.2 L514,296.1 L514,302.3 Z" fill="#000"/>
<polyline points="311.6,306.5 350.2,376.8 388.8,393.7 427.4,401.3 466.0,412.0" fill="none" stroke="#333" stroke-width="1.2" stroke-dasharray="6 3"/>
<polyline points="311.6,457.9 350.2,454.8 388.8,448.7 427.4,442.6 466.0,412.0" fill="none" stroke="#000" stroke-width="1.7" stroke-dasharray="5.3 3.7"/>
<polyline points="311.6,355.4 350.2,390.6 388.8,410.5 427.4,418.1 466.0,444.1" fill="none" stroke="#000" stroke-width="1.5"/>
<polyline points="311.6,444.1 350.2,442.6 388.8,430.3 427.4,421.2 466.0,364.6" fill="none" stroke="#000" stroke-width="1.5"/>
<line x1="350.20000000000005" y1="371.48249999999996" x2="350.20000000000005" y2="382.1855" stroke="#000" stroke-width="1.3"/>
<line x1="347.00000000000006" y1="371.48249999999996" x2="353.40000000000003" y2="371.48249999999996" stroke="#000" stroke-width="1.3"/>
<line x1="347.00000000000006" y1="382.1855" x2="353.40000000000003" y2="382.1855" stroke="#000" stroke-width="1.3"/>
<line x1="388.8" y1="389.066" x2="388.8" y2="398.24" stroke="#000" stroke-width="1.3"/>
<line x1="385.6" y1="389.066" x2="392.0" y2="389.066" stroke="#000" stroke-width="1.3"/>
<line x1="385.6" y1="398.24" x2="392.0" y2="398.24" stroke="#000" stroke-width="1.3"/>
<line x1="427.40000000000003" y1="397.4755" x2="427.40000000000003" y2="405.1205" stroke="#000" stroke-width="1.3"/>
<line x1="424.20000000000005" y1="397.4755" x2="430.6" y2="397.4755" stroke="#000" stroke-width="1.3"/>
<line x1="424.20000000000005" y1="405.1205" x2="430.6" y2="405.1205" stroke="#000" stroke-width="1.3"/>
<line x1="466.0" y1="407.414" x2="466.0" y2="416.58799999999997" stroke="#000" stroke-width="1.3"/>
<line x1="462.8" y1="407.414" x2="469.2" y2="407.414" stroke="#000" stroke-width="1.3"/>
<line x1="462.8" y1="416.58799999999997" x2="469.2" y2="416.58799999999997" stroke="#000" stroke-width="1.3"/>
<line x1="311.6" y1="350.0765" x2="311.6" y2="360.7795" stroke="#000" stroke-width="1.3"/>
<line x1="308.40000000000003" y1="350.0765" x2="314.8" y2="350.0765" stroke="#000" stroke-width="1.3"/>
<line x1="308.40000000000003" y1="360.7795" x2="314.8" y2="360.7795" stroke="#000" stroke-width="1.3"/>
<line x1="350.20000000000005" y1="387.537" x2="350.20000000000005" y2="393.65299999999996" stroke="#000" stroke-width="1.3"/>
<line x1="347.00000000000006" y1="387.537" x2="353.40000000000003" y2="387.537" stroke="#000" stroke-width="1.3"/>
<line x1="347.00000000000006" y1="393.65299999999996" x2="353.40000000000003" y2="393.65299999999996" stroke="#000" stroke-width="1.3"/>
<line x1="388.8" y1="408.943" x2="388.8" y2="412.001" stroke="#000" stroke-width="1.3"/>
<line x1="385.6" y1="408.943" x2="392.0" y2="408.943" stroke="#000" stroke-width="1.3"/>
<line x1="385.6" y1="412.001" x2="392.0" y2="412.001" stroke="#000" stroke-width="1.3"/>
<line x1="427.40000000000003" y1="413.53" x2="427.40000000000003" y2="422.70399999999995" stroke="#000" stroke-width="1.3"/>
<line x1="424.20000000000005" y1="413.53" x2="430.6" y2="413.53" stroke="#000" stroke-width="1.3"/>
<line x1="424.20000000000005" y1="422.70399999999995" x2="430.6" y2="422.70399999999995" stroke="#000" stroke-width="1.3"/>
<line x1="466.0" y1="440.28749999999997" x2="466.0" y2="447.9325" stroke="#000" stroke-width="1.3"/>
<line x1="462.8" y1="440.28749999999997" x2="469.2" y2="440.28749999999997" stroke="#000" stroke-width="1.3"/>
<line x1="462.8" y1="447.9325" x2="469.2" y2="447.9325" stroke="#000" stroke-width="1.3"/>
<line x1="311.6" y1="442.58099999999996" x2="311.6" y2="445.63899999999995" stroke="#000" stroke-width="1.3"/>
<line x1="308.40000000000003" y1="442.58099999999996" x2="314.8" y2="442.58099999999996" stroke="#000" stroke-width="1.3"/>
<line x1="308.40000000000003" y1="445.63899999999995" x2="314.8" y2="445.63899999999995" stroke="#000" stroke-width="1.3"/>
<line x1="350.20000000000005" y1="438.75849999999997" x2="350.20000000000005" y2="446.40349999999995" stroke="#000" stroke-width="1.3"/>
<line x1="347.00000000000006" y1="438.75849999999997" x2="353.40000000000003" y2="438.75849999999997" stroke="#000" stroke-width="1.3"/>
<line x1="347.00000000000006" y1="446.40349999999995" x2="353.40000000000003" y2="446.40349999999995" stroke="#000" stroke-width="1.3"/>
<line x1="388.8" y1="428.0555" x2="388.8" y2="432.6425" stroke="#000" stroke-width="1.3"/>
<line x1="385.6" y1="428.0555" x2="392.0" y2="428.0555" stroke="#000" stroke-width="1.3"/>
<line x1="385.6" y1="432.6425" x2="392.0" y2="432.6425" stroke="#000" stroke-width="1.3"/>
<line x1="427.40000000000003" y1="418.11699999999996" x2="427.40000000000003" y2="424.23299999999995" stroke="#000" stroke-width="1.3"/>
<line x1="424.20000000000005" y1="418.11699999999996" x2="430.6" y2="418.11699999999996" stroke="#000" stroke-width="1.3"/>
<line x1="424.20000000000005" y1="424.23299999999995" x2="430.6" y2="424.23299999999995" stroke="#000" stroke-width="1.3"/>
<line x1="466.0" y1="354.8164" x2="466.0" y2="374.38759999999996" stroke="#000" stroke-width="1.3"/>
<line x1="462.8" y1="354.8164" x2="469.2" y2="354.8164" stroke="#000" stroke-width="1.3"/>
<line x1="462.8" y1="374.38759999999996" x2="469.2" y2="374.38759999999996" stroke="#000" stroke-width="1.3"/>
<line x1="388.8" y1="443.34549999999996" x2="388.8" y2="454.0485" stroke="#000" stroke-width="1.3"/>
<line x1="385.6" y1="443.34549999999996" x2="392.0" y2="443.34549999999996" stroke="#000" stroke-width="1.3"/>
<line x1="385.6" y1="454.0485" x2="392.0" y2="454.0485" stroke="#000" stroke-width="1.3"/>
<line x1="427.40000000000003" y1="440.28749999999997" x2="427.40000000000003" y2="444.87449999999995" stroke="#000" stroke-width="1.3"/>
<line x1="424.20000000000005" y1="440.28749999999997" x2="430.6" y2="440.28749999999997" stroke="#000" stroke-width="1.3"/>
<line x1="424.20000000000005" y1="444.87449999999995" x2="430.6" y2="444.87449999999995" stroke="#000" stroke-width="1.3"/>
<line x1="466.0" y1="402.9799" x2="466.0" y2="421.02209999999997" stroke="#000" stroke-width="1.3"/>
<line x1="462.8" y1="402.9799" x2="469.2" y2="402.9799" stroke="#000" stroke-width="1.3"/>
<line x1="462.8" y1="421.02209999999997" x2="469.2" y2="421.02209999999997" stroke="#000" stroke-width="1.3"/>
<circle cx="311.6" cy="306.5" r="3.3" fill="#000"/>
<circle cx="350.2" cy="376.8" r="3.3" fill="#000"/>
<circle cx="388.8" cy="393.7" r="3.3" fill="#000"/>
<circle cx="427.4" cy="401.3" r="3.3" fill="#000"/>
<circle cx="466.0" cy="412.0" r="3.3" fill="#000"/>
<circle cx="311.6" cy="355.4" r="3.3" fill="#000"/>
<circle cx="350.2" cy="390.6" r="3.3" fill="#000"/>
<circle cx="388.8" cy="410.5" r="3.3" fill="#000"/>
<circle cx="427.4" cy="418.1" r="3.3" fill="#000"/>
<circle cx="466.0" cy="444.1" r="3.3" fill="#000"/>
<path d="M311.6,440.2 L315.1,447.1 L308.1,447.1 Z" fill="#000"/>
<path d="M350.2,438.7 L353.7,445.6 L346.7,445.6 Z" fill="#000"/>
<path d="M388.8,426.4 L392.3,433.3 L385.3,433.3 Z" fill="#000"/>
<path d="M427.4,417.3 L430.9,424.2 L423.9,424.2 Z" fill="#000"/>
<path d="M466.0,360.7 L469.5,367.6 L462.5,367.6 Z" fill="#000"/>
<path d="M311.6,454.0 L315.1,460.9 L308.1,460.9 Z" fill="#000"/>
<path d="M350.2,450.9 L353.7,457.8 L346.7,457.8 Z" fill="#000"/>
<path d="M388.8,444.8 L392.3,451.7 L385.3,451.7 Z" fill="#000"/>
<path d="M427.4,438.7 L430.9,445.6 L423.9,445.6 Z" fill="#000"/>
<path d="M466.0,408.1 L469.5,415.0 L462.5,415.0 Z" fill="#000"/>
</svg>
</body></html>
